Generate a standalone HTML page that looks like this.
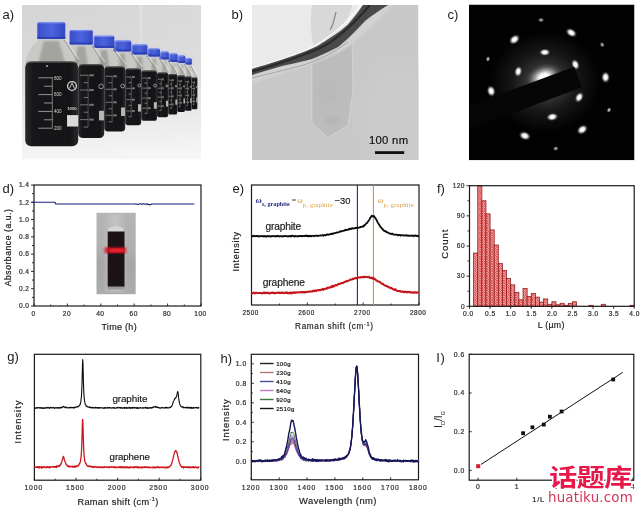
<!DOCTYPE html>
<html><head><meta charset="utf-8"><title>Figure</title>
<style>html,body{margin:0;padding:0;background:#fff;overflow:hidden;width:640px;height:510px;} svg{display:block;filter:blur(0.3px);}</style></head>
<body><svg width="640" height="510" viewBox="0 0 640 510" font-family="'Liberation Sans', Arial, sans-serif">
<rect width="640" height="510" fill="#fff"/>
<text x="2.5" y="18.5" font-size="13" text-anchor="start" fill="#1a1a1a" letter-spacing="0">a)</text>
<text x="231.5" y="18.5" font-size="13" text-anchor="start" fill="#1a1a1a" letter-spacing="0">b)</text>
<text x="447.5" y="18.5" font-size="13" text-anchor="start" fill="#1a1a1a" letter-spacing="0">c)</text>
<text x="2.5" y="192.7" font-size="13" text-anchor="start" fill="#1a1a1a" letter-spacing="0">d)</text>
<text x="232.5" y="192.8" font-size="13" text-anchor="start" fill="#1a1a1a" letter-spacing="0">e)</text>
<text x="437" y="192.5" font-size="13" text-anchor="start" fill="#1a1a1a" letter-spacing="0">f)</text>
<text x="7.2" y="360.5" font-size="13" text-anchor="start" fill="#1a1a1a" letter-spacing="0">g)</text>
<text x="220.5" y="362.6" font-size="13" text-anchor="start" fill="#1a1a1a" letter-spacing="0">h)</text>
<text x="436.3" y="361.6" font-size="13" text-anchor="start" fill="#1a1a1a" letter-spacing="0.7">I)</text>
<defs>
<linearGradient id="aBg" x1="0" y1="0" x2="0" y2="1">
 <stop offset="0" stop-color="#d5d5d5"/><stop offset="0.45" stop-color="#d9d9d9"/>
 <stop offset="0.62" stop-color="#e2e2e2"/><stop offset="1" stop-color="#f6f6f6"/></linearGradient>
<linearGradient id="aBgR" x1="0" y1="0" x2="1" y2="0">
 <stop offset="0" stop-color="#fff" stop-opacity="0"/><stop offset="0.6" stop-color="#fff" stop-opacity="0.05"/>
 <stop offset="1" stop-color="#fff" stop-opacity="0.12"/></linearGradient>
<linearGradient id="cap" x1="0" y1="0" x2="1" y2="0">
 <stop offset="0" stop-color="#3a50cc"/><stop offset="0.5" stop-color="#5068e4"/><stop offset="1" stop-color="#3448c0"/></linearGradient>
<linearGradient id="glass" x1="0" y1="0" x2="1" y2="0">
 <stop offset="0" stop-color="#a8a8a8"/><stop offset="0.2" stop-color="#c4c4c0"/><stop offset="0.45" stop-color="#b4b4b0"/><stop offset="0.7" stop-color="#c8c8c4"/><stop offset="1" stop-color="#9a9a9a"/></linearGradient>
<linearGradient id="liq" x1="0" y1="0" x2="1" y2="0">
 <stop offset="0" stop-color="#2a2a2e"/><stop offset="0.15" stop-color="#17171a"/><stop offset="0.85" stop-color="#141417"/><stop offset="1" stop-color="#2a2a2c"/></linearGradient>
<filter id="blur05"><feGaussianBlur stdDeviation="0.5"/></filter>
<filter id="blur1"><feGaussianBlur stdDeviation="1"/></filter>
<filter id="blur2"><feGaussianBlur stdDeviation="2"/></filter>
<filter id="blur4"><feGaussianBlur stdDeviation="4"/></filter>
<filter id="blur8"><feGaussianBlur stdDeviation="8"/></filter>
<clipPath id="clipA"><rect x="22" y="5" width="179" height="154.5"/></clipPath>
<clipPath id="clipB"><rect x="252" y="5" width="166.5" height="155"/></clipPath>
<clipPath id="clipC"><rect x="469" y="4.5" width="165.5" height="155.8"/></clipPath>
</defs>
<g clip-path="url(#clipA)">
<rect x="22" y="5" width="179" height="154.5" fill="url(#aBg)"/>
<rect x="22" y="5" width="179" height="154.5" fill="url(#aBgR)"/>
<rect x="139.5" y="5" width="3" height="45" fill="#e4e4e4" opacity="0.7" filter="url(#blur1)"/>
<path d="M25.2,63.5 L38.3,39 L64.3,39 L70.6,44.5 L91.8,44.5 L94.6,48 L113.3,48 L114.6,51.4 L130.3,51.4 L132.6,54.5 L146.5,54.5 L148.8,56.6 L159,56.6 L160.6,59.4 L167.8,59.4 L169.6,62 L176.6,62 L178.4,63 L184.4,63 L186.2,64.6 L190.8,64.6 L197.4,79.5 L197.4,79.5 L191.6,79.5 L191.6,78.5 L185,78.5 L185,77.5 L177.2,77.5 L177.2,76 L168.2,76 L168.2,74.5 L157,74.5 L157,72.5 L141.2,72.5 L141.2,70.5 L125.2,70.5 L125.2,68.5 L104.2,68.5 L104.2,66.2 L78.2,66.2 L78.2,63.5 L25.2,63.5 Z" fill="#c8c8c5"/>
<path d="M25.2,63.5 Q27,48 37.5,42 L40,39 L40,63.5 Z" fill="#c9c9c6"/>
<path d="M187.69,66.6 L189.31,66.6 L190.01,78.5 L187.11,78.5 Z" fill="#9a9a96" opacity="0.8" filter="url(#blur1)"/>
<line x1="190.8" y1="65.6" x2="196.9" y2="77.5" stroke="#8c8c8c" stroke-width="0.9" opacity="0.8"/>
<line x1="192.3" y1="65.6" x2="198.4" y2="75.5" stroke="#eeeeee" stroke-width="0.8" opacity="0.8"/>
<rect x="191.6" y="77.5" width="5.8" height="31.8" rx="1.04" fill="url(#liq)"/>
<rect x="192.6" y="77.5" width="3.8" height="1.2" fill="#6a6a6a" opacity="0.6"/>
<rect x="184.2" y="57" width="8.6" height="8.1" rx="2.5" fill="#c8d0f4" opacity="0.7" filter="url(#blur1)"/>
<rect x="185.2" y="58" width="6.6" height="6.6" rx="1.8" fill="url(#cap)"/>
<line x1="186.85" y1="59.5" x2="186.85" y2="62.1" stroke="#3347b8" stroke-width="0.5" opacity="0.6"/>
<line x1="188.5" y1="59.5" x2="188.5" y2="62.1" stroke="#3347b8" stroke-width="0.5" opacity="0.6"/>
<line x1="190.15" y1="59.5" x2="190.15" y2="62.1" stroke="#3347b8" stroke-width="0.5" opacity="0.6"/>
<rect x="185.2" y="62.4" width="6.6" height="2.2" fill="#2b3cac" opacity="0.85"/>
<rect x="186.2" y="58" width="4.6" height="1.2" fill="#8a9af0" opacity="0.7"/>
<line x1="192.01" y1="82.27" x2="193.8" y2="82.27" stroke="#b4b4b4" stroke-width="0.6"/>
<rect x="194.04" y="81.27" width="1.04" height="2" fill="#8a8a8a" opacity="0.8"/>
<line x1="192.82" y1="85.45" x2="193.8" y2="85.45" stroke="#b4b4b4" stroke-width="0.6"/>
<line x1="192.01" y1="88.63" x2="193.8" y2="88.63" stroke="#b4b4b4" stroke-width="0.6"/>
<rect x="194.04" y="87.63" width="1.04" height="2" fill="#8a8a8a" opacity="0.8"/>
<line x1="192.82" y1="91.81" x2="193.8" y2="91.81" stroke="#b4b4b4" stroke-width="0.6"/>
<line x1="192.01" y1="94.99" x2="193.8" y2="94.99" stroke="#b4b4b4" stroke-width="0.6"/>
<rect x="194.04" y="93.99" width="1.04" height="2" fill="#8a8a8a" opacity="0.8"/>
<line x1="192.82" y1="98.17" x2="193.8" y2="98.17" stroke="#b4b4b4" stroke-width="0.6"/>
<line x1="192.01" y1="101.35" x2="193.8" y2="101.35" stroke="#b4b4b4" stroke-width="0.6"/>
<rect x="194.04" y="100.35" width="1.04" height="2" fill="#8a8a8a" opacity="0.8"/>
<line x1="192.82" y1="104.53" x2="193.8" y2="104.53" stroke="#b4b4b4" stroke-width="0.6"/>
<line x1="193.8" y1="82.27" x2="193.8" y2="104.53" stroke="#8a8a8a" stroke-width="0.5"/>
<rect x="196.24" y="97.53" width="1.1" height="5" fill="#c8c8c8" opacity="0.9"/>
<circle cx="196.7" cy="87.04" r="0.52" fill="none" stroke="#b0b0b0" stroke-width="0.8"/>
<path d="M180.48,65 L182.32,65 L183.12,77.5 L179.82,77.5 Z" fill="#9a9a96" opacity="0.8" filter="url(#blur1)"/>
<line x1="184.4" y1="64" x2="191.1" y2="76.5" stroke="#8c8c8c" stroke-width="0.9" opacity="0.8"/>
<line x1="185.9" y1="64" x2="192.6" y2="74.5" stroke="#eeeeee" stroke-width="0.8" opacity="0.8"/>
<rect x="185" y="76.5" width="6.6" height="34.3" rx="1.19" fill="url(#liq)"/>
<rect x="186" y="76.5" width="4.6" height="1.2" fill="#6a6a6a" opacity="0.6"/>
<rect x="176.4" y="54.5" width="10" height="9" rx="2.5" fill="#c8d0f4" opacity="0.7" filter="url(#blur1)"/>
<rect x="177.4" y="55.5" width="8" height="7.5" rx="1.8" fill="url(#cap)"/>
<line x1="179.4" y1="57" x2="179.4" y2="60.5" stroke="#3347b8" stroke-width="0.5" opacity="0.6"/>
<line x1="181.4" y1="57" x2="181.4" y2="60.5" stroke="#3347b8" stroke-width="0.5" opacity="0.6"/>
<line x1="183.4" y1="57" x2="183.4" y2="60.5" stroke="#3347b8" stroke-width="0.5" opacity="0.6"/>
<rect x="177.4" y="60.8" width="8" height="2.2" fill="#2b3cac" opacity="0.85"/>
<rect x="178.4" y="55.5" width="6" height="1.2" fill="#8a9af0" opacity="0.7"/>
<line x1="185.46" y1="81.64" x2="187.51" y2="81.64" stroke="#b4b4b4" stroke-width="0.6"/>
<rect x="187.77" y="80.64" width="1.19" height="2" fill="#8a8a8a" opacity="0.8"/>
<line x1="186.38" y1="85.08" x2="187.51" y2="85.08" stroke="#b4b4b4" stroke-width="0.6"/>
<line x1="185.46" y1="88.5" x2="187.51" y2="88.5" stroke="#b4b4b4" stroke-width="0.6"/>
<rect x="187.77" y="87.5" width="1.19" height="2" fill="#8a8a8a" opacity="0.8"/>
<line x1="186.38" y1="91.94" x2="187.51" y2="91.94" stroke="#b4b4b4" stroke-width="0.6"/>
<line x1="185.46" y1="95.36" x2="187.51" y2="95.36" stroke="#b4b4b4" stroke-width="0.6"/>
<rect x="187.77" y="94.36" width="1.19" height="2" fill="#8a8a8a" opacity="0.8"/>
<line x1="186.38" y1="98.8" x2="187.51" y2="98.8" stroke="#b4b4b4" stroke-width="0.6"/>
<line x1="185.46" y1="102.22" x2="187.51" y2="102.22" stroke="#b4b4b4" stroke-width="0.6"/>
<rect x="187.77" y="101.22" width="1.19" height="2" fill="#8a8a8a" opacity="0.8"/>
<line x1="186.38" y1="105.66" x2="187.51" y2="105.66" stroke="#b4b4b4" stroke-width="0.6"/>
<line x1="187.51" y1="81.64" x2="187.51" y2="105.66" stroke="#8a8a8a" stroke-width="0.5"/>
<rect x="190.28" y="98.11" width="1.25" height="5" fill="#c8c8c8" opacity="0.9"/>
<circle cx="190.81" cy="86.79" r="0.59" fill="none" stroke="#b0b0b0" stroke-width="0.8"/>
<path d="M172.01,64 L174.19,64 L175.13,76.5 L171.23,76.5 Z" fill="#9a9a96" opacity="0.8" filter="url(#blur1)"/>
<line x1="176.6" y1="63" x2="184.5" y2="75.5" stroke="#8c8c8c" stroke-width="0.9" opacity="0.8"/>
<line x1="178.1" y1="63" x2="186" y2="73.5" stroke="#eeeeee" stroke-width="0.8" opacity="0.8"/>
<rect x="177.2" y="75.5" width="7.8" height="36.5" rx="1.4" fill="url(#liq)"/>
<rect x="178.2" y="75.5" width="5.8" height="1.2" fill="#6a6a6a" opacity="0.6"/>
<rect x="167.6" y="52.5" width="11" height="10" rx="2.5" fill="#c8d0f4" opacity="0.7" filter="url(#blur1)"/>
<rect x="168.6" y="53.5" width="9" height="8.5" rx="1.8" fill="url(#cap)"/>
<line x1="170.85" y1="55" x2="170.85" y2="59.5" stroke="#3347b8" stroke-width="0.5" opacity="0.6"/>
<line x1="173.1" y1="55" x2="173.1" y2="59.5" stroke="#3347b8" stroke-width="0.5" opacity="0.6"/>
<line x1="175.35" y1="55" x2="175.35" y2="59.5" stroke="#3347b8" stroke-width="0.5" opacity="0.6"/>
<rect x="168.6" y="59.8" width="9" height="2.2" fill="#2b3cac" opacity="0.85"/>
<rect x="169.6" y="53.5" width="7" height="1.2" fill="#8a9af0" opacity="0.7"/>
<line x1="177.75" y1="80.97" x2="180.16" y2="80.97" stroke="#b4b4b4" stroke-width="0.6"/>
<rect x="180.48" y="79.97" width="1.4" height="2" fill="#8a8a8a" opacity="0.8"/>
<line x1="178.83" y1="84.62" x2="180.16" y2="84.62" stroke="#b4b4b4" stroke-width="0.6"/>
<line x1="177.75" y1="88.27" x2="180.16" y2="88.27" stroke="#b4b4b4" stroke-width="0.6"/>
<rect x="180.48" y="87.27" width="1.4" height="2" fill="#8a8a8a" opacity="0.8"/>
<line x1="178.83" y1="91.92" x2="180.16" y2="91.92" stroke="#b4b4b4" stroke-width="0.6"/>
<line x1="177.75" y1="95.58" x2="180.16" y2="95.58" stroke="#b4b4b4" stroke-width="0.6"/>
<rect x="180.48" y="94.58" width="1.4" height="2" fill="#8a8a8a" opacity="0.8"/>
<line x1="178.83" y1="99.22" x2="180.16" y2="99.22" stroke="#b4b4b4" stroke-width="0.6"/>
<line x1="177.75" y1="102.88" x2="180.16" y2="102.88" stroke="#b4b4b4" stroke-width="0.6"/>
<rect x="180.48" y="101.88" width="1.4" height="2" fill="#8a8a8a" opacity="0.8"/>
<line x1="178.83" y1="106.53" x2="180.16" y2="106.53" stroke="#b4b4b4" stroke-width="0.6"/>
<line x1="180.16" y1="80.97" x2="180.16" y2="106.53" stroke="#8a8a8a" stroke-width="0.5"/>
<rect x="183.44" y="98.5" width="1.48" height="5" fill="#c8c8c8" opacity="0.9"/>
<circle cx="184.06" cy="86.45" r="0.7" fill="none" stroke="#b0b0b0" stroke-width="0.8"/>
<path d="M162.94,61.4 L165.46,61.4 L166.54,75 L162.04,75 Z" fill="#9a9a96" opacity="0.8" filter="url(#blur1)"/>
<line x1="167.8" y1="60.4" x2="176.7" y2="74" stroke="#8c8c8c" stroke-width="0.9" opacity="0.8"/>
<line x1="169.3" y1="60.4" x2="178.2" y2="72" stroke="#eeeeee" stroke-width="0.8" opacity="0.8"/>
<rect x="168.2" y="74" width="9" height="40.5" rx="1.62" fill="url(#liq)"/>
<rect x="169.2" y="74" width="7" height="1.2" fill="#6a6a6a" opacity="0.6"/>
<rect x="158.6" y="50.6" width="11.2" height="9.3" rx="2.5" fill="#c8d0f4" opacity="0.7" filter="url(#blur1)"/>
<rect x="159.6" y="51.6" width="9.2" height="7.8" rx="1.8" fill="url(#cap)"/>
<line x1="161.9" y1="53.1" x2="161.9" y2="56.9" stroke="#3347b8" stroke-width="0.5" opacity="0.6"/>
<line x1="164.2" y1="53.1" x2="164.2" y2="56.9" stroke="#3347b8" stroke-width="0.5" opacity="0.6"/>
<line x1="166.5" y1="53.1" x2="166.5" y2="56.9" stroke="#3347b8" stroke-width="0.5" opacity="0.6"/>
<rect x="159.6" y="57.2" width="9.2" height="2.2" fill="#2b3cac" opacity="0.85"/>
<rect x="160.6" y="51.6" width="7.2" height="1.2" fill="#8a9af0" opacity="0.7"/>
<line x1="168.83" y1="80.08" x2="171.62" y2="80.08" stroke="#b4b4b4" stroke-width="0.6"/>
<rect x="171.98" y="79.08" width="1.62" height="2" fill="#8a8a8a" opacity="0.8"/>
<line x1="170.09" y1="84.12" x2="171.62" y2="84.12" stroke="#b4b4b4" stroke-width="0.6"/>
<line x1="168.83" y1="88.17" x2="171.62" y2="88.17" stroke="#b4b4b4" stroke-width="0.6"/>
<rect x="171.98" y="87.17" width="1.62" height="2" fill="#8a8a8a" opacity="0.8"/>
<line x1="170.09" y1="92.22" x2="171.62" y2="92.22" stroke="#b4b4b4" stroke-width="0.6"/>
<line x1="168.83" y1="96.28" x2="171.62" y2="96.28" stroke="#b4b4b4" stroke-width="0.6"/>
<rect x="171.98" y="95.28" width="1.62" height="2" fill="#8a8a8a" opacity="0.8"/>
<line x1="170.09" y1="100.33" x2="171.62" y2="100.33" stroke="#b4b4b4" stroke-width="0.6"/>
<line x1="168.83" y1="104.38" x2="171.62" y2="104.38" stroke="#b4b4b4" stroke-width="0.6"/>
<rect x="171.98" y="103.38" width="1.62" height="2" fill="#8a8a8a" opacity="0.8"/>
<line x1="170.09" y1="108.42" x2="171.62" y2="108.42" stroke="#b4b4b4" stroke-width="0.6"/>
<line x1="171.62" y1="80.08" x2="171.62" y2="108.42" stroke="#8a8a8a" stroke-width="0.5"/>
<rect x="175.4" y="99.52" width="1.71" height="5.27" fill="#c8c8c8" opacity="0.9"/>
<circle cx="176.12" cy="86.15" r="0.81" fill="none" stroke="#b0b0b0" stroke-width="0.8"/>
<path d="M152.33,58.6 L155.47,58.6 L156.81,73.5 L151.21,73.5 Z" fill="#9a9a96" opacity="0.8" filter="url(#blur1)"/>
<line x1="159" y1="57.6" x2="167.7" y2="72.5" stroke="#8c8c8c" stroke-width="0.9" opacity="0.8"/>
<line x1="160.5" y1="57.6" x2="169.2" y2="70.5" stroke="#eeeeee" stroke-width="0.8" opacity="0.8"/>
<rect x="157" y="72.5" width="11.2" height="44.8" rx="2.02" fill="url(#liq)"/>
<rect x="158" y="72.5" width="9.2" height="1.2" fill="#6a6a6a" opacity="0.6"/>
<rect x="146.8" y="47.4" width="14.2" height="9.7" rx="2.5" fill="#c8d0f4" opacity="0.7" filter="url(#blur1)"/>
<rect x="147.8" y="48.4" width="12.2" height="8.2" rx="1.8" fill="url(#cap)"/>
<line x1="150.24" y1="49.9" x2="150.24" y2="54.1" stroke="#3347b8" stroke-width="0.5" opacity="0.6"/>
<line x1="152.68" y1="49.9" x2="152.68" y2="54.1" stroke="#3347b8" stroke-width="0.5" opacity="0.6"/>
<line x1="155.12" y1="49.9" x2="155.12" y2="54.1" stroke="#3347b8" stroke-width="0.5" opacity="0.6"/>
<line x1="157.56" y1="49.9" x2="157.56" y2="54.1" stroke="#3347b8" stroke-width="0.5" opacity="0.6"/>
<rect x="147.8" y="54.4" width="12.2" height="2.2" fill="#2b3cac" opacity="0.85"/>
<rect x="148.8" y="48.4" width="10.2" height="1.2" fill="#8a9af0" opacity="0.7"/>
<line x1="157.78" y1="79.22" x2="161.26" y2="79.22" stroke="#b4b4b4" stroke-width="0.6"/>
<rect x="161.7" y="78.22" width="2.02" height="2" fill="#8a8a8a" opacity="0.8"/>
<line x1="159.35" y1="83.7" x2="161.26" y2="83.7" stroke="#b4b4b4" stroke-width="0.6"/>
<line x1="157.78" y1="88.18" x2="161.26" y2="88.18" stroke="#b4b4b4" stroke-width="0.6"/>
<rect x="161.7" y="87.18" width="2.02" height="2" fill="#8a8a8a" opacity="0.8"/>
<line x1="159.35" y1="92.66" x2="161.26" y2="92.66" stroke="#b4b4b4" stroke-width="0.6"/>
<line x1="157.78" y1="97.14" x2="161.26" y2="97.14" stroke="#b4b4b4" stroke-width="0.6"/>
<rect x="161.7" y="96.14" width="2.02" height="2" fill="#8a8a8a" opacity="0.8"/>
<line x1="159.35" y1="101.62" x2="161.26" y2="101.62" stroke="#b4b4b4" stroke-width="0.6"/>
<line x1="157.78" y1="106.1" x2="161.26" y2="106.1" stroke="#b4b4b4" stroke-width="0.6"/>
<rect x="161.7" y="105.1" width="2.02" height="2" fill="#8a8a8a" opacity="0.8"/>
<line x1="159.35" y1="110.58" x2="161.26" y2="110.58" stroke="#b4b4b4" stroke-width="0.6"/>
<line x1="161.26" y1="79.22" x2="161.26" y2="110.58" stroke="#8a8a8a" stroke-width="0.5"/>
<rect x="165.96" y="100.72" width="2.13" height="5.82" fill="#c8c8c8" opacity="0.9"/>
<circle cx="166.86" cy="85.94" r="1.01" fill="none" stroke="#b0b0b0" stroke-width="0.8"/>
<path d="M137.34,56.5 L141.76,56.5 L143.66,71.5 L135.76,71.5 Z" fill="#9a9a96" opacity="0.8" filter="url(#blur1)"/>
<line x1="146.5" y1="55.5" x2="156.5" y2="70.5" stroke="#8c8c8c" stroke-width="0.9" opacity="0.8"/>
<line x1="148" y1="55.5" x2="158" y2="68.5" stroke="#eeeeee" stroke-width="0.8" opacity="0.8"/>
<rect x="141.2" y="70.5" width="15.8" height="50.3" rx="2.84" fill="url(#liq)"/>
<rect x="142.2" y="70.5" width="13.8" height="1.2" fill="#6a6a6a" opacity="0.6"/>
<rect x="130.6" y="43.5" width="17.9" height="11.5" rx="2.5" fill="#c8d0f4" opacity="0.7" filter="url(#blur1)"/>
<rect x="131.6" y="44.5" width="15.9" height="10" rx="1.8" fill="url(#cap)"/>
<line x1="133.87" y1="46" x2="133.87" y2="52" stroke="#3347b8" stroke-width="0.5" opacity="0.6"/>
<line x1="136.14" y1="46" x2="136.14" y2="52" stroke="#3347b8" stroke-width="0.5" opacity="0.6"/>
<line x1="138.41" y1="46" x2="138.41" y2="52" stroke="#3347b8" stroke-width="0.5" opacity="0.6"/>
<line x1="140.69" y1="46" x2="140.69" y2="52" stroke="#3347b8" stroke-width="0.5" opacity="0.6"/>
<line x1="142.96" y1="46" x2="142.96" y2="52" stroke="#3347b8" stroke-width="0.5" opacity="0.6"/>
<line x1="145.23" y1="46" x2="145.23" y2="52" stroke="#3347b8" stroke-width="0.5" opacity="0.6"/>
<rect x="131.6" y="52.3" width="15.9" height="2.2" fill="#2b3cac" opacity="0.85"/>
<rect x="132.6" y="44.5" width="13.9" height="1.2" fill="#8a9af0" opacity="0.7"/>
<line x1="142.31" y1="78.05" x2="147.2" y2="78.05" stroke="#b4b4b4" stroke-width="0.6"/>
<rect x="147.84" y="77.05" width="2.84" height="2" fill="#8a8a8a" opacity="0.8"/>
<line x1="144.51" y1="83.08" x2="147.2" y2="83.08" stroke="#b4b4b4" stroke-width="0.6"/>
<line x1="142.31" y1="88.11" x2="147.2" y2="88.11" stroke="#b4b4b4" stroke-width="0.6"/>
<rect x="147.84" y="87.11" width="2.84" height="2" fill="#8a8a8a" opacity="0.8"/>
<line x1="144.51" y1="93.14" x2="147.2" y2="93.14" stroke="#b4b4b4" stroke-width="0.6"/>
<line x1="142.31" y1="98.16" x2="147.2" y2="98.16" stroke="#b4b4b4" stroke-width="0.6"/>
<rect x="147.84" y="97.16" width="2.84" height="2" fill="#8a8a8a" opacity="0.8"/>
<line x1="144.51" y1="103.19" x2="147.2" y2="103.19" stroke="#b4b4b4" stroke-width="0.6"/>
<line x1="142.31" y1="108.22" x2="147.2" y2="108.22" stroke="#b4b4b4" stroke-width="0.6"/>
<rect x="147.84" y="107.22" width="2.84" height="2" fill="#8a8a8a" opacity="0.8"/>
<line x1="144.51" y1="113.25" x2="147.2" y2="113.25" stroke="#b4b4b4" stroke-width="0.6"/>
<line x1="147.2" y1="78.05" x2="147.2" y2="113.25" stroke="#8a8a8a" stroke-width="0.5"/>
<rect x="153.84" y="102.19" width="3" height="6.54" fill="#c8c8c8" opacity="0.9"/>
<circle cx="155.1" cy="85.59" r="1.42" fill="none" stroke="#b0b0b0" stroke-width="0.8"/>
<path d="M120.21,53.4 L124.69,53.4 L126.61,69.5 L118.61,69.5 Z" fill="#9a9a96" opacity="0.8" filter="url(#blur1)"/>
<line x1="130.3" y1="52.4" x2="140.7" y2="68.5" stroke="#8c8c8c" stroke-width="0.9" opacity="0.8"/>
<line x1="131.8" y1="52.4" x2="142.2" y2="66.5" stroke="#eeeeee" stroke-width="0.8" opacity="0.8"/>
<rect x="125.2" y="68.5" width="16" height="56.7" rx="2.88" fill="url(#liq)"/>
<rect x="126.2" y="68.5" width="14" height="1.2" fill="#6a6a6a" opacity="0.6"/>
<rect x="112.6" y="39.6" width="19.7" height="12.3" rx="2.5" fill="#c8d0f4" opacity="0.7" filter="url(#blur1)"/>
<rect x="113.6" y="40.6" width="17.7" height="10.8" rx="1.8" fill="url(#cap)"/>
<line x1="115.81" y1="42.1" x2="115.81" y2="48.9" stroke="#3347b8" stroke-width="0.5" opacity="0.6"/>
<line x1="118.03" y1="42.1" x2="118.03" y2="48.9" stroke="#3347b8" stroke-width="0.5" opacity="0.6"/>
<line x1="120.24" y1="42.1" x2="120.24" y2="48.9" stroke="#3347b8" stroke-width="0.5" opacity="0.6"/>
<line x1="122.45" y1="42.1" x2="122.45" y2="48.9" stroke="#3347b8" stroke-width="0.5" opacity="0.6"/>
<line x1="124.66" y1="42.1" x2="124.66" y2="48.9" stroke="#3347b8" stroke-width="0.5" opacity="0.6"/>
<line x1="126.88" y1="42.1" x2="126.88" y2="48.9" stroke="#3347b8" stroke-width="0.5" opacity="0.6"/>
<line x1="129.09" y1="42.1" x2="129.09" y2="48.9" stroke="#3347b8" stroke-width="0.5" opacity="0.6"/>
<rect x="113.6" y="49.2" width="17.7" height="2.2" fill="#2b3cac" opacity="0.85"/>
<rect x="114.6" y="40.6" width="15.7" height="1.2" fill="#8a9af0" opacity="0.7"/>
<line x1="126.32" y1="77" x2="131.28" y2="77" stroke="#b4b4b4" stroke-width="0.6"/>
<rect x="131.92" y="76" width="2.88" height="2" fill="#8a8a8a" opacity="0.8"/>
<line x1="128.55" y1="82.67" x2="131.28" y2="82.67" stroke="#b4b4b4" stroke-width="0.6"/>
<line x1="126.32" y1="88.34" x2="131.28" y2="88.34" stroke="#b4b4b4" stroke-width="0.6"/>
<rect x="131.92" y="87.34" width="2.88" height="2" fill="#8a8a8a" opacity="0.8"/>
<line x1="128.55" y1="94.01" x2="131.28" y2="94.01" stroke="#b4b4b4" stroke-width="0.6"/>
<line x1="126.32" y1="99.69" x2="131.28" y2="99.69" stroke="#b4b4b4" stroke-width="0.6"/>
<rect x="131.92" y="98.69" width="2.88" height="2" fill="#8a8a8a" opacity="0.8"/>
<line x1="128.55" y1="105.35" x2="131.28" y2="105.35" stroke="#b4b4b4" stroke-width="0.6"/>
<line x1="126.32" y1="111.02" x2="131.28" y2="111.02" stroke="#b4b4b4" stroke-width="0.6"/>
<rect x="131.92" y="110.02" width="2.88" height="2" fill="#8a8a8a" opacity="0.8"/>
<line x1="128.55" y1="116.69" x2="131.28" y2="116.69" stroke="#b4b4b4" stroke-width="0.6"/>
<line x1="131.28" y1="77" x2="131.28" y2="116.69" stroke="#8a8a8a" stroke-width="0.5"/>
<rect x="138" y="104.22" width="3.04" height="7.37" fill="#c8c8c8" opacity="0.9"/>
<circle cx="139.28" cy="85.51" r="1.44" fill="none" stroke="#b0b0b0" stroke-width="0.8"/>
<path d="M101.01,50 L106.89,50 L109.41,67.5 L98.91,67.5 Z" fill="#9a9a96" opacity="0.8" filter="url(#blur1)"/>
<line x1="113.3" y1="49" x2="124.7" y2="66.5" stroke="#8c8c8c" stroke-width="0.9" opacity="0.8"/>
<line x1="114.8" y1="49" x2="126.2" y2="64.5" stroke="#eeeeee" stroke-width="0.8" opacity="0.8"/>
<rect x="104.2" y="66.5" width="21" height="65.1" rx="3.78" fill="url(#liq)"/>
<rect x="105.2" y="66.5" width="19" height="1.2" fill="#6a6a6a" opacity="0.6"/>
<rect x="92.6" y="34.8" width="22.7" height="13.7" rx="2.5" fill="#c8d0f4" opacity="0.7" filter="url(#blur1)"/>
<rect x="93.6" y="35.8" width="20.7" height="12.2" rx="1.8" fill="url(#cap)"/>
<line x1="95.9" y1="37.3" x2="95.9" y2="45.5" stroke="#3347b8" stroke-width="0.5" opacity="0.6"/>
<line x1="98.2" y1="37.3" x2="98.2" y2="45.5" stroke="#3347b8" stroke-width="0.5" opacity="0.6"/>
<line x1="100.5" y1="37.3" x2="100.5" y2="45.5" stroke="#3347b8" stroke-width="0.5" opacity="0.6"/>
<line x1="102.8" y1="37.3" x2="102.8" y2="45.5" stroke="#3347b8" stroke-width="0.5" opacity="0.6"/>
<line x1="105.1" y1="37.3" x2="105.1" y2="45.5" stroke="#3347b8" stroke-width="0.5" opacity="0.6"/>
<line x1="107.4" y1="37.3" x2="107.4" y2="45.5" stroke="#3347b8" stroke-width="0.5" opacity="0.6"/>
<line x1="109.7" y1="37.3" x2="109.7" y2="45.5" stroke="#3347b8" stroke-width="0.5" opacity="0.6"/>
<line x1="112" y1="37.3" x2="112" y2="45.5" stroke="#3347b8" stroke-width="0.5" opacity="0.6"/>
<rect x="93.6" y="45.8" width="20.7" height="2.2" fill="#2b3cac" opacity="0.85"/>
<rect x="94.6" y="35.8" width="18.7" height="1.2" fill="#8a9af0" opacity="0.7"/>
<line x1="105.67" y1="76.27" x2="112.18" y2="76.27" stroke="#b4b4b4" stroke-width="0.6"/>
<rect x="113.02" y="75.27" width="3.78" height="2" fill="#8a8a8a" opacity="0.8"/>
<line x1="108.6" y1="82.78" x2="112.18" y2="82.78" stroke="#b4b4b4" stroke-width="0.6"/>
<line x1="105.67" y1="89.28" x2="112.18" y2="89.28" stroke="#b4b4b4" stroke-width="0.6"/>
<rect x="113.02" y="88.28" width="3.78" height="2" fill="#8a8a8a" opacity="0.8"/>
<line x1="108.6" y1="95.8" x2="112.18" y2="95.8" stroke="#b4b4b4" stroke-width="0.6"/>
<line x1="105.67" y1="102.3" x2="112.18" y2="102.3" stroke="#b4b4b4" stroke-width="0.6"/>
<rect x="113.02" y="101.3" width="3.78" height="2" fill="#8a8a8a" opacity="0.8"/>
<line x1="108.6" y1="108.81" x2="112.18" y2="108.81" stroke="#b4b4b4" stroke-width="0.6"/>
<line x1="105.67" y1="115.32" x2="112.18" y2="115.32" stroke="#b4b4b4" stroke-width="0.6"/>
<rect x="113.02" y="114.32" width="3.78" height="2" fill="#8a8a8a" opacity="0.8"/>
<line x1="108.6" y1="121.83" x2="112.18" y2="121.83" stroke="#b4b4b4" stroke-width="0.6"/>
<line x1="112.18" y1="76.27" x2="112.18" y2="121.83" stroke="#8a8a8a" stroke-width="0.5"/>
<rect x="121" y="107.51" width="3.99" height="8.46" fill="#c8c8c8" opacity="0.9"/>
<circle cx="122.68" cy="86.03" r="1.89" fill="none" stroke="#b0b0b0" stroke-width="0.8"/>
<path d="M77.56,46.5 L84.84,46.5 L87.96,65.2 L74.96,65.2 Z" fill="#9a9a96" opacity="0.8" filter="url(#blur1)"/>
<line x1="91.8" y1="45.5" x2="103.7" y2="64.2" stroke="#8c8c8c" stroke-width="0.9" opacity="0.8"/>
<line x1="93.3" y1="45.5" x2="105.2" y2="62.2" stroke="#eeeeee" stroke-width="0.8" opacity="0.8"/>
<rect x="78.2" y="64.2" width="26" height="73.9" rx="4.68" fill="url(#liq)"/>
<rect x="79.2" y="64.2" width="24" height="1.2" fill="#6a6a6a" opacity="0.6"/>
<rect x="68.6" y="29" width="25.2" height="16" rx="2.5" fill="#c8d0f4" opacity="0.7" filter="url(#blur1)"/>
<rect x="69.6" y="30" width="23.2" height="14.5" rx="1.8" fill="url(#cap)"/>
<line x1="71.92" y1="31.5" x2="71.92" y2="42" stroke="#3347b8" stroke-width="0.5" opacity="0.6"/>
<line x1="74.24" y1="31.5" x2="74.24" y2="42" stroke="#3347b8" stroke-width="0.5" opacity="0.6"/>
<line x1="76.56" y1="31.5" x2="76.56" y2="42" stroke="#3347b8" stroke-width="0.5" opacity="0.6"/>
<line x1="78.88" y1="31.5" x2="78.88" y2="42" stroke="#3347b8" stroke-width="0.5" opacity="0.6"/>
<line x1="81.2" y1="31.5" x2="81.2" y2="42" stroke="#3347b8" stroke-width="0.5" opacity="0.6"/>
<line x1="83.52" y1="31.5" x2="83.52" y2="42" stroke="#3347b8" stroke-width="0.5" opacity="0.6"/>
<line x1="85.84" y1="31.5" x2="85.84" y2="42" stroke="#3347b8" stroke-width="0.5" opacity="0.6"/>
<line x1="88.16" y1="31.5" x2="88.16" y2="42" stroke="#3347b8" stroke-width="0.5" opacity="0.6"/>
<line x1="90.48" y1="31.5" x2="90.48" y2="42" stroke="#3347b8" stroke-width="0.5" opacity="0.6"/>
<rect x="69.6" y="42.3" width="23.2" height="2.2" fill="#2b3cac" opacity="0.85"/>
<rect x="70.6" y="30" width="21.2" height="1.2" fill="#8a9af0" opacity="0.7"/>
<line x1="80.02" y1="75.28" x2="88.08" y2="75.28" stroke="#b4b4b4" stroke-width="0.6"/>
<rect x="89.12" y="74.28" width="4.68" height="2" fill="#8a8a8a" opacity="0.8"/>
<line x1="83.65" y1="82.67" x2="88.08" y2="82.67" stroke="#b4b4b4" stroke-width="0.6"/>
<line x1="80.02" y1="90.06" x2="88.08" y2="90.06" stroke="#b4b4b4" stroke-width="0.6"/>
<rect x="89.12" y="89.06" width="4.68" height="2" fill="#8a8a8a" opacity="0.8"/>
<line x1="83.65" y1="97.45" x2="88.08" y2="97.45" stroke="#b4b4b4" stroke-width="0.6"/>
<line x1="80.02" y1="104.84" x2="88.08" y2="104.84" stroke="#b4b4b4" stroke-width="0.6"/>
<rect x="89.12" y="103.84" width="4.68" height="2" fill="#8a8a8a" opacity="0.8"/>
<line x1="83.65" y1="112.23" x2="88.08" y2="112.23" stroke="#b4b4b4" stroke-width="0.6"/>
<line x1="80.02" y1="119.62" x2="88.08" y2="119.62" stroke="#b4b4b4" stroke-width="0.6"/>
<rect x="89.12" y="118.62" width="4.68" height="2" fill="#8a8a8a" opacity="0.8"/>
<line x1="83.65" y1="127.01" x2="88.08" y2="127.01" stroke="#b4b4b4" stroke-width="0.6"/>
<line x1="88.08" y1="75.28" x2="88.08" y2="127.01" stroke="#8a8a8a" stroke-width="0.5"/>
<rect x="99" y="110.76" width="4.94" height="9.61" fill="#c8c8c8" opacity="0.9"/>
<circle cx="101.08" cy="86.37" r="2.34" fill="none" stroke="#b0b0b0" stroke-width="0.8"/>
<path d="M43.88,41 L58.72,41 L65.08,62.5 L38.58,62.5 Z" fill="#9a9a96" opacity="0.8" filter="url(#blur1)"/>
<line x1="64.3" y1="40" x2="77.7" y2="61.5" stroke="#8c8c8c" stroke-width="0.9" opacity="0.8"/>
<line x1="65.8" y1="40" x2="79.2" y2="59.5" stroke="#eeeeee" stroke-width="0.8" opacity="0.8"/>
<rect x="25.2" y="61.5" width="53" height="84.7" rx="6" fill="url(#liq)"/>
<rect x="26.2" y="61.5" width="51" height="1.2" fill="#6a6a6a" opacity="0.6"/>
<rect x="36.3" y="21.2" width="30" height="18.3" rx="2.5" fill="#c8d0f4" opacity="0.7" filter="url(#blur1)"/>
<rect x="37.3" y="22.2" width="28" height="16.8" rx="1.8" fill="url(#cap)"/>
<line x1="39.63" y1="23.7" x2="39.63" y2="36.5" stroke="#3347b8" stroke-width="0.5" opacity="0.6"/>
<line x1="41.97" y1="23.7" x2="41.97" y2="36.5" stroke="#3347b8" stroke-width="0.5" opacity="0.6"/>
<line x1="44.3" y1="23.7" x2="44.3" y2="36.5" stroke="#3347b8" stroke-width="0.5" opacity="0.6"/>
<line x1="46.63" y1="23.7" x2="46.63" y2="36.5" stroke="#3347b8" stroke-width="0.5" opacity="0.6"/>
<line x1="48.97" y1="23.7" x2="48.97" y2="36.5" stroke="#3347b8" stroke-width="0.5" opacity="0.6"/>
<line x1="51.3" y1="23.7" x2="51.3" y2="36.5" stroke="#3347b8" stroke-width="0.5" opacity="0.6"/>
<line x1="53.63" y1="23.7" x2="53.63" y2="36.5" stroke="#3347b8" stroke-width="0.5" opacity="0.6"/>
<line x1="55.97" y1="23.7" x2="55.97" y2="36.5" stroke="#3347b8" stroke-width="0.5" opacity="0.6"/>
<line x1="58.3" y1="23.7" x2="58.3" y2="36.5" stroke="#3347b8" stroke-width="0.5" opacity="0.6"/>
<line x1="60.63" y1="23.7" x2="60.63" y2="36.5" stroke="#3347b8" stroke-width="0.5" opacity="0.6"/>
<line x1="62.97" y1="23.7" x2="62.97" y2="36.5" stroke="#3347b8" stroke-width="0.5" opacity="0.6"/>
<rect x="37.3" y="36.8" width="28" height="2.2" fill="#2b3cac" opacity="0.85"/>
<rect x="38.3" y="22.2" width="26" height="1.2" fill="#8a9af0" opacity="0.7"/>
<line x1="38.3" y1="77.8" x2="52.3" y2="77.8" stroke="#c8c8c8" stroke-width="0.7"/>
<line x1="44" y1="86.2" x2="52.3" y2="86.2" stroke="#c8c8c8" stroke-width="0.7"/>
<line x1="38.3" y1="94.6" x2="52.3" y2="94.6" stroke="#c8c8c8" stroke-width="0.7"/>
<line x1="44" y1="103" x2="52.3" y2="103" stroke="#c8c8c8" stroke-width="0.7"/>
<line x1="38.3" y1="111.4" x2="52.3" y2="111.4" stroke="#c8c8c8" stroke-width="0.7"/>
<line x1="44" y1="119.8" x2="52.3" y2="119.8" stroke="#c8c8c8" stroke-width="0.7"/>
<line x1="38.3" y1="128.2" x2="52.3" y2="128.2" stroke="#c8c8c8" stroke-width="0.7"/>
<line x1="52.3" y1="77" x2="52.3" y2="128.5" stroke="#bbb" stroke-width="0.6"/>
<text x="54" y="79.6" font-size="4.6" text-anchor="start" fill="#d5d5d5" >800</text>
<text x="54" y="96.4" font-size="4.6" text-anchor="start" fill="#d5d5d5" >600</text>
<text x="54" y="113.2" font-size="4.6" text-anchor="start" fill="#d5d5d5" >400</text>
<text x="54" y="130" font-size="4.6" text-anchor="start" fill="#d5d5d5" >200</text>
<rect x="67.3" y="115.5" width="10.6" height="10.6" fill="#dadada" stroke="#f4f4f4" stroke-width="0.6"/>
<circle cx="72" cy="86" r="4.4" fill="none" stroke="#d8d8d8" stroke-width="1.3"/>
<path d="M69.5,88.5 L72,83 L74.5,88.5" fill="none" stroke="#d0d0d0" stroke-width="0.9"/>
<text x="67.2" y="110.3" font-size="4.3" text-anchor="start" fill="#d5d5d5" font-weight="bold">1000</text>
<circle cx="47" cy="66" r="0.9" fill="#bbb"/>
</g>
<g clip-path="url(#clipB)">
<rect x="252" y="5" width="166.5" height="155" fill="#c8c8c8"/>
<ellipse cx="400" cy="120" rx="40" ry="60" fill="#cbcbcb" filter="url(#blur8)"/>
<path d="M311.8,50 C330,45 342,40 352,33 L353,91.5 L347.8,125.6 L328,137.4 L311.8,123 Z" fill="#bcbcbc" stroke="#d4d4d4" stroke-width="0.9" filter="url(#blur05)"/>
<ellipse cx="332" cy="121" rx="7" ry="5" fill="#b2b2b2" opacity="0.6" filter="url(#blur1)"/>
<ellipse cx="327" cy="92" rx="10" ry="12" fill="#b6b6b6" opacity="0.4" filter="url(#blur2)"/>
<path d="M252,5 L363,5 C356,15 352,20 347.6,24.7 C342,30 336,34 330,38 C322,43 318,46 312,48.5 C302,52 294,55 285,58 C274,62 262,65 252,68.8 Z" fill="#eaeaea"/>
<path d="M312,5 L352,5 C350,16 344,26 336,33 C330,38 322,43 314,46 C311,40 310,20 312,5 Z" fill="#d8d8d8" filter="url(#blur05)"/>
<path d="M336,12 C334,20 333,26 330,30" fill="none" stroke="#8a8a8a" stroke-width="1.2" filter="url(#blur05)"/>
<path d="M252,75 C262,72 275,68 285,65.3 C295,63 305,61 312,59 C322,55 330,51 338,47 C342,44 345,41 347.6,38.8 C355,32 360,26 365,21 C372,15 380,10 388,5 L393,5 C385,14 375,24 368,29 C360,37 352,45 342,51 C330,57 318,62 300,68 C285,72 268,78 252,83 Z" fill="#d2d2d2" filter="url(#blur1)"/>
<path d="M252,68.8 C262,65 274,62 285,58 C294,55 302,52 312,48.5 C318,46 322,43 330,38 C336,34 342,30 347.6,24.7 C352,20 356,15 363,5 L388,5 C380,10 372,15 365,21 C360,26 355,32 347.6,38.8 C345,41 342,44 338,47 C330,51 322,55 312,59 C305,61 295,63 285,65.3 C275,68 262,72 252,75 Z" fill="#4a4a4a" filter="url(#blur05)"/>
<path d="M252,71.5 C275,65 300,57 320,48 C335,41 350,28 370,5" fill="none" stroke="#2a2a2a" stroke-width="2.2" filter="url(#blur05)"/>
<path d="M252,78 C268,74 285,70 300,66 C320,60 335,52 348,42" fill="none" stroke="#9a9a9a" stroke-width="1" opacity="0.8" filter="url(#blur05)"/>
<path d="M252,68 C268,64 285,58 298,53.5 C318,46 340,32 361,5" fill="none" stroke="#fafafa" stroke-width="1.3" opacity="0.9" filter="url(#blur05)"/>
<rect x="375" y="151.2" width="29.2" height="2.8" fill="#111"/>
<text x="368.9" y="144.4" font-size="11.3" text-anchor="start" fill="#111" stroke="#111" stroke-width="0.18" letter-spacing="0.3">100 nm</text>
</g>
<g clip-path="url(#clipC)">
<rect x="469" y="4.5" width="165.5" height="155.8" fill="#020202"/>
<defs><radialGradient id="spot"><stop offset="0" stop-color="#fff"/><stop offset="0.35" stop-color="#f4f4f4"/>
<stop offset="0.6" stop-color="#777"/><stop offset="1" stop-color="#000" stop-opacity="0"/></radialGradient>
<radialGradient id="glow"><stop offset="0" stop-color="#fff" stop-opacity="1"/><stop offset="0.25" stop-color="#fff" stop-opacity="0.95"/><stop offset="0.5" stop-color="#fff" stop-opacity="0.45"/>
<stop offset="0.75" stop-color="#fff" stop-opacity="0.12"/><stop offset="1" stop-color="#fff" stop-opacity="0"/></radialGradient>
<radialGradient id="halo"><stop offset="0" stop-color="#fff" stop-opacity="0.45"/><stop offset="0.3" stop-color="#fff" stop-opacity="0.2"/><stop offset="0.6" stop-color="#fff" stop-opacity="0.08"/><stop offset="1" stop-color="#fff" stop-opacity="0"/></radialGradient></defs>
<ellipse cx="545" cy="82" rx="55" ry="50" fill="url(#halo)"/>
<ellipse cx="544" cy="77" rx="19" ry="13" fill="url(#glow)" transform="rotate(-20 544 77)"/>
<ellipse cx="541" cy="20" rx="3.5200000000000005" ry="2.5600000000000005" fill="url(#spot)" opacity="0.6" transform="rotate(-4.014175695411026 541 20)"/>
<ellipse cx="571.3" cy="32.7" rx="6.720000000000001" ry="4.4799999999999995" fill="url(#spot)" opacity="1" transform="rotate(30.69673419325629 571.3 32.7)"/>
<ellipse cx="514.5" cy="39.5" rx="6.720000000000001" ry="4.800000000000001" fill="url(#spot)" opacity="1" transform="rotate(-39.12260739335687 514.5 39.5)"/>
<ellipse cx="602.2" cy="44.7" rx="3.2" ry="2.5600000000000005" fill="url(#spot)" opacity="0.6" transform="rotate(60.54722078844786 602.2 44.7)"/>
<ellipse cx="544.8" cy="52.3" rx="6.4" ry="4.16" fill="url(#spot)" opacity="1" transform="rotate(-0.46392329862619874 544.8 52.3)"/>
<ellipse cx="488" cy="59" rx="3.2" ry="2.4000000000000004" fill="url(#spot)" opacity="0.7" transform="rotate(-72.47443162627712 488 59)"/>
<ellipse cx="575.4" cy="64.6" rx="6.4" ry="4.4799999999999995" fill="url(#spot)" opacity="1" transform="rotate(67.80971110387743 575.4 64.6)"/>
<ellipse cx="518.3" cy="71.5" rx="6.4" ry="4.4799999999999995" fill="url(#spot)" opacity="1" transform="rotate(-78.36031128487025 518.3 71.5)"/>
<ellipse cx="605.6" cy="77.3" rx="6.4" ry="4.800000000000001" fill="url(#spot)" opacity="1" transform="rotate(90.28364015575781 605.6 77.3)"/>
<ellipse cx="491.2" cy="91.1" rx="6.4" ry="4.800000000000001" fill="url(#spot)" opacity="1" transform="rotate(255.31411569942597 491.2 91.1)"/>
<ellipse cx="579.2" cy="97.3" rx="6.4" ry="4.4799999999999995" fill="url(#spot)" opacity="1" transform="rotate(120.69198040107256 579.2 97.3)"/>
<ellipse cx="552.3" cy="116.9" rx="6.720000000000001" ry="4.4799999999999995" fill="url(#spot)" opacity="1" transform="rotate(169.63198290687114 552.3 116.9)"/>
<ellipse cx="609" cy="110" rx="3.2" ry="2.4000000000000004" fill="url(#spot)" opacity="0.7" transform="rotate(117.27676338311369 609 110)"/>
<ellipse cx="582.3" cy="129.6" rx="6.720000000000001" ry="4.800000000000001" fill="url(#spot)" opacity="1" transform="rotate(144.65857523729642 582.3 129.6)"/>
<ellipse cx="524.8" cy="135.8" rx="6.720000000000001" ry="4.800000000000001" fill="url(#spot)" opacity="1" transform="rotate(198.95951403934072 524.8 135.8)"/>
<ellipse cx="555.8" cy="148.5" rx="3.2" ry="2.5600000000000005" fill="url(#spot)" opacity="0.6" transform="rotate(171.4104654902094 555.8 148.5)"/>
<g transform="rotate(-20.5 578 77)"><rect x="440" y="66" width="138" height="22" fill="#060606"/></g>
</g>
<defs><linearGradient id="insG" x1="0" y1="0" x2="0" y2="1">
<stop offset="0" stop-color="#b4b4b4"/><stop offset="0.45" stop-color="#b0b0b0"/><stop offset="0.6" stop-color="#a6a6a6"/><stop offset="1" stop-color="#ababab"/></linearGradient>
<linearGradient id="cuvG" x1="0" y1="0" x2="1" y2="0">
<stop offset="0" stop-color="#b8b8b8"/><stop offset="0.5" stop-color="#cfcfcf"/><stop offset="1" stop-color="#b0b0b0"/></linearGradient>
<radialGradient id="redG"><stop offset="0" stop-color="#ff4040"/><stop offset="0.5" stop-color="#ee1010"/><stop offset="1" stop-color="#c00000" stop-opacity="0"/></radialGradient>
</defs>
<rect x="96.5" y="212.8" width="39.2" height="81.4" fill="url(#insG)"/>
<rect x="104.5" y="214" width="23" height="78" fill="url(#cuvG)" opacity="0.6" filter="url(#blur1)"/>
<ellipse cx="116" cy="230.5" rx="8" ry="4.2" fill="#d6d6d6" filter="url(#blur05)"/>
<path d="M107.7,231.5 L124.5,231.5 L124.5,286 Q124.5,288.5 122,288.5 L110,288.5 Q107.7,288.5 107.7,286 Z" fill="#1b1315"/>
<rect x="104.5" y="247.3" width="21.5" height="6" fill="#d8101e" opacity="0.85" filter="url(#blur1)"/>
<rect x="110" y="248.5" width="14" height="3.6" fill="#f02030" filter="url(#blur1)"/>
<rect x="107.7" y="286.5" width="16.8" height="3" fill="#9a9a9a"/>
<rect x="34" y="185" width="167" height="121" fill="none" stroke="#1a1a1a" stroke-width="1.2"/>
<line x1="31" y1="306" x2="34" y2="306" stroke="#1a1a1a" stroke-width="0.9"/>
<text x="29.5" y="308.3" font-size="6.6" text-anchor="end" fill="#333" letter-spacing="0.45" stroke="#333" stroke-width="0.22">0.0</text>
<line x1="32" y1="297.36" x2="34" y2="297.36" stroke="#1a1a1a" stroke-width="0.9"/>
<line x1="31" y1="288.71" x2="34" y2="288.71" stroke="#1a1a1a" stroke-width="0.9"/>
<text x="29.5" y="291.01" font-size="6.6" text-anchor="end" fill="#333" letter-spacing="0.45" stroke="#333" stroke-width="0.22">0.2</text>
<line x1="32" y1="280.07" x2="34" y2="280.07" stroke="#1a1a1a" stroke-width="0.9"/>
<line x1="31" y1="271.43" x2="34" y2="271.43" stroke="#1a1a1a" stroke-width="0.9"/>
<text x="29.5" y="273.73" font-size="6.6" text-anchor="end" fill="#333" letter-spacing="0.45" stroke="#333" stroke-width="0.22">0.4</text>
<line x1="32" y1="262.79" x2="34" y2="262.79" stroke="#1a1a1a" stroke-width="0.9"/>
<line x1="31" y1="254.14" x2="34" y2="254.14" stroke="#1a1a1a" stroke-width="0.9"/>
<text x="29.5" y="256.44" font-size="6.6" text-anchor="end" fill="#333" letter-spacing="0.45" stroke="#333" stroke-width="0.22">0.6</text>
<line x1="32" y1="245.5" x2="34" y2="245.5" stroke="#1a1a1a" stroke-width="0.9"/>
<line x1="31" y1="236.86" x2="34" y2="236.86" stroke="#1a1a1a" stroke-width="0.9"/>
<text x="29.5" y="239.16" font-size="6.6" text-anchor="end" fill="#333" letter-spacing="0.45" stroke="#333" stroke-width="0.22">0.8</text>
<line x1="32" y1="228.21" x2="34" y2="228.21" stroke="#1a1a1a" stroke-width="0.9"/>
<line x1="31" y1="219.57" x2="34" y2="219.57" stroke="#1a1a1a" stroke-width="0.9"/>
<text x="29.5" y="221.87" font-size="6.6" text-anchor="end" fill="#333" letter-spacing="0.45" stroke="#333" stroke-width="0.22">1.0</text>
<line x1="32" y1="210.93" x2="34" y2="210.93" stroke="#1a1a1a" stroke-width="0.9"/>
<line x1="31" y1="202.29" x2="34" y2="202.29" stroke="#1a1a1a" stroke-width="0.9"/>
<text x="29.5" y="204.59" font-size="6.6" text-anchor="end" fill="#333" letter-spacing="0.45" stroke="#333" stroke-width="0.22">1.2</text>
<line x1="32" y1="193.64" x2="34" y2="193.64" stroke="#1a1a1a" stroke-width="0.9"/>
<line x1="31" y1="185" x2="34" y2="185" stroke="#1a1a1a" stroke-width="0.9"/>
<text x="29.5" y="187.3" font-size="6.6" text-anchor="end" fill="#333" letter-spacing="0.45" stroke="#333" stroke-width="0.22">1.4</text>
<line x1="34" y1="306" x2="34" y2="303.5" stroke="#1a1a1a" stroke-width="0.9"/>
<text x="33.5" y="316" font-size="6.6" text-anchor="middle" fill="#333" letter-spacing="0.45" stroke="#333" stroke-width="0.22">0</text>
<line x1="50.7" y1="306" x2="50.7" y2="304.5" stroke="#1a1a1a" stroke-width="0.9"/>
<line x1="67.4" y1="306" x2="67.4" y2="303.5" stroke="#1a1a1a" stroke-width="0.9"/>
<text x="66.9" y="316" font-size="6.6" text-anchor="middle" fill="#333" letter-spacing="0.45" stroke="#333" stroke-width="0.22">20</text>
<line x1="84.1" y1="306" x2="84.1" y2="304.5" stroke="#1a1a1a" stroke-width="0.9"/>
<line x1="100.8" y1="306" x2="100.8" y2="303.5" stroke="#1a1a1a" stroke-width="0.9"/>
<text x="100.3" y="316" font-size="6.6" text-anchor="middle" fill="#333" letter-spacing="0.45" stroke="#333" stroke-width="0.22">40</text>
<line x1="117.5" y1="306" x2="117.5" y2="304.5" stroke="#1a1a1a" stroke-width="0.9"/>
<line x1="134.2" y1="306" x2="134.2" y2="303.5" stroke="#1a1a1a" stroke-width="0.9"/>
<text x="133.7" y="316" font-size="6.6" text-anchor="middle" fill="#333" letter-spacing="0.45" stroke="#333" stroke-width="0.22">60</text>
<line x1="150.9" y1="306" x2="150.9" y2="304.5" stroke="#1a1a1a" stroke-width="0.9"/>
<line x1="167.6" y1="306" x2="167.6" y2="303.5" stroke="#1a1a1a" stroke-width="0.9"/>
<text x="167.1" y="316" font-size="6.6" text-anchor="middle" fill="#333" letter-spacing="0.45" stroke="#333" stroke-width="0.22">80</text>
<line x1="184.3" y1="306" x2="184.3" y2="304.5" stroke="#1a1a1a" stroke-width="0.9"/>
<line x1="201" y1="306" x2="201" y2="303.5" stroke="#1a1a1a" stroke-width="0.9"/>
<text x="200.5" y="316" font-size="6.6" text-anchor="middle" fill="#333" letter-spacing="0.45" stroke="#333" stroke-width="0.22">100</text>
<text x="119.2" y="330.3" font-size="9" text-anchor="middle" fill="#222" stroke="#222" stroke-width="0.18" letter-spacing="0.3">Time (h)</text>
<text transform="translate(10.8,247.5) rotate(-90)" x="0" y="0" font-size="8.6" text-anchor="middle" fill="#222" letter-spacing="0.55" font-weight="normal" stroke="#222" stroke-width="0.2">Absorbance (a.u.)</text>
<polyline points="31.3,202.29 34.81,202.29 35.61,202.29 36.42,202.29 37.22,202.29 38.03,202.29 38.83,202.29 39.64,202.29 40.45,202.29 41.25,202.29 42.06,202.29 42.86,202.29 43.67,202.29 44.47,202.29 45.28,202.29 46.08,202.29 46.89,202.29 47.7,202.29 48.5,202.29 49.31,202.29 50.11,202.29 50.92,202.29 51.72,202.29 52.53,202.29 53.34,202.29 54.14,202.29 54.95,202.29 55.75,204.01 56.56,204.01 57.36,204.01 58.17,204.01 58.97,204.01 59.78,204.01 60.59,204.01 61.39,204.01 62.2,204.01 63,204.01 63.81,204.01 64.61,204.01 65.42,204.01 66.23,204.01 67.03,204.01 67.84,204.01 68.64,204.01 69.45,204.01 70.25,204.01 71.06,204.01 71.86,204.01 72.67,204.01 73.48,204.01 74.28,204.01 75.09,204.01 75.89,204.01 76.7,204.01 77.5,204.01 78.31,204.01 79.12,204.01 79.92,204.01 80.73,204.01 81.53,204.01 82.34,204.01 83.14,204.01 83.95,204.01 84.75,204.01 85.56,204.01 86.37,204.01 87.17,204.01 87.98,204.01 88.78,204.01 89.59,204.01 90.39,204.01 91.2,204.01 92.01,204.01 92.81,204.01 93.62,204.01 94.42,204.01 95.23,204.01 96.03,204.01 96.84,204.01 97.64,204.01 98.45,204.01 99.26,204.01 100.06,204.01 100.87,204.01 101.67,204.01 102.48,204.01 103.28,204.01 104.09,204.01 104.9,204.01 105.7,204.01 106.51,204.01 107.31,204.01 108.12,204.01 108.92,204.01 109.73,204.01 110.53,204.01 111.34,204.01 112.15,204.01 112.95,204.01 113.76,204.01 114.56,204.01 115.37,204.01 116.17,204.01 116.98,204.01 117.79,204.01 118.59,204.01 119.4,204.01 120.2,204.01 121.01,204.01 121.81,204.01 122.62,204.01 123.42,204.01 124.23,204.01 125.04,204.01 125.84,204.01 126.65,204.01 127.45,204.01 128.26,204.01 129.06,204.01 129.87,204.01 130.68,204.01 131.48,204.01 132.29,204.01 133.09,204.01 133.9,204.01 134.7,204.01 135.51,203.91 136.31,204.11 137.12,204.32 137.93,204.17 138.73,204.36 139.54,203.99 140.34,203.55 141.15,204.18 141.95,204.23 142.76,203.84 143.57,203.89 144.37,203.98 145.18,204.34 145.98,204.02 146.79,203.77 147.59,204.48 148.4,204.17 149.2,204.67 150.01,204.46 150.82,204.65 151.62,204.01 152.43,204.01 153.23,204.01 154.04,204.01 154.84,204.01 155.65,204.01 156.46,204.01 157.26,204.01 158.07,204.01 158.87,204.01 159.68,204.01 160.48,204.01 161.29,204.01 162.09,204.01 162.9,204.01 163.71,204.01 164.51,204.01 165.32,204.01 166.12,204.01 166.93,204.01 167.73,204.01 168.54,204.01 169.35,204.01 170.15,204.01 170.96,204.01 171.76,204.01 172.57,204.01 173.37,204.01 174.18,204.01 174.98,204.01 175.79,204.01 176.6,204.01 177.4,204.01 178.21,204.01 179.01,204.01 179.82,204.01 180.62,204.01 181.43,204.01 182.24,204.01 183.04,204.01 183.85,204.01 184.65,204.01 185.46,204.01 186.26,204.01 187.07,204.01 187.87,204.01 188.68,204.01 189.49,204.01 190.29,204.01 191.1,204.01 191.9,204.01 192.71,204.01 193.51,204.01 194.32,204.01" fill="none" stroke="#1c1c78" stroke-width="1.1" stroke-linejoin="round" />
<rect x="251.5" y="185" width="167.5" height="120" fill="none" stroke="#1a1a1a" stroke-width="1.2"/>
<line x1="357.4" y1="185" x2="357.4" y2="305" stroke="#23238a" stroke-width="1.1"/>
<line x1="373.4" y1="185" x2="373.4" y2="305" stroke="#d09040" stroke-width="1.1"/>
<polyline points="251.5,236.18 252.03,235.92 252.55,236.31 253.08,236.28 253.6,236.19 254.13,235.61 254.65,236.1 255.18,236.22 255.7,236.26 256.23,235.85 256.75,236.11 257.28,235.99 257.8,236.03 258.33,236.5 258.85,236.03 259.38,236.22 259.9,236.45 260.43,236.08 260.95,236.2 261.48,236.26 262,236.24 262.53,235.92 263.05,236.24 263.58,236.56 264.1,235.84 264.63,236.44 265.15,236.25 265.68,236.06 266.2,236.72 266.73,236.41 267.25,235.92 267.78,236.24 268.3,236.36 268.83,236.17 269.35,236.39 269.88,236.2 270.4,236.38 270.93,236.57 271.45,236.04 271.98,236.26 272.5,236.1 273.03,236.24 273.55,235.91 274.08,236.06 274.6,236.16 275.13,236.43 275.65,236.49 276.18,235.87 276.7,236 277.23,236.36 277.75,235.7 278.28,236.08 278.8,236.17 279.33,236.51 279.85,236.37 280.38,236.11 280.9,236.1 281.43,236.13 281.95,236.57 282.48,236.08 283,236.11 283.53,236.28 284.05,236.16 284.58,236.14 285.11,235.91 285.63,236.18 286.16,236.07 286.68,236.47 287.21,236.34 287.73,236.17 288.26,236.34 288.78,236.09 289.31,236.44 289.83,236.17 290.36,236.31 290.88,235.84 291.41,236.25 291.93,235.74 292.46,235.65 292.98,236.08 293.51,235.93 294.03,236.2 294.56,236.72 295.08,235.94 295.61,235.99 296.13,236.2 296.66,236.27 297.18,236.1 297.71,236.09 298.23,236.31 298.76,236.27 299.28,235.87 299.81,236.11 300.33,236.14 300.86,235.86 301.38,236.19 301.91,235.9 302.43,236.36 302.96,236.16 303.48,236.13 304.01,235.96 304.53,236.07 305.06,235.6 305.58,235.81 306.11,236.18 306.63,235.55 307.16,236.28 307.68,235.63 308.21,236.25 308.73,235.84 309.26,236.24 309.78,236.07 310.31,235.64 310.83,236.33 311.36,236.37 311.88,235.98 312.41,235.92 312.93,235.93 313.46,235.71 313.98,236.22 314.51,235.79 315.03,235.89 315.56,235.69 316.08,235.71 316.61,235.52 317.13,236.13 317.66,235.76 318.18,236.01 318.71,235.74 319.24,235.53 319.76,235.59 320.29,235.49 320.81,235.59 321.34,235.45 321.86,235.43 322.39,235.11 322.91,235.2 323.44,235.76 323.96,235.12 324.49,234.96 325.01,235.24 325.54,235.44 326.06,234.65 326.59,234.88 327.11,234.69 327.64,234.32 328.16,234.86 328.69,234.57 329.21,234.5 329.74,234.19 330.26,234.38 330.79,234.02 331.31,234 331.84,233.64 332.36,233.49 332.89,234 333.41,233.4 333.94,233.47 334.46,233.24 334.99,233 335.51,232.84 336.04,232.97 336.56,232.59 337.09,232.47 337.61,232.36 338.14,232.49 338.66,232.21 339.19,231.97 339.71,231.58 340.24,231.21 340.76,231.63 341.29,231.48 341.81,231.04 342.34,231.06 342.86,230.96 343.39,230.82 343.91,230.7 344.44,230.21 344.96,230.56 345.49,229.73 346.01,230.12 346.54,229.89 347.06,229.86 347.59,229.99 348.11,229.78 348.64,229.01 349.16,228.76 349.69,229.29 350.21,228.73 350.74,228.89 351.26,229.01 351.79,228.31 352.32,228.11 352.84,228.62 353.37,228.5 353.89,228.35 354.42,228.35 354.94,228.06 355.47,227.82 355.99,228.09 356.52,227.81 357.04,227.57 357.57,228.02 358.09,227.79 358.62,227.81 359.14,227.35 359.67,227.31 360.19,227.09 360.72,226.96 361.24,227.06 361.77,226.62 362.29,226.68 362.82,226.42 363.34,226.56 363.87,225.38 364.39,225.58 364.92,224.93 365.44,224.49 365.97,223.62 366.49,223.31 367.02,222.99 367.54,222.12 368.07,221.45 368.59,220.61 369.12,220.19 369.64,219.12 370.17,217.82 370.69,217.49 371.22,216.54 371.74,215.72 372.27,216.06 372.79,216.36 373.32,216.08 373.84,216.02 374.37,216.52 374.89,217.65 375.42,218.16 375.94,219 376.47,219.91 376.99,220.9 377.52,222.08 378.04,222.98 378.57,223.83 379.09,224.41 379.62,225.63 380.14,226.12 380.67,227.29 381.19,227.38 381.72,228.28 382.24,228.89 382.77,229.08 383.29,230.32 383.82,230.7 384.34,230.62 384.87,231.3 385.39,231.54 385.92,231.1 386.45,232.1 386.97,232.28 387.5,232.56 388.02,232.49 388.55,232.9 389.07,233.11 389.6,233.63 390.12,233.57 390.65,233.64 391.17,234.16 391.7,233.77 392.22,233.93 392.75,233.68 393.27,234.63 393.8,234.58 394.32,234.66 394.85,234.68 395.37,234.62 395.9,234.72 396.42,234.67 396.95,234.75 397.47,234.87 398,235.29 398.52,235.11 399.05,235.01 399.57,234.93 400.1,234.96 400.62,235.56 401.15,235.33 401.67,235.26 402.2,235.19 402.72,235.03 403.25,235.33 403.77,235.59 404.3,235.31 404.82,235.38 405.35,235.4 405.87,235.51 406.4,235.11 406.92,235.48 407.45,235.34 407.97,235.8 408.5,235.41 409.02,235.76 409.55,236.02 410.07,235.58 410.6,235.52 411.12,235.74 411.65,235.71 412.17,235.47 412.7,235.85 413.22,236.25 413.75,235.7 414.27,235.73 414.8,235.53 415.32,235.88 415.85,235.5 416.37,235.55 416.9,236.16 417.42,235.62 417.95,236.13 418.47,236.25 419,235.94" fill="none" stroke="#0a0a0a" stroke-width="1.8" stroke-linejoin="round" />
<polyline points="251.5,293.21 252.03,293.63 252.55,292.98 253.08,292.86 253.6,292.63 254.13,293.05 254.65,293.48 255.18,293.32 255.7,292.75 256.23,292.78 256.75,292.88 257.28,293.12 257.8,292.97 258.33,293.09 258.85,293.11 259.38,292.93 259.9,293.01 260.43,293.08 260.95,292.99 261.48,293.17 262,293.58 262.53,293.19 263.05,293.03 263.58,292.5 264.1,293.12 264.63,292.42 265.15,292.58 265.68,293.26 266.2,293.21 266.73,292.95 267.25,292.48 267.78,292.88 268.3,292.79 268.83,293.18 269.35,293.66 269.88,293.05 270.4,292.75 270.93,292.63 271.45,292.96 271.98,292.92 272.5,292.62 273.03,293 273.55,292.62 274.08,293.29 274.6,293.27 275.13,293.28 275.65,292.81 276.18,293.1 276.7,292.9 277.23,292.82 277.75,292.83 278.28,292.54 278.8,292.49 279.33,293.16 279.85,292.86 280.38,292.97 280.9,293.2 281.43,292.38 281.95,292.66 282.48,292.94 283,293 283.53,292.76 284.05,293.18 284.58,292.92 285.11,292.49 285.63,292.56 286.16,293.08 286.68,292.97 287.21,292.25 287.73,293.21 288.26,292.98 288.78,293.19 289.31,292.66 289.83,292.68 290.36,292.42 290.88,293.5 291.41,292.68 291.93,293.19 292.46,292.51 292.98,292.74 293.51,292.17 294.03,292.54 294.56,292.94 295.08,292.25 295.61,292.93 296.13,292.69 296.66,292.25 297.18,292.39 297.71,292.38 298.23,292.48 298.76,292.31 299.28,292.2 299.81,292.33 300.33,292.09 300.86,291.98 301.38,292.32 301.91,292.57 302.43,291.81 302.96,292.24 303.48,292.01 304.01,291.87 304.53,292.38 305.06,291.93 305.58,292.5 306.11,291.77 306.63,292.07 307.16,291.84 307.68,291.64 308.21,291.99 308.73,291.71 309.26,291.88 309.78,291.63 310.31,291.26 310.83,291.5 311.36,291.48 311.88,291.68 312.41,291.06 312.93,291.25 313.46,290.67 313.98,291.3 314.51,290.71 315.03,290.41 315.56,290.85 316.08,291.11 316.61,290.23 317.13,290.27 317.66,290.28 318.18,290.07 318.71,290.42 319.24,289.96 319.76,289.88 320.29,290.16 320.81,289.65 321.34,289.89 321.86,289.35 322.39,289.16 322.91,288.85 323.44,289.83 323.96,289.04 324.49,289.08 325.01,288.86 325.54,288.77 326.06,288.6 326.59,289.01 327.11,287.98 327.64,287.67 328.16,287.68 328.69,287.42 329.21,287.88 329.74,287.74 330.26,287.04 330.79,286.74 331.31,286.88 331.84,287.23 332.36,285.79 332.89,286.61 333.41,285.95 333.94,286.4 334.46,285.58 334.99,285.63 335.51,285.07 336.04,285.04 336.56,285.55 337.09,285.18 337.61,284.62 338.14,284.28 338.66,283.77 339.19,284.02 339.71,283.93 340.24,283.71 340.76,283.5 341.29,282.99 341.81,283.11 342.34,282.91 342.86,283.11 343.39,283.07 343.91,282.27 344.44,281.88 344.96,281.89 345.49,281.53 346.01,281.29 346.54,281.3 347.06,280.81 347.59,281.11 348.11,280.7 348.64,280.62 349.16,280.31 349.69,279.96 350.21,279.71 350.74,279.75 351.26,279.48 351.79,279.55 352.32,279.31 352.84,278.74 353.37,279.02 353.89,278.44 354.42,278.51 354.94,278.47 355.47,277.79 355.99,278.31 356.52,278.2 357.04,277.99 357.57,277.8 358.09,277.7 358.62,277.42 359.14,277.53 359.67,277.36 360.19,277.47 360.72,277.01 361.24,277.37 361.77,277.28 362.29,277.14 362.82,277 363.34,277.26 363.87,276.56 364.39,277.17 364.92,277.09 365.44,277.09 365.97,277.11 366.49,276.81 367.02,276.96 367.54,277.27 368.07,277.28 368.59,277.29 369.12,276.87 369.64,277.6 370.17,277.93 370.69,278.03 371.22,277.96 371.74,277.6 372.27,278.54 372.79,278.43 373.32,277.93 373.84,279.04 374.37,278.72 374.89,279.04 375.42,279.5 375.94,280.35 376.47,280.14 376.99,280.62 377.52,281.36 378.04,281.62 378.57,281.42 379.09,281.69 379.62,281.7 380.14,282.19 380.67,282.84 381.19,283.15 381.72,283.39 382.24,283.97 382.77,283.76 383.29,284.29 383.82,284.84 384.34,285.11 384.87,285.56 385.39,285.66 385.92,285.74 386.45,286.23 386.97,286.11 387.5,286.19 388.02,287.13 388.55,287.21 389.07,287.57 389.6,287.22 390.12,287.87 390.65,288.03 391.17,288.18 391.7,287.98 392.22,288.77 392.75,289.34 393.27,289.38 393.8,289.28 394.32,289.63 394.85,290.04 395.37,289.15 395.9,290.1 396.42,290.45 396.95,290.63 397.47,291.08 398,291.04 398.52,290.91 399.05,291.02 399.57,291.28 400.1,290.99 400.62,291.24 401.15,291.61 401.67,292.02 402.2,291.46 402.72,291.57 403.25,291.72 403.77,292.13 404.3,291.79 404.82,292.3 405.35,291.62 405.87,291.91 406.4,291.96 406.92,292.3 407.45,292.42 407.97,291.7 408.5,291.92 409.02,292.33 409.55,292.06 410.07,291.84 410.6,292.63 411.12,292.5 411.65,292.52 412.17,292.26 412.7,292.73 413.22,292.37 413.75,292.79 414.27,292.21 414.8,292.25 415.32,292.58 415.85,292.33 416.37,292.75 416.9,292.64 417.42,292.3 417.95,292.61 418.47,292.5 419,292.89" fill="none" stroke="#c8161c" stroke-width="2.0" stroke-linejoin="round" />
<polyline points="251.5,293.21 253.08,292.86 254.65,293.48 256.23,292.78 257.8,292.97 259.38,292.93 260.95,292.99 262.53,293.19 264.1,293.12 265.68,293.26 267.25,292.48 268.83,293.18 270.4,292.75 271.98,292.92 273.55,292.62 275.13,293.28 276.7,292.9 278.28,292.54 279.85,292.86 281.43,292.38 283,293 284.58,292.92 286.16,293.08 287.73,293.21 289.31,292.66 290.88,293.5 292.46,292.51 294.03,292.54 295.61,292.93 297.18,292.39 298.76,292.31 300.33,292.09 301.91,292.57 303.48,292.01 305.06,291.93 306.63,292.07 308.21,291.99 309.78,291.63 311.36,291.48 312.93,291.25 314.51,290.71 316.08,291.11 317.66,290.28 319.24,289.96 320.81,289.65 322.39,289.16 323.96,289.04 325.54,288.77 327.11,287.98 328.69,287.42 330.26,287.04 331.84,287.23 333.41,285.95 334.99,285.63 336.56,285.55 338.14,284.28 339.71,283.93 341.29,282.99 342.86,283.11 344.44,281.88 346.01,281.29 347.59,281.11 349.16,280.31 350.74,279.75 352.32,279.31 353.89,278.44 355.47,277.79 357.04,277.99 358.62,277.42 360.19,277.47 361.77,277.28 363.34,277.26 364.92,277.09 366.49,276.81 368.07,277.28 369.64,277.6 371.22,277.96 372.79,278.43 374.37,278.72 375.94,280.35 377.52,281.36 379.09,281.69 380.67,282.84 382.24,283.97 383.82,284.84 385.39,285.66 386.97,286.11 388.55,287.21 390.12,287.87 391.7,287.98 393.27,289.38 394.85,290.04 396.42,290.45 398,291.04 399.57,291.28 401.15,291.61 402.72,291.57 404.3,291.79 405.87,291.91 407.45,292.42 409.02,292.33 410.6,292.63 412.17,292.26 413.75,292.79 415.32,292.58 416.9,292.64 418.47,292.5" fill="none" stroke="#5a0a0a" stroke-width="0.5" stroke-linejoin="round" stroke-dasharray="0.6 2" opacity="0.5"/>
<text x="265.5" y="229.9" font-size="10.2" text-anchor="start" fill="#1a1a1a" stroke="#1a1a1a" stroke-width="0.18" letter-spacing="-0.17">graphite</text>
<text x="262.8" y="286.4" font-size="10.2" text-anchor="start" fill="#1a1a1a" stroke="#1a1a1a" stroke-width="0.18" letter-spacing="-0.12">graphene</text>
<text x="255.6" y="202.6" font-family="'Liberation Serif', 'Times New Roman', serif" fill="#25257e" font-weight="bold"><tspan font-size="8.6">ω</tspan><tspan font-size="6.1" dy="3.6" letter-spacing="0.05">s, graphite</tspan></text>
<text x="291.6" y="203.2" font-family="'Liberation Serif', 'Times New Roman', serif" font-size="8.6" fill="#3a3a3a">=</text>
<text x="297.2" y="203.2" font-family="'Liberation Serif', 'Times New Roman', serif" fill="#d9963a"><tspan font-size="8.4">ω</tspan><tspan font-size="6.2" dy="3.6" letter-spacing="0.35">p, graphite</tspan></text>
<text x="334.6" y="203.8" font-size="9.3" text-anchor="start" fill="#1a1a1a" stroke="#1a1a1a" stroke-width="0.18" >−30</text>
<text x="378" y="203.2" font-family="'Liberation Serif', 'Times New Roman', serif" fill="#d9963a"><tspan font-size="8.4">ω</tspan><tspan font-size="6.2" dy="3.6" letter-spacing="0.35">p, graphite</tspan></text>
<text transform="translate(239.3,251.4) rotate(-90)" x="0" y="0" font-size="9" text-anchor="middle" fill="#222" letter-spacing="0.75" font-weight="normal" stroke="#222" stroke-width="0.2">Intensity</text>
<line x1="251.5" y1="305" x2="251.5" y2="302.5" stroke="#1a1a1a" stroke-width="0.9"/>
<text x="250.7" y="314.5" font-size="6.4" text-anchor="middle" fill="#333" letter-spacing="0.6" stroke="#333" stroke-width="0.22">2500</text>
<line x1="279.42" y1="305" x2="279.42" y2="303.5" stroke="#1a1a1a" stroke-width="0.9"/>
<line x1="307.33" y1="305" x2="307.33" y2="302.5" stroke="#1a1a1a" stroke-width="0.9"/>
<text x="306.53" y="314.5" font-size="6.4" text-anchor="middle" fill="#333" letter-spacing="0.6" stroke="#333" stroke-width="0.22">2600</text>
<line x1="335.25" y1="305" x2="335.25" y2="303.5" stroke="#1a1a1a" stroke-width="0.9"/>
<line x1="363.17" y1="305" x2="363.17" y2="302.5" stroke="#1a1a1a" stroke-width="0.9"/>
<text x="362.37" y="314.5" font-size="6.4" text-anchor="middle" fill="#333" letter-spacing="0.6" stroke="#333" stroke-width="0.22">2700</text>
<line x1="391.08" y1="305" x2="391.08" y2="303.5" stroke="#1a1a1a" stroke-width="0.9"/>
<line x1="419" y1="305" x2="419" y2="302.5" stroke="#1a1a1a" stroke-width="0.9"/>
<text x="418.2" y="314.5" font-size="6.4" text-anchor="middle" fill="#333" letter-spacing="0.6" stroke="#333" stroke-width="0.22">2800</text>
<text x="334.3" y="329" font-size="8.2" text-anchor="middle" fill="#222" stroke="#222" stroke-width="0.18" letter-spacing="0.62">Raman shift (cm<tspan font-size="5.5" dy="-3.5">-1</tspan><tspan dy="3.5">)</tspan></text>
<defs><pattern id="hatch" width="2.4" height="2.4" patternUnits="userSpaceOnUse">
<rect width="2.4" height="2.4" fill="#fbe6e6"/><path d="M0,0 L2.4,2.4 M-1.2,1.2 L1.2,3.6 M1.2,-1.2 L3.6,1.2" stroke="#dc2828" stroke-width="0.85"/><path d="M0,2.4 L2.4,0" stroke="#e04a4a" stroke-width="0.5"/></pattern></defs>
<rect x="473.62" y="253.03" width="4.12" height="53.27" fill="url(#hatch)" stroke="#8c1818" stroke-width="0.75"/>
<rect x="477.74" y="185.7" width="4.12" height="120.6" fill="url(#hatch)" stroke="#8c1818" stroke-width="0.75"/>
<rect x="481.85" y="200.77" width="4.12" height="105.53" fill="url(#hatch)" stroke="#8c1818" stroke-width="0.75"/>
<rect x="485.97" y="213.84" width="4.12" height="92.46" fill="url(#hatch)" stroke="#8c1818" stroke-width="0.75"/>
<rect x="490.09" y="229.92" width="4.12" height="76.38" fill="url(#hatch)" stroke="#8c1818" stroke-width="0.75"/>
<rect x="494.2" y="245" width="4.12" height="61.31" fill="url(#hatch)" stroke="#8c1818" stroke-width="0.75"/>
<rect x="498.32" y="263.59" width="4.12" height="42.71" fill="url(#hatch)" stroke="#8c1818" stroke-width="0.75"/>
<rect x="502.44" y="270.62" width="4.12" height="35.68" fill="url(#hatch)" stroke="#8c1818" stroke-width="0.75"/>
<rect x="506.56" y="278.56" width="4.12" height="27.74" fill="url(#hatch)" stroke="#8c1818" stroke-width="0.75"/>
<rect x="510.68" y="284.89" width="4.12" height="21.41" fill="url(#hatch)" stroke="#8c1818" stroke-width="0.75"/>
<rect x="514.79" y="292.33" width="4.12" height="13.97" fill="url(#hatch)" stroke="#8c1818" stroke-width="0.75"/>
<rect x="518.91" y="299.77" width="4.12" height="6.53" fill="url(#hatch)" stroke="#8c1818" stroke-width="0.75"/>
<rect x="523.03" y="288.51" width="4.12" height="17.79" fill="url(#hatch)" stroke="#8c1818" stroke-width="0.75"/>
<rect x="527.14" y="296.45" width="4.12" height="9.85" fill="url(#hatch)" stroke="#8c1818" stroke-width="0.75"/>
<rect x="531.26" y="293.54" width="4.12" height="12.76" fill="url(#hatch)" stroke="#8c1818" stroke-width="0.75"/>
<rect x="535.38" y="297.15" width="4.12" height="9.15" fill="url(#hatch)" stroke="#8c1818" stroke-width="0.75"/>
<rect x="539.5" y="302.08" width="4.12" height="4.22" fill="url(#hatch)" stroke="#8c1818" stroke-width="0.75"/>
<rect x="543.62" y="298.96" width="4.12" height="7.34" fill="url(#hatch)" stroke="#8c1818" stroke-width="0.75"/>
<rect x="547.73" y="304.29" width="4.12" height="2.01" fill="url(#hatch)" stroke="#8c1818" stroke-width="0.75"/>
<rect x="551.85" y="301.78" width="4.12" height="4.52" fill="url(#hatch)" stroke="#8c1818" stroke-width="0.75"/>
<rect x="555.97" y="304.79" width="4.12" height="1.51" fill="url(#hatch)" stroke="#8c1818" stroke-width="0.75"/>
<rect x="560.09" y="303.29" width="4.12" height="3.01" fill="url(#hatch)" stroke="#8c1818" stroke-width="0.75"/>
<rect x="564.2" y="305.3" width="4.12" height="1" fill="url(#hatch)" stroke="#8c1818" stroke-width="0.75"/>
<rect x="568.32" y="303.29" width="4.12" height="3.01" fill="url(#hatch)" stroke="#8c1818" stroke-width="0.75"/>
<rect x="572.44" y="301.78" width="4.12" height="4.52" fill="url(#hatch)" stroke="#8c1818" stroke-width="0.75"/>
<rect x="588.91" y="305.3" width="4.12" height="1" fill="url(#hatch)" stroke="#8c1818" stroke-width="0.75"/>
<rect x="601.26" y="304.29" width="4.12" height="2.01" fill="url(#hatch)" stroke="#8c1818" stroke-width="0.75"/>
<rect x="630.08" y="305.3" width="4.12" height="1" fill="url(#hatch)" stroke="#8c1818" stroke-width="0.75"/>
<rect x="469.5" y="185.7" width="164.7" height="120.6" fill="none" stroke="#1a1a1a" stroke-width="1.2"/>
<line x1="466.5" y1="306.3" x2="469.5" y2="306.3" stroke="#1a1a1a" stroke-width="0.9"/>
<text x="465" y="308.6" font-size="6.6" text-anchor="end" fill="#333" letter-spacing="0.45" stroke="#333" stroke-width="0.22">0</text>
<line x1="467.5" y1="291.23" x2="469.5" y2="291.23" stroke="#1a1a1a" stroke-width="0.9"/>
<line x1="466.5" y1="276.15" x2="469.5" y2="276.15" stroke="#1a1a1a" stroke-width="0.9"/>
<text x="465" y="278.45" font-size="6.6" text-anchor="end" fill="#333" letter-spacing="0.45" stroke="#333" stroke-width="0.22">30</text>
<line x1="467.5" y1="261.07" x2="469.5" y2="261.07" stroke="#1a1a1a" stroke-width="0.9"/>
<line x1="466.5" y1="246" x2="469.5" y2="246" stroke="#1a1a1a" stroke-width="0.9"/>
<text x="465" y="248.3" font-size="6.6" text-anchor="end" fill="#333" letter-spacing="0.45" stroke="#333" stroke-width="0.22">60</text>
<line x1="467.5" y1="230.93" x2="469.5" y2="230.93" stroke="#1a1a1a" stroke-width="0.9"/>
<line x1="466.5" y1="215.85" x2="469.5" y2="215.85" stroke="#1a1a1a" stroke-width="0.9"/>
<text x="465" y="218.15" font-size="6.6" text-anchor="end" fill="#333" letter-spacing="0.45" stroke="#333" stroke-width="0.22">90</text>
<line x1="467.5" y1="200.77" x2="469.5" y2="200.77" stroke="#1a1a1a" stroke-width="0.9"/>
<line x1="466.5" y1="185.7" x2="469.5" y2="185.7" stroke="#1a1a1a" stroke-width="0.9"/>
<text x="465" y="188" font-size="6.6" text-anchor="end" fill="#333" letter-spacing="0.45" stroke="#333" stroke-width="0.22">120</text>
<line x1="469.5" y1="306.3" x2="469.5" y2="308.8" stroke="#1a1a1a" stroke-width="0.9"/>
<text x="468.3" y="316" font-size="6.6" text-anchor="middle" fill="#333" letter-spacing="0.45" stroke="#333" stroke-width="0.22">0.0</text>
<line x1="490.09" y1="306.3" x2="490.09" y2="308.8" stroke="#1a1a1a" stroke-width="0.9"/>
<text x="490.39" y="316" font-size="6.6" text-anchor="middle" fill="#333" letter-spacing="0.45" stroke="#333" stroke-width="0.22">0.5</text>
<line x1="510.68" y1="306.3" x2="510.68" y2="308.8" stroke="#1a1a1a" stroke-width="0.9"/>
<text x="510.98" y="316" font-size="6.6" text-anchor="middle" fill="#333" letter-spacing="0.45" stroke="#333" stroke-width="0.22">1.0</text>
<line x1="531.26" y1="306.3" x2="531.26" y2="308.8" stroke="#1a1a1a" stroke-width="0.9"/>
<text x="531.56" y="316" font-size="6.6" text-anchor="middle" fill="#333" letter-spacing="0.45" stroke="#333" stroke-width="0.22">1.5</text>
<line x1="551.85" y1="306.3" x2="551.85" y2="308.8" stroke="#1a1a1a" stroke-width="0.9"/>
<text x="552.15" y="316" font-size="6.6" text-anchor="middle" fill="#333" letter-spacing="0.45" stroke="#333" stroke-width="0.22">2.0</text>
<line x1="572.44" y1="306.3" x2="572.44" y2="308.8" stroke="#1a1a1a" stroke-width="0.9"/>
<text x="572.74" y="316" font-size="6.6" text-anchor="middle" fill="#333" letter-spacing="0.45" stroke="#333" stroke-width="0.22">2.5</text>
<line x1="593.03" y1="306.3" x2="593.03" y2="308.8" stroke="#1a1a1a" stroke-width="0.9"/>
<text x="593.33" y="316" font-size="6.6" text-anchor="middle" fill="#333" letter-spacing="0.45" stroke="#333" stroke-width="0.22">3.0</text>
<line x1="613.61" y1="306.3" x2="613.61" y2="308.8" stroke="#1a1a1a" stroke-width="0.9"/>
<text x="613.91" y="316" font-size="6.6" text-anchor="middle" fill="#333" letter-spacing="0.45" stroke="#333" stroke-width="0.22">3.5</text>
<line x1="634.2" y1="306.3" x2="634.2" y2="308.8" stroke="#1a1a1a" stroke-width="0.9"/>
<text x="634.5" y="316" font-size="6.6" text-anchor="middle" fill="#333" letter-spacing="0.45" stroke="#333" stroke-width="0.22">4.0</text>
<text x="551.2" y="328.1" font-size="8.8" text-anchor="middle" fill="#222" stroke="#222" stroke-width="0.18" letter-spacing="0.3">L (µm)</text>
<text transform="translate(447.8,243.8) rotate(-90)" x="0" y="0" font-size="9.6" text-anchor="middle" fill="#222" letter-spacing="0.9" font-weight="normal" stroke="#222" stroke-width="0.2">Count</text>
<rect x="34.4" y="354.3" width="166.4" height="125.9" fill="none" stroke="#1a1a1a" stroke-width="1.2"/>
<polyline points="34.4,407.73 34.64,407.78 34.87,408.19 35.11,408.44 35.34,408.38 35.58,407.9 35.81,407.94 36.05,408.27 36.29,407.85 36.52,407.64 36.76,407.91 36.99,408 37.23,407.68 37.46,407.47 37.7,407.52 37.94,408.05 38.17,407.69 38.41,407.85 38.64,407.94 38.88,408.04 39.11,407.8 39.35,408.01 39.58,407.66 39.82,407.79 40.06,407.63 40.29,408.16 40.53,407.87 40.76,407.7 41,407.79 41.23,407.82 41.47,408.05 41.71,407.48 41.94,407.62 42.18,407.78 42.41,408.51 42.65,408.12 42.88,407.85 43.12,408.06 43.36,408.39 43.59,407.82 43.83,407.79 44.06,408.18 44.3,408 44.53,408.04 44.77,407.75 45.01,408.36 45.24,408.3 45.48,408.02 45.71,408.05 45.95,407.37 46.18,408.03 46.42,407.82 46.66,407.98 46.89,408.04 47.13,407.79 47.36,407.45 47.6,407.96 47.83,407.68 48.07,407.79 48.3,407.72 48.54,407.78 48.78,407.29 49.01,408.17 49.25,407.93 49.48,408.14 49.72,408.36 49.95,407.87 50.19,407.41 50.43,407.64 50.66,407.56 50.9,407.74 51.13,407.88 51.37,407.36 51.6,407.95 51.84,407.48 52.08,407.93 52.31,407.83 52.55,407.78 52.78,407.84 53.02,407.72 53.25,407.7 53.49,407.43 53.73,407.84 53.96,408.31 54.2,408.34 54.43,408.18 54.67,408.02 54.9,407.67 55.14,408.2 55.37,407.83 55.61,407.82 55.85,407.76 56.08,407.86 56.32,407.72 56.55,407.81 56.79,407.55 57.02,407.73 57.26,408.39 57.5,407.8 57.73,407.75 57.97,407.94 58.2,407.98 58.44,407.52 58.67,407.74 58.91,408.01 59.15,407.84 59.38,407.8 59.62,408.14 59.85,407.57 60.09,407.75 60.32,407.58 60.56,408.06 60.8,407.18 61.03,407.47 61.27,407.47 61.5,407.73 61.74,407.66 61.97,407.79 62.21,406.96 62.45,407.45 62.68,407.07 62.92,406.85 63.15,407.04 63.39,406.61 63.62,406.31 63.86,406.8 64.09,406.62 64.33,406.95 64.57,407.32 64.8,407.41 65.04,407.8 65.27,407.42 65.51,407.14 65.74,407.38 65.98,407.37 66.22,407.32 66.45,407.75 66.69,407.5 66.92,407.18 67.16,407.86 67.39,407.66 67.63,407.78 67.87,407.73 68.1,407.86 68.34,407.71 68.57,408.01 68.81,407.81 69.04,407.8 69.28,407.81 69.52,407.34 69.75,407.66 69.99,407.63 70.22,407.74 70.46,407.35 70.69,408.09 70.93,407.7 71.17,407.37 71.4,407.24 71.64,407.58 71.87,407.62 72.11,407.46 72.34,407.65 72.58,407.46 72.81,407.74 73.05,407.41 73.29,407.57 73.52,407.81 73.76,408.19 73.99,407.28 74.23,407.4 74.46,407.28 74.7,407.66 74.94,407.16 75.17,407.29 75.41,407.38 75.64,407.11 75.88,407.08 76.11,407.16 76.35,406.71 76.59,406.82 76.82,407.02 77.06,407.1 77.29,406.94 77.53,406.46 77.76,406.7 78,406.91 78.24,406.72 78.47,406.42 78.71,406.05 78.94,406.23 79.18,405.69 79.41,405.25 79.65,405 79.89,405.12 80.12,404.27 80.36,403.81 80.59,402.5 80.83,401.66 81.06,399.65 81.3,397.51 81.53,394.97 81.77,389.91 82.01,382.95 82.24,374.15 82.48,364.67 82.71,359.66 82.95,362.7 83.18,371.55 83.42,381.22 83.66,388.45 83.89,393.49 84.13,397.27 84.36,399.45 84.6,401.32 84.83,402.11 85.07,403.56 85.31,404.61 85.54,404.85 85.78,405.17 86.01,405.52 86.25,406.22 86.48,405.79 86.72,406.21 86.96,406.52 87.19,406.74 87.43,406.58 87.66,406.87 87.9,406.82 88.13,407.01 88.37,407.02 88.6,406.83 88.84,407.17 89.08,407.45 89.31,407.03 89.55,407.25 89.78,407.52 90.02,407.12 90.25,407.46 90.49,407.18 90.73,407.76 90.96,408.07 91.2,408.02 91.43,407.48 91.67,407.74 91.9,407.6 92.14,407.61 92.38,407.99 92.61,407.29 92.85,407.89 93.08,407.63 93.32,408.01 93.55,407.71 93.79,407.51 94.03,407.75 94.26,407.88 94.5,407.71 94.73,407.83 94.97,407.58 95.2,407.19 95.44,407.95 95.68,407.91 95.91,407.78 96.15,407.76 96.38,408.01 96.62,407.64 96.85,407.58 97.09,407.72 97.32,408.07 97.56,407.43 97.8,408.07 98.03,407.62 98.27,407.51 98.5,408.1 98.74,407.77 98.97,407.47 99.21,407.71 99.45,408.03 99.68,408.1 99.92,407.7 100.15,407.91 100.39,407.99 100.62,407.65 100.86,407.9 101.1,407.81 101.33,407.68 101.57,407.7 101.8,407.84 102.04,407.83 102.27,407.68 102.51,407.72 102.75,408.11 102.98,407.88 103.22,408.05 103.45,408.13 103.69,407.98 103.92,408.4 104.16,407.63 104.4,408.04 104.63,407.76 104.87,408.3 105.1,408.27 105.34,407.35 105.57,407.6 105.81,408.01 106.04,408.04 106.28,408.03 106.52,407.83 106.75,407.96 106.99,408.01 107.22,407.83 107.46,408.11 107.69,407.29 107.93,408.01 108.17,407.59 108.4,408.09 108.64,407.8 108.87,407.63 109.11,407.95 109.34,407.63 109.58,407.63 109.82,407.47 110.05,407.85 110.29,407.98 110.52,408.12 110.76,407.82 110.99,408.12 111.23,407.87 111.47,407.84 111.7,408.01 111.94,408.13 112.17,407.78 112.41,407.8 112.64,407.82 112.88,407.89 113.12,407.64 113.35,408.12 113.59,407.77 113.82,407.98 114.06,407.66 114.29,407.96 114.53,407.97 114.76,407.76 115,408.37 115.24,407.96 115.47,408.31 115.71,408.11 115.94,407.7 116.18,407.77 116.41,407.98 116.65,407.89 116.89,407.88 117.12,407.8 117.36,407.42 117.59,407.82 117.83,407.32 118.06,407.97 118.3,407.69 118.54,407.69 118.77,407.82 119.01,407.94 119.24,407.52 119.48,407.44 119.71,407.61 119.95,407.36 120.19,407.63 120.42,408.27 120.66,407.61 120.89,408.04 121.13,407.53 121.36,407.95 121.6,407.8 121.83,407.86 122.07,408.02 122.31,408.32 122.54,407.92 122.78,407.91 123.01,407.63 123.25,408.02 123.48,407.82 123.72,408.08 123.96,407.87 124.19,408.31 124.43,407.38 124.66,407.8 124.9,408.1 125.13,407.79 125.37,407.68 125.61,407.81 125.84,407.53 126.08,407.91 126.31,408.49 126.55,408.16 126.78,407.6 127.02,407.66 127.26,407.78 127.49,408.13 127.73,407.67 127.96,407.71 128.2,408.1 128.43,408.09 128.67,407.79 128.91,407.6 129.14,407.49 129.38,407.7 129.61,407.32 129.85,408.07 130.08,407.72 130.32,408 130.55,408.35 130.79,408.17 131.03,407.59 131.26,408.1 131.5,408.17 131.73,407.69 131.97,407.64 132.2,407.85 132.44,407.48 132.68,408.25 132.91,407.28 133.15,407.6 133.38,407.81 133.62,407.82 133.85,407.92 134.09,407.95 134.33,407.83 134.56,408.16 134.8,407.34 135.03,407.88 135.27,407.7 135.5,407.91 135.74,407.93 135.98,407.65 136.21,407.72 136.45,408.08 136.68,407.97 136.92,407.71 137.15,408.39 137.39,408.46 137.63,407.51 137.86,407.95 138.1,408.51 138.33,408.07 138.57,407.93 138.8,407.83 139.04,407.74 139.27,407.83 139.51,407.74 139.75,408.06 139.98,407.78 140.22,407.77 140.45,407.58 140.69,407.87 140.92,407.65 141.16,407.83 141.4,408.14 141.63,407.97 141.87,408 142.1,407.97 142.34,407.89 142.57,407.85 142.81,407.8 143.05,408.07 143.28,407.61 143.52,408.21 143.75,407.88 143.99,407.69 144.22,407.75 144.46,407.71 144.7,407.92 144.93,407.7 145.17,408.16 145.4,407.68 145.64,407.31 145.87,407.69 146.11,407.37 146.35,407.86 146.58,408.14 146.82,408.04 147.05,407.54 147.29,407.68 147.52,408.32 147.76,407.95 147.99,407.87 148.23,408.14 148.47,408.48 148.7,408.19 148.94,407.9 149.17,407.96 149.41,408.02 149.64,407.71 149.88,407.6 150.12,407.87 150.35,407.61 150.59,407.83 150.82,407.85 151.06,408.4 151.29,407.57 151.53,407.73 151.77,407.68 152,407.79 152.24,407.88 152.47,407.44 152.71,407.28 152.94,407 153.18,407.1 153.42,407.38 153.65,407.17 153.89,406.82 154.12,406.91 154.36,406.95 154.59,407.02 154.83,406.72 155.06,406.8 155.3,406.41 155.54,406.61 155.77,407.35 156.01,406.46 156.24,407 156.48,407.22 156.71,407.16 156.95,407.13 157.19,407.4 157.42,407.49 157.66,407.54 157.89,407.15 158.13,407.63 158.36,407.5 158.6,407.61 158.84,407.83 159.07,407.95 159.31,408.03 159.54,407.69 159.78,408.05 160.01,408.12 160.25,408.11 160.49,408.18 160.72,407.79 160.96,407.78 161.19,408.03 161.43,407.48 161.66,407.88 161.9,407.69 162.14,407.73 162.37,407.38 162.61,407.59 162.84,407.81 163.08,408.03 163.31,408.05 163.55,407.78 163.78,407.75 164.02,407.59 164.26,407.89 164.49,407.73 164.73,407.94 164.96,408.22 165.2,407.77 165.43,407.4 165.67,407.55 165.91,407.4 166.14,407.46 166.38,408.08 166.61,407.8 166.85,407.36 167.08,407.9 167.32,408.04 167.56,407.63 167.79,407.54 168.03,407.61 168.26,407.75 168.5,407.83 168.73,407.95 168.97,407.93 169.21,407.89 169.44,407.9 169.68,407.67 169.91,407.06 170.15,407.33 170.38,407.33 170.62,407.02 170.86,407.17 171.09,406.64 171.33,406.24 171.56,406.52 171.8,405.95 172.03,405.41 172.27,405.09 172.5,404.58 172.74,403.8 172.98,402.47 173.21,402.26 173.45,401.65 173.68,400.86 173.92,400.53 174.15,400.19 174.39,399.26 174.63,398.65 174.86,399.07 175.1,398.15 175.33,397.71 175.57,397.88 175.8,397.72 176.04,397.18 176.28,397.19 176.51,396.32 176.75,395.42 176.98,394.65 177.22,393.55 177.45,392.03 177.69,391.64 177.93,391.85 178.16,393.91 178.4,395 178.63,397.64 178.87,399.22 179.1,400.84 179.34,402.37 179.58,403.45 179.81,404.36 180.05,404.77 180.28,405.04 180.52,405.46 180.75,406.04 180.99,406.32 181.22,406.74 181.46,406.68 181.7,406.98 181.93,407.22 182.17,406.99 182.4,406.67 182.64,406.82 182.87,406.83 183.11,407.64 183.35,407.09 183.58,407.65 183.82,407.53 184.05,407.85 184.29,407.71 184.52,407.46 184.76,407.46 185,407.56 185.23,407.6 185.47,407.45 185.7,407.59 185.94,408.02 186.17,407.2 186.41,407.71 186.65,407.43 186.88,407.72 187.12,407.89 187.35,407.68 187.59,407.89 187.82,407.31 188.06,407.99 188.3,407.58 188.53,407.89 188.77,407.79 189,407.1 189.24,407.56 189.47,407.81 189.71,408.15 189.94,407.84 190.18,407.84 190.42,407.43 190.65,408.14 190.89,408.24 191.12,407.8 191.36,407.74 191.59,407.39 191.83,408.02 192.07,408.48 192.3,407.99 192.54,408.13 192.77,407.95 193.01,407.57 193.24,408.15 193.48,407.51 193.72,407.77 193.95,407.89 194.19,408.05 194.42,407.93 194.66,407.93 194.89,407.64 195.13,407.51 195.37,407.85 195.6,407.66 195.84,407.51 196.07,407.52 196.31,407.72 196.54,407.38 196.78,407.51 197.01,407.44 197.25,407.89 197.49,407.95 197.72,408.35 197.96,407.48 198.19,407.68 198.43,408.08 198.66,407.8 198.9,407.77 199.14,408.28" fill="none" stroke="#0a0a0a" stroke-width="1.1" stroke-linejoin="round" />
<polyline points="34.4,467.15 34.64,466.9 34.87,466.85 35.11,467.35 35.34,467.34 35.58,466.84 35.81,466.95 36.05,467.41 36.29,467.42 36.52,467.05 36.76,467.43 36.99,467.41 37.23,466.71 37.46,467.15 37.7,467.36 37.94,467.07 38.17,466.6 38.41,467.15 38.64,467.46 38.88,467.71 39.11,466.58 39.35,468.02 39.58,466.89 39.82,467.52 40.06,467.6 40.29,467.52 40.53,467.27 40.76,466.88 41,467.41 41.23,467.01 41.47,466.46 41.71,468.07 41.94,467.43 42.18,467.76 42.41,466.94 42.65,467.65 42.88,467.69 43.12,467.67 43.36,467.2 43.59,466.84 43.83,467.15 44.06,466.54 44.3,466.69 44.53,467.22 44.77,466.9 45.01,467.14 45.24,467.16 45.48,467.76 45.71,467.57 45.95,467.17 46.18,467.54 46.42,466.94 46.66,467.07 46.89,467.44 47.13,466.79 47.36,467.08 47.6,466.76 47.83,467.19 48.07,467.64 48.3,466.92 48.54,467.21 48.78,466.87 49.01,466.79 49.25,466.76 49.48,467.56 49.72,467.82 49.95,467.25 50.19,466.89 50.43,467.31 50.66,466.99 50.9,467.32 51.13,467.16 51.37,467.15 51.6,467.24 51.84,466.88 52.08,466.92 52.31,466.51 52.55,466.89 52.78,466.58 53.02,466.95 53.25,466.7 53.49,467 53.73,467.09 53.96,466.52 54.2,466.68 54.43,466.62 54.67,467.11 54.9,467.38 55.14,467.1 55.37,466.72 55.61,467.23 55.85,466.31 56.08,467.19 56.32,466.51 56.55,465.83 56.79,467.42 57.02,467.05 57.26,466.22 57.5,466.53 57.73,466.35 57.97,466.38 58.2,465.83 58.44,465.98 58.67,466.23 58.91,466.04 59.15,466.21 59.38,465.73 59.62,466.25 59.85,465.14 60.09,465.21 60.32,464.3 60.56,464.2 60.8,464.62 61.03,463.51 61.27,463.46 61.5,462.7 61.74,461.72 61.97,461.14 62.21,460.2 62.45,459.25 62.68,458.65 62.92,457.75 63.15,456.74 63.39,456.35 63.62,456.82 63.86,457.22 64.09,458.34 64.33,459.77 64.57,460.19 64.8,460.85 65.04,461.63 65.27,462.15 65.51,462.76 65.74,463.26 65.98,463.88 66.22,464.25 66.45,464.92 66.69,464.85 66.92,465.14 67.16,465.03 67.39,466.06 67.63,465.86 67.87,466.37 68.1,466.18 68.34,466.49 68.57,466.05 68.81,466.41 69.04,467.07 69.28,465.95 69.52,466.72 69.75,466.92 69.99,466.57 70.22,466.71 70.46,466.89 70.69,466.33 70.93,466.68 71.17,466.31 71.4,466.38 71.64,466.41 71.87,466.57 72.11,466.67 72.34,466.77 72.58,466.19 72.81,467.24 73.05,466.98 73.29,466.85 73.52,466.51 73.76,466.58 73.99,466.77 74.23,466.71 74.46,466.05 74.7,466.77 74.94,467.42 75.17,465.93 75.41,466.77 75.64,466.54 75.88,466.36 76.11,466.77 76.35,465.93 76.59,466.29 76.82,466.62 77.06,466.03 77.29,465.88 77.53,465.94 77.76,465.66 78,466.14 78.24,465.23 78.47,465.59 78.71,464.73 78.94,465.07 79.18,464.52 79.41,463.39 79.65,463.74 79.89,462.85 80.12,462.35 80.36,462.06 80.59,460.09 80.83,458.57 81.06,457.27 81.3,454.02 81.53,450.51 81.77,444.64 82.01,436.91 82.24,428.45 82.48,421.38 82.71,419.39 82.95,424.19 83.18,432.76 83.42,440.91 83.66,447.2 83.89,452.65 84.13,455.4 84.36,457.45 84.6,459.4 84.83,461.05 85.07,461.98 85.31,462.45 85.54,462.82 85.78,463.47 86.01,463.33 86.25,463.82 86.48,464.83 86.72,464.77 86.96,465.31 87.19,465.81 87.43,465.83 87.66,465.8 87.9,466.59 88.13,466.26 88.37,466.05 88.6,466.48 88.84,466.46 89.08,466.14 89.31,466.49 89.55,466.47 89.78,465.96 90.02,466.56 90.25,466.57 90.49,466.56 90.73,466.22 90.96,466.65 91.2,466.77 91.43,466.84 91.67,466.49 91.9,467.05 92.14,466.51 92.38,466.83 92.61,467.32 92.85,466.72 93.08,466.79 93.32,467.3 93.55,466.86 93.79,466.9 94.03,467.07 94.26,467.34 94.5,466.34 94.73,466.78 94.97,466.73 95.2,466.72 95.44,466.8 95.68,466.81 95.91,467.17 96.15,466.81 96.38,467.13 96.62,467.22 96.85,466.88 97.09,467.15 97.32,467.62 97.56,467.22 97.8,466.93 98.03,467.11 98.27,466.85 98.5,467.22 98.74,467.41 98.97,466.9 99.21,467.09 99.45,467.5 99.68,467.01 99.92,467.22 100.15,466.85 100.39,466.92 100.62,467.02 100.86,467.83 101.1,467.06 101.33,467.02 101.57,467.02 101.8,467.14 102.04,467.39 102.27,467.25 102.51,467.81 102.75,467.26 102.98,467.63 103.22,467.28 103.45,467.38 103.69,466.77 103.92,467.17 104.16,467.19 104.4,467.14 104.63,466.57 104.87,467.48 105.1,467.1 105.34,467.09 105.57,467.14 105.81,467.15 106.04,467.34 106.28,466.84 106.52,466.94 106.75,467.31 106.99,467.27 107.22,467.12 107.46,467.06 107.69,466.98 107.93,467.21 108.17,467.59 108.4,466.92 108.64,467.69 108.87,467.49 109.11,467.1 109.34,467.47 109.58,466.8 109.82,466.72 110.05,466.85 110.29,467.12 110.52,467.15 110.76,467.09 110.99,467.27 111.23,466.6 111.47,467.39 111.7,466.82 111.94,467.05 112.17,467.12 112.41,466.9 112.64,466.84 112.88,466.95 113.12,467.25 113.35,467.43 113.59,467.42 113.82,466.95 114.06,467.02 114.29,466.98 114.53,467.39 114.76,466.64 115,467.63 115.24,467.11 115.47,467.02 115.71,467.36 115.94,467.57 116.18,467.36 116.41,467.58 116.65,467.3 116.89,467.63 117.12,467.63 117.36,467.23 117.59,467.69 117.83,467.31 118.06,467.29 118.3,466.99 118.54,467.18 118.77,467.5 119.01,466.87 119.24,467.46 119.48,467.37 119.71,467.35 119.95,466.6 120.19,467.24 120.42,467.46 120.66,467.04 120.89,467.29 121.13,466.55 121.36,467.47 121.6,467.07 121.83,467.53 122.07,466.72 122.31,467.48 122.54,467.2 122.78,467.51 123.01,466.99 123.25,467.09 123.48,467.94 123.72,467.02 123.96,467.06 124.19,467.19 124.43,466.97 124.66,467.63 124.9,467.79 125.13,467.06 125.37,466.76 125.61,467.63 125.84,467.61 126.08,467.52 126.31,467.62 126.55,467.01 126.78,467.22 127.02,466.86 127.26,466.85 127.49,467.57 127.73,467.07 127.96,467.96 128.2,467.3 128.43,467.08 128.67,467.52 128.91,467.82 129.14,467.42 129.38,466.91 129.61,467.39 129.85,467.69 130.08,467.13 130.32,467.05 130.55,467.58 130.79,467.32 131.03,466.95 131.26,467.17 131.5,467.05 131.73,467.37 131.97,467.31 132.2,467.63 132.44,467.49 132.68,466.81 132.91,467.4 133.15,467.55 133.38,467.42 133.62,467.59 133.85,467.12 134.09,467 134.33,467.56 134.56,466.96 134.8,466.63 135.03,467.59 135.27,467.06 135.5,467.19 135.74,466.86 135.98,466.88 136.21,466.94 136.45,467.17 136.68,467.39 136.92,466.59 137.15,467.51 137.39,466.93 137.63,466.96 137.86,467.49 138.1,467.26 138.33,466.82 138.57,467.84 138.8,467.03 139.04,467.36 139.27,467.34 139.51,467.71 139.75,467.15 139.98,467.59 140.22,467.06 140.45,467.62 140.69,467.06 140.92,467.18 141.16,467.85 141.4,467.38 141.63,467.32 141.87,467.96 142.1,467.39 142.34,467.04 142.57,467.51 142.81,466.93 143.05,467.62 143.28,467.65 143.52,467.11 143.75,467.1 143.99,467.34 144.22,467.29 144.46,466.99 144.7,467.46 144.93,466.67 145.17,467.16 145.4,467.17 145.64,467.21 145.87,467.38 146.11,466.92 146.35,467.46 146.58,467.23 146.82,467.09 147.05,466.88 147.29,466.93 147.52,467.4 147.76,467 147.99,467.31 148.23,467.61 148.47,467.6 148.7,467.76 148.94,467.2 149.17,466.96 149.41,467.59 149.64,467.38 149.88,467.63 150.12,467.29 150.35,467.65 150.59,467.54 150.82,467.5 151.06,467.44 151.29,467.41 151.53,467.36 151.77,467.36 152,467.59 152.24,467.14 152.47,467.81 152.71,467.26 152.94,467.59 153.18,467.26 153.42,467.22 153.65,467.9 153.89,467.2 154.12,466.91 154.36,467.08 154.59,467.19 154.83,467.94 155.06,467.35 155.3,467.57 155.54,466.99 155.77,467.4 156.01,467.49 156.24,467.83 156.48,467.08 156.71,467.47 156.95,467.38 157.19,466.98 157.42,467.28 157.66,467.21 157.89,466.59 158.13,467.47 158.36,467.45 158.6,467.16 158.84,466.89 159.07,467.73 159.31,467.37 159.54,467.6 159.78,467.71 160.01,467.13 160.25,467.53 160.49,467.22 160.72,467.27 160.96,467.27 161.19,467.29 161.43,467.63 161.66,467.33 161.9,467.25 162.14,467.21 162.37,467.39 162.61,467.02 162.84,467.14 163.08,467.28 163.31,467.12 163.55,467.26 163.78,467.11 164.02,467.89 164.26,467.69 164.49,467.43 164.73,467.28 164.96,467.95 165.2,467.39 165.43,467.27 165.67,467.38 165.91,467.38 166.14,467.71 166.38,467.28 166.61,467.91 166.85,467.02 167.08,467.48 167.32,466.97 167.56,467.8 167.79,467.14 168.03,467.2 168.26,467.46 168.5,467.52 168.73,466.76 168.97,466.92 169.21,466.52 169.44,466.87 169.68,466.66 169.91,466.41 170.15,466.09 170.38,465.92 170.62,465.49 170.86,465.5 171.09,465.35 171.33,463.8 171.56,463.76 171.8,463.01 172.03,462.54 172.27,461.3 172.5,460.67 172.74,459.47 172.98,459.01 173.21,457.83 173.45,456.73 173.68,455.88 173.92,454.72 174.15,453.41 174.39,453.21 174.63,452.38 174.86,451.63 175.1,451.49 175.33,451.24 175.57,450.38 175.8,450.49 176.04,451.36 176.28,451.66 176.51,451.51 176.75,452.01 176.98,452.93 177.22,453.82 177.45,454.42 177.69,455.89 177.93,456.51 178.16,457.54 178.4,459.19 178.63,459.68 178.87,460.79 179.1,461.87 179.34,462.73 179.58,463.11 179.81,463.88 180.05,464.2 180.28,465.47 180.52,465.58 180.75,465.42 180.99,466.07 181.22,466.54 181.46,466.68 181.7,467.26 181.93,467.26 182.17,466.79 182.4,467.01 182.64,466.72 182.87,467.23 183.11,467.24 183.35,468.03 183.58,467.27 183.82,466.63 184.05,467.07 184.29,467.31 184.52,466.91 184.76,467.03 185,467.18 185.23,467.39 185.47,467.24 185.7,467.03 185.94,467.53 186.17,467.13 186.41,467.14 186.65,466.88 186.88,467.06 187.12,467.49 187.35,466.81 187.59,467.27 187.82,467.51 188.06,467.18 188.3,467.37 188.53,466.96 188.77,467.69 189,467.63 189.24,467.37 189.47,466.77 189.71,466.98 189.94,467.59 190.18,467.81 190.42,467.38 190.65,467.67 190.89,467.11 191.12,467.24 191.36,467.3 191.59,467.42 191.83,466.84 192.07,467.58 192.3,467.69 192.54,466.95 192.77,466.89 193.01,467.4 193.24,467.1 193.48,466.58 193.72,467.54 193.95,467.34 194.19,467.15 194.42,467.93 194.66,467.34 194.89,467.07 195.13,467.33 195.37,466.98 195.6,467.07 195.84,467.41 196.07,467.13 196.31,467.16 196.54,467.8 196.78,467.55 197.01,467.54 197.25,467.45 197.49,467.44 197.72,467.73 197.96,467.29 198.19,467.85 198.43,467.01 198.66,467.22 198.9,466.88 199.14,467.19" fill="none" stroke="#d0161c" stroke-width="1.3" stroke-linejoin="round" />
<text x="112.4" y="401.7" font-size="9.9" text-anchor="start" fill="#1a1a1a" stroke="#1a1a1a" stroke-width="0.18" letter-spacing="-0.1">graphite</text>
<text x="109.6" y="460.2" font-size="9.7" text-anchor="start" fill="#1a1a1a" stroke="#1a1a1a" stroke-width="0.18" letter-spacing="-0.1">graphene</text>
<line x1="34.4" y1="480.2" x2="34.4" y2="477.7" stroke="#1a1a1a" stroke-width="0.9"/>
<text x="33.8" y="489.5" font-size="6.8" text-anchor="middle" fill="#333" letter-spacing="0.9" stroke="#333" stroke-width="0.22">1000</text>
<line x1="55.2" y1="480.2" x2="55.2" y2="478.7" stroke="#1a1a1a" stroke-width="0.9"/>
<line x1="76" y1="480.2" x2="76" y2="477.7" stroke="#1a1a1a" stroke-width="0.9"/>
<text x="75.4" y="489.5" font-size="6.8" text-anchor="middle" fill="#333" letter-spacing="0.9" stroke="#333" stroke-width="0.22">1500</text>
<line x1="96.8" y1="480.2" x2="96.8" y2="478.7" stroke="#1a1a1a" stroke-width="0.9"/>
<line x1="117.6" y1="480.2" x2="117.6" y2="477.7" stroke="#1a1a1a" stroke-width="0.9"/>
<text x="117" y="489.5" font-size="6.8" text-anchor="middle" fill="#333" letter-spacing="0.9" stroke="#333" stroke-width="0.22">2000</text>
<line x1="138.4" y1="480.2" x2="138.4" y2="478.7" stroke="#1a1a1a" stroke-width="0.9"/>
<line x1="159.2" y1="480.2" x2="159.2" y2="477.7" stroke="#1a1a1a" stroke-width="0.9"/>
<text x="158.6" y="489.5" font-size="6.8" text-anchor="middle" fill="#333" letter-spacing="0.9" stroke="#333" stroke-width="0.22">2500</text>
<line x1="180" y1="480.2" x2="180" y2="478.7" stroke="#1a1a1a" stroke-width="0.9"/>
<line x1="200.8" y1="480.2" x2="200.8" y2="477.7" stroke="#1a1a1a" stroke-width="0.9"/>
<text x="200.2" y="489.5" font-size="6.8" text-anchor="middle" fill="#333" letter-spacing="0.9" stroke="#333" stroke-width="0.22">3000</text>
<text x="118" y="504.8" font-size="9.2" text-anchor="middle" fill="#222" stroke="#222" stroke-width="0.18" letter-spacing="0.35">Raman shift (cm<tspan font-size="5.5" dy="-4">-1</tspan><tspan dy="4">)</tspan></text>
<text transform="translate(21.3,421.5) rotate(-90)" x="0" y="0" font-size="9.4" text-anchor="middle" fill="#222" letter-spacing="1.0" font-weight="normal" stroke="#222" stroke-width="0.2">Intensity</text>
<rect x="251.3" y="354.3" width="167.2" height="125.5" fill="none" stroke="#1a1a1a" stroke-width="1.2"/>
<polyline points="251.3,461.38 251.58,461.8 251.86,460.84 252.14,461.14 252.42,460.98 252.7,460.81 252.97,460.6 253.25,461.16 253.53,460.35 253.81,461.18 254.09,461.14 254.37,460.83 254.65,460.67 254.93,460.5 255.21,461.96 255.49,460.51 255.77,461.82 256.05,461.38 256.32,460.95 256.6,460.59 256.88,461.58 257.16,461.88 257.44,460.68 257.72,460.96 258,461.57 258.28,461.24 258.56,461.99 258.84,460.83 259.12,461.33 259.39,460.52 259.67,462.02 259.95,460.75 260.23,460.08 260.51,461.01 260.79,461 261.07,461.92 261.35,460.91 261.63,461.05 261.91,461.32 262.19,461.76 262.47,461.02 262.74,461.51 263.02,461.27 263.3,460.9 263.58,461.06 263.86,461.04 264.14,460.61 264.42,461.56 264.7,460.39 264.98,461.53 265.26,461.43 265.54,460.95 265.81,460.64 266.09,460.88 266.37,461.19 266.65,461.31 266.93,461.09 267.21,461.41 267.49,460.7 267.77,461.05 268.05,460.23 268.33,461.28 268.61,460.99 268.89,460.73 269.16,461.43 269.44,461.21 269.72,459.63 270,460.9 270.28,460.22 270.56,461.35 270.84,461.98 271.12,460.61 271.4,460.87 271.68,460.71 271.96,460.97 272.23,461.1 272.51,461.37 272.79,460.34 273.07,461.48 273.35,460.34 273.63,460.87 273.91,461.25 274.19,461.03 274.47,460.27 274.75,460.36 275.03,460.45 275.31,460.62 275.58,461.14 275.86,460.03 276.14,460.8 276.42,460.84 276.7,460.79 276.98,460.73 277.26,461.17 277.54,460.68 277.82,460.82 278.1,460.66 278.38,461.18 278.65,459.48 278.93,460.87 279.21,460.13 279.49,460.08 279.77,459.71 280.05,459.25 280.33,459.86 280.61,459.65 280.89,460.11 281.17,459.14 281.45,460.35 281.73,459.72 282,459.37 282.28,459.03 282.56,458.85 282.84,458.53 283.12,458.61 283.4,458.66 283.68,458.35 283.96,457.54 284.24,457.78 284.52,457.2 284.8,457.34 285.07,457.74 285.35,456.79 285.63,455.93 285.91,454.88 286.19,454.47 286.47,453.82 286.75,454.34 287.03,453.06 287.31,452.8 287.59,451.83 287.87,451.47 288.15,451.35 288.42,449.68 288.7,449.09 288.98,448.14 289.26,448.15 289.54,446.55 289.82,445.79 290.1,444.99 290.38,444.34 290.66,444.59 290.94,445.02 291.22,442.97 291.49,443.5 291.77,442.93 292.05,442.18 292.33,442.52 292.61,442.62 292.89,442.61 293.17,444.09 293.45,442.76 293.73,444.27 294.01,444.8 294.29,445 294.57,445.99 294.84,447.02 295.12,447.42 295.4,448.28 295.68,449.15 295.96,448.66 296.24,450.98 296.52,452.06 296.8,452.17 297.08,452.86 297.36,452.41 297.64,453.61 297.92,453.88 298.19,454.53 298.47,455.74 298.75,455.43 299.03,456.17 299.31,455.78 299.59,456.95 299.87,457.41 300.15,457.37 300.43,457.65 300.71,459.08 300.99,457.92 301.26,458.21 301.54,458.51 301.82,459.58 302.1,460.14 302.38,459.48 302.66,459.13 302.94,459.37 303.22,460.14 303.5,459.34 303.78,460.48 304.06,460.53 304.34,459.99 304.61,460.31 304.89,460.4 305.17,460.81 305.45,459.68 305.73,460.72 306.01,460.06 306.29,459.91 306.57,460.33 306.85,460.22 307.13,459.9 307.41,459.65 307.68,459.96 307.96,461.06 308.24,461.31 308.52,460.74 308.8,461 309.08,460.24 309.36,460.46 309.64,460.63 309.92,460.03 310.2,460.09 310.48,460.59 310.76,460.41 311.03,460.09 311.31,460.75 311.59,460.47 311.87,461.05 312.15,460.6 312.43,460.47 312.71,460.67 312.99,460.54 313.27,460.33 313.55,460.45 313.83,460.98 314.1,460.94 314.38,461.23 314.66,459.89 314.94,460.48 315.22,460.47 315.5,460.74 315.78,460.46 316.06,460.44 316.34,461.02 316.62,460.75 316.9,460.15 317.18,461.28 317.45,461.13 317.73,460.42 318.01,461.05 318.29,460.35 318.57,461.18 318.85,460.58 319.13,460.31 319.41,460.51 319.69,460.33 319.97,460.76 320.25,460.75 320.52,460.68 320.8,460.42 321.08,459.02 321.36,460.7 321.64,459.8 321.92,460.76 322.2,461.16 322.48,460.77 322.76,460.47 323.04,460.56 323.32,460.57 323.6,460.38 323.87,460.36 324.15,460.2 324.43,461.15 324.71,460.6 324.99,461.03 325.27,460.48 325.55,460.62 325.83,460.5 326.11,460.78 326.39,460.93 326.67,460.66 326.94,460.24 327.22,460.18 327.5,461.27 327.78,460.39 328.06,460.37 328.34,461.15 328.62,460.97 328.9,460.71 329.18,460.28 329.46,461.5 329.74,460.61 330.02,460.66 330.29,460.33 330.57,459.75 330.85,459.77 331.13,460.54 331.41,460.52 331.69,460.22 331.97,459.78 332.25,459.64 332.53,460.12 332.81,459.6 333.09,460.63 333.36,460.73 333.64,461.46 333.92,460.56 334.2,459.87 334.48,459.72 334.76,458.54 335.04,459.79 335.32,459.95 335.6,460.44 335.88,460.25 336.16,460.21 336.44,460.01 336.71,460.17 336.99,460.49 337.27,459.32 337.55,459.56 337.83,459.1 338.11,460.41 338.39,460.22 338.67,459.93 338.95,459 339.23,459.56 339.51,459.33 339.78,459.41 340.06,459.23 340.34,459.49 340.62,459.01 340.9,459.51 341.18,459.16 341.46,458.84 341.74,458.84 342.02,458.61 342.3,459.08 342.58,458.5 342.86,458.66 343.13,458.24 343.41,457.64 343.69,458.59 343.97,457.58 344.25,458.23 344.53,457.97 344.81,456.88 345.09,457.04 345.37,457.06 345.65,456.73 345.93,456.36 346.2,457.01 346.48,456.32 346.76,456.34 347.04,455.68 347.32,455.69 347.6,454.86 347.88,454.78 348.16,454.6 348.44,453.85 348.72,453.03 349,452.07 349.28,451.86 349.55,451.04 349.83,449.73 350.11,448.3 350.39,447.5 350.67,446.77 350.95,443.68 351.23,441.87 351.51,439.5 351.79,435.47 352.07,433.65 352.35,429.91 352.62,427.13 352.9,422.32 353.18,417.67 353.46,413.2 353.74,408.37 354.02,402.82 354.3,397.68 354.58,391.67 354.86,386.84 355.14,382.19 355.42,378.04 355.7,373.41 355.97,369.97 356.25,368.16 356.53,367.01 356.81,367.44 357.09,368.54 357.37,370.48 357.65,374.09 357.93,378.27 358.21,383.11 358.49,388.2 358.77,393.09 359.04,397.86 359.32,403.78 359.6,408.27 359.88,414.06 360.16,418.56 360.44,421.99 360.72,426.87 361,430.38 361.28,433.08 361.56,436.45 361.84,438.83 362.12,439.38 362.39,442 362.67,443.03 362.95,444.05 363.23,445.06 363.51,444.87 363.79,445.31 364.07,445.44 364.35,445.6 364.63,445.95 364.91,445.36 365.19,445.57 365.46,446.37 365.74,446.21 366.02,446.64 366.3,445.96 366.58,446.91 366.86,447.57 367.14,448.48 367.42,448.92 367.7,450.37 367.98,450.72 368.26,451.55 368.54,452.34 368.81,453.41 369.09,453.6 369.37,455 369.65,455.32 369.93,455.76 370.21,456.22 370.49,456.89 370.77,457.52 371.05,457.84 371.33,457.89 371.61,458.38 371.88,458.27 372.16,458.98 372.44,458.58 372.72,457.8 373,459.47 373.28,459.03 373.56,458.56 373.84,459.09 374.12,458.86 374.4,460.28 374.68,459.63 374.96,458.77 375.23,459.78 375.51,459.41 375.79,460.51 376.07,459.22 376.35,458.73 376.63,459.82 376.91,459.68 377.19,459.69 377.47,458.95 377.75,460.15 378.03,460.74 378.31,459.17 378.58,460.59 378.86,459.83 379.14,461.18 379.42,460.35 379.7,460.1 379.98,460.7 380.26,460.47 380.54,459.99 380.82,460.6 381.1,460.08 381.38,459.53 381.65,461.27 381.93,460.22 382.21,460.12 382.49,460.57 382.77,459.73 383.05,459.84 383.33,460.24 383.61,460.25 383.89,460.54 384.17,461.02 384.45,460.32 384.73,460.77 385,460.84 385.28,460.09 385.56,460.7 385.84,460.18 386.12,461.1 386.4,460.84 386.68,460.65 386.96,460.05 387.24,460.72 387.52,460.33 387.8,461.01 388.07,460.65 388.35,460.35 388.63,461.14 388.91,461.06 389.19,460.48 389.47,461.27 389.75,460.63 390.03,460.63 390.31,460.83 390.59,460.45 390.87,460.6 391.15,460.73 391.42,461.5 391.7,461.49 391.98,460.71 392.26,461.56 392.54,460.82 392.82,461.02 393.1,461.25 393.38,460.99 393.66,461.95 393.94,460.98 394.22,460.34 394.49,461.47 394.77,460.71 395.05,460.76 395.33,459.56 395.61,461.36 395.89,461.28 396.17,461.28 396.45,461.37 396.73,461.69 397.01,460.92 397.29,461.36 397.57,460.61 397.84,460.79 398.12,461.43 398.4,461.14 398.68,460.36 398.96,461.13 399.24,460.89 399.52,460.61 399.8,461.18 400.08,460.8 400.36,460.28 400.64,460.49 400.91,461.79 401.19,460.32 401.47,461.1 401.75,461.28 402.03,461.3 402.31,460.46 402.59,460.87 402.87,461.08 403.15,461.38 403.43,460.74 403.71,460.51 403.99,461.48 404.26,461.53 404.54,461.21 404.82,460.77 405.1,461.23 405.38,461.1 405.66,461.43 405.94,460.49 406.22,461.11 406.5,460.99 406.78,460.56 407.06,461.16 407.33,461.08 407.61,460.88 407.89,461.25 408.17,460.44 408.45,461.05 408.73,461.27 409.01,461.21 409.29,461.57 409.57,460.55 409.85,460.41 410.13,461.2 410.41,461.3 410.68,462.05 410.96,461.37 411.24,460.71 411.52,461.46 411.8,460.72 412.08,460.44 412.36,462.28 412.64,461.25 412.92,461.43 413.2,461.37 413.48,461.93 413.75,461.24 414.03,461.67 414.31,460.66 414.59,460.49 414.87,461.76 415.15,461.79 415.43,461.36 415.71,461.23 415.99,461.2 416.27,460.82 416.55,461.82 416.83,461.43 417.1,461.36 417.38,461.31 417.66,461.61 417.94,461.37 418.22,461.48 418.5,460.62" fill="none" stroke="#b050b8" stroke-width="0.9" stroke-linejoin="round" />
<polyline points="251.3,461.36 251.58,462.12 251.86,460.9 252.14,461.07 252.42,461.53 252.7,461.56 252.97,461.4 253.25,460.39 253.53,461.35 253.81,460.59 254.09,460.74 254.37,461.36 254.65,460.98 254.93,461.47 255.21,462.52 255.49,461.45 255.77,461.43 256.05,460.7 256.32,460.81 256.6,460.62 256.88,460.85 257.16,460.6 257.44,460.79 257.72,460.99 258,460.63 258.28,460.44 258.56,460.46 258.84,461.28 259.12,461.09 259.39,461.53 259.67,461.53 259.95,460.9 260.23,461.36 260.51,460.4 260.79,462.07 261.07,461.58 261.35,460.94 261.63,460.51 261.91,461.2 262.19,460.19 262.47,460.67 262.74,461.36 263.02,461.05 263.3,460.79 263.58,461.43 263.86,460.53 264.14,461.12 264.42,460.77 264.7,460.6 264.98,461.19 265.26,460.53 265.54,461.82 265.81,460.7 266.09,461.85 266.37,460.46 266.65,461.22 266.93,460.4 267.21,460.33 267.49,461 267.77,461.22 268.05,460.34 268.33,461.43 268.61,460.53 268.89,460.94 269.16,461.05 269.44,461.14 269.72,460.05 270,461.58 270.28,461.09 270.56,460.64 270.84,460.36 271.12,460.05 271.4,460.18 271.68,461.03 271.96,460.62 272.23,460.25 272.51,460.51 272.79,461.44 273.07,460.57 273.35,460.44 273.63,461.3 273.91,460.88 274.19,460.68 274.47,460.37 274.75,459.92 275.03,460.08 275.31,460.37 275.58,460.47 275.86,460.7 276.14,460.77 276.42,460.6 276.7,460.57 276.98,459.99 277.26,459.44 277.54,460.15 277.82,459.92 278.1,460.02 278.38,460.16 278.65,459.68 278.93,459.7 279.21,460.1 279.49,460.15 279.77,459.74 280.05,460.2 280.33,459.81 280.61,459.37 280.89,459.77 281.17,460.5 281.45,459.25 281.73,459.96 282,459.92 282.28,459.83 282.56,458.62 282.84,459.72 283.12,458.66 283.4,458.27 283.68,458.03 283.96,458.13 284.24,457.58 284.52,457.14 284.8,457.43 285.07,456.12 285.35,455.54 285.63,455.89 285.91,455.34 286.19,454.96 286.47,453.4 286.75,453.74 287.03,452.81 287.31,452.68 287.59,450.6 287.87,450.5 288.15,449.49 288.42,448.09 288.7,447.67 288.98,447.67 289.26,446.13 289.54,445.2 289.82,445.12 290.1,444.42 290.38,443.71 290.66,442.26 290.94,442.01 291.22,442.01 291.49,440.87 291.77,440.55 292.05,441.1 292.33,441.4 292.61,440.27 292.89,439.83 293.17,440.68 293.45,441.31 293.73,442.24 294.01,443.19 294.29,443.52 294.57,444.01 294.84,445.17 295.12,445.47 295.4,446.69 295.68,447.25 295.96,449.57 296.24,449.54 296.52,449.59 296.8,450.29 297.08,451.28 297.36,451.45 297.64,452.55 297.92,453.19 298.19,454.52 298.47,454.5 298.75,454.87 299.03,455.11 299.31,455.64 299.59,456.56 299.87,456.88 300.15,457.83 300.43,457.36 300.71,458.4 300.99,458.3 301.26,458.42 301.54,457.73 301.82,458.24 302.1,459.33 302.38,459.77 302.66,459.37 302.94,459.74 303.22,459.32 303.5,459.44 303.78,459.39 304.06,460.21 304.34,459.99 304.61,459.79 304.89,459.81 305.17,460.26 305.45,460.2 305.73,459.72 306.01,460.91 306.29,460.29 306.57,460.21 306.85,460.9 307.13,460.72 307.41,460.25 307.68,460.56 307.96,459.86 308.24,460.07 308.52,459.36 308.8,460.95 309.08,459.56 309.36,460.74 309.64,460.07 309.92,460.02 310.2,460.39 310.48,460.61 310.76,460.78 311.03,461.31 311.31,460.69 311.59,460.93 311.87,460.28 312.15,460.88 312.43,460.63 312.71,460.36 312.99,460.54 313.27,460.56 313.55,460.68 313.83,460.78 314.1,460.38 314.38,460.28 314.66,460.95 314.94,459.86 315.22,460.35 315.5,461.33 315.78,459.42 316.06,460.32 316.34,460.95 316.62,459.9 316.9,461.81 317.18,459.48 317.45,461.29 317.73,461.35 318.01,461.06 318.29,460.55 318.57,460.81 318.85,460.25 319.13,461.01 319.41,460.15 319.69,460.53 319.97,461.1 320.25,460.14 320.52,460.48 320.8,460.72 321.08,460.04 321.36,461.16 321.64,460.79 321.92,459.95 322.2,460.61 322.48,460.28 322.76,460.33 323.04,460.65 323.32,460.29 323.6,461.04 323.87,460.29 324.15,461.04 324.43,460.57 324.71,460.97 324.99,460.34 325.27,460.35 325.55,460.05 325.83,460.82 326.11,460.97 326.39,461.5 326.67,461.12 326.94,460.64 327.22,460.42 327.5,460.68 327.78,460.49 328.06,461.15 328.34,460.9 328.62,460.09 328.9,460.15 329.18,461.06 329.46,460.57 329.74,460.31 330.02,460.94 330.29,460.22 330.57,460.25 330.85,460.15 331.13,459.46 331.41,460.72 331.69,459.77 331.97,460.04 332.25,459.94 332.53,460.58 332.81,460.21 333.09,460.22 333.36,459.44 333.64,460.13 333.92,459.49 334.2,460.27 334.48,460.27 334.76,460.07 335.04,460.97 335.32,460.26 335.6,460.26 335.88,460.03 336.16,459.84 336.44,460.33 336.71,460.36 336.99,459.24 337.27,460.26 337.55,459.98 337.83,460.14 338.11,459.88 338.39,459.06 338.67,459.05 338.95,460.35 339.23,459.59 339.51,458.78 339.78,459.52 340.06,459.14 340.34,458.41 340.62,458.15 340.9,458.39 341.18,459.16 341.46,458.94 341.74,458.77 342.02,458.92 342.3,458.98 342.58,457.67 342.86,458.38 343.13,458.03 343.41,457.74 343.69,457.93 343.97,457.99 344.25,457.79 344.53,457.12 344.81,457.4 345.09,458.36 345.37,456.8 345.65,456.33 345.93,457.01 346.2,456.93 346.48,456.63 346.76,455.65 347.04,456.31 347.32,455.19 347.6,454.67 347.88,454.51 348.16,454.28 348.44,454.14 348.72,453.51 349,452.54 349.28,452.19 349.55,450.91 349.83,450.24 350.11,448 350.39,446.53 350.67,445.99 350.95,443.18 351.23,441.57 351.51,439.27 351.79,436.39 352.07,433.38 352.35,430.84 352.62,425.35 352.9,422.81 353.18,419.04 353.46,413.29 353.74,408.27 354.02,403.38 354.3,398.5 354.58,391.73 354.86,386.96 355.14,381.73 355.42,377.38 355.7,373.14 355.97,370.12 356.25,367.41 356.53,366.54 356.81,366.37 357.09,367.73 357.37,370.44 357.65,373.88 357.93,377.63 358.21,383.64 358.49,388.01 358.77,392.78 359.04,399.25 359.32,403.7 359.6,409.35 359.88,413.95 360.16,418.59 360.44,422.73 360.72,426.19 361,429.88 361.28,433.8 361.56,434.51 361.84,437.8 362.12,439.87 362.39,440.77 362.67,441.88 362.95,444.44 363.23,444.02 363.51,445.62 363.79,445.25 364.07,445.22 364.35,445.46 364.63,445.53 364.91,445.74 365.19,445.38 365.46,445.28 365.74,445.4 366.02,446.15 366.3,446.25 366.58,445.9 366.86,446.66 367.14,447.78 367.42,448.12 367.7,449.05 367.98,449.65 368.26,450.82 368.54,451.98 368.81,453.06 369.09,453.39 369.37,455.06 369.65,454.76 369.93,456.85 370.21,456.42 370.49,456.68 370.77,456.67 371.05,456 371.33,457.53 371.61,457.96 371.88,458.99 372.16,457.72 372.44,459.38 372.72,458.57 373,459.14 373.28,457.79 373.56,459.11 373.84,458.99 374.12,459.53 374.4,459.35 374.68,458.86 374.96,459.87 375.23,459.82 375.51,459.83 375.79,460.07 376.07,460.17 376.35,459.71 376.63,459.16 376.91,459.19 377.19,460.46 377.47,460.22 377.75,459.98 378.03,459.78 378.31,460.02 378.58,460.05 378.86,459.92 379.14,459.79 379.42,461.11 379.7,460.27 379.98,459.92 380.26,459.63 380.54,459.92 380.82,460.6 381.1,460.64 381.38,460.22 381.65,460.36 381.93,460.23 382.21,459.88 382.49,460.99 382.77,460.59 383.05,461.56 383.33,460.12 383.61,460.42 383.89,460.89 384.17,460.4 384.45,459.9 384.73,460.11 385,460.6 385.28,460.73 385.56,460.54 385.84,461.05 386.12,461.06 386.4,460.77 386.68,460.65 386.96,460.54 387.24,460.91 387.52,461.09 387.8,460.71 388.07,460.9 388.35,460.56 388.63,460.08 388.91,460.28 389.19,461.08 389.47,460.95 389.75,461.47 390.03,460.79 390.31,461.16 390.59,461.38 390.87,461.24 391.15,460.52 391.42,460.72 391.7,460.87 391.98,460.38 392.26,461.04 392.54,461.3 392.82,460.63 393.1,461.74 393.38,460.73 393.66,460.77 393.94,460.76 394.22,460.56 394.49,461.07 394.77,460.9 395.05,461.64 395.33,461.17 395.61,461.15 395.89,460.81 396.17,460.28 396.45,460.88 396.73,460.54 397.01,461.36 397.29,460.92 397.57,461.69 397.84,461.28 398.12,461.33 398.4,461.06 398.68,461.05 398.96,461.26 399.24,461.38 399.52,460.65 399.8,461.2 400.08,462.16 400.36,460.94 400.64,460.87 400.91,460.68 401.19,460.34 401.47,461.54 401.75,461.03 402.03,461.14 402.31,461.84 402.59,462.14 402.87,460.62 403.15,461.5 403.43,461.31 403.71,461.21 403.99,461.25 404.26,461.02 404.54,461.75 404.82,461.32 405.1,461.2 405.38,461.61 405.66,461.45 405.94,461.26 406.22,461.2 406.5,461.85 406.78,461.29 407.06,461.02 407.33,460.68 407.61,460.91 407.89,460.6 408.17,461.12 408.45,461.19 408.73,460.15 409.01,461.09 409.29,461.37 409.57,461.16 409.85,460.66 410.13,461.66 410.41,460.78 410.68,460.54 410.96,460.61 411.24,461.09 411.52,461.54 411.8,461.63 412.08,461.2 412.36,460.57 412.64,460.81 412.92,460.7 413.2,461.03 413.48,460.31 413.75,461.16 414.03,461.41 414.31,461.05 414.59,461.33 414.87,460.7 415.15,460.47 415.43,460.84 415.71,461.65 415.99,461.59 416.27,460.92 416.55,461.67 416.83,460.99 417.1,461.81 417.38,461.35 417.66,460.93 417.94,461.5 418.22,460.79 418.5,460.72" fill="none" stroke="#a05a5a" stroke-width="0.9" stroke-linejoin="round" />
<polyline points="251.3,460.47 251.58,461.24 251.86,461.1 252.14,461.08 252.42,460.93 252.7,461.76 252.97,460.92 253.25,460.78 253.53,461.67 253.81,461.74 254.09,461.26 254.37,460.32 254.65,460.83 254.93,461.37 255.21,461.1 255.49,461.79 255.77,460.47 256.05,461.39 256.32,460.8 256.6,461.67 256.88,461.04 257.16,461.54 257.44,460.78 257.72,460.43 258,460.56 258.28,460.79 258.56,460.6 258.84,461.59 259.12,461.65 259.39,461.17 259.67,460.58 259.95,460.99 260.23,460.73 260.51,461.69 260.79,461.17 261.07,461.24 261.35,460.84 261.63,460.11 261.91,460.66 262.19,460.5 262.47,461.17 262.74,461.04 263.02,460.63 263.3,460.81 263.58,461.69 263.86,460.55 264.14,460.56 264.42,460.86 264.7,460.65 264.98,460.76 265.26,461.19 265.54,461.72 265.81,460.14 266.09,460.92 266.37,460.94 266.65,460.88 266.93,460.83 267.21,460.75 267.49,461.35 267.77,460.68 268.05,460.82 268.33,460.87 268.61,460.91 268.89,460.78 269.16,461.29 269.44,460.83 269.72,460.9 270,460.79 270.28,460.35 270.56,460.42 270.84,460.31 271.12,460.86 271.4,460.44 271.68,460.27 271.96,460.84 272.23,460.95 272.51,459.91 272.79,461.45 273.07,460.69 273.35,460.61 273.63,461.12 273.91,460.65 274.19,460.33 274.47,461.57 274.75,460.08 275.03,460.5 275.31,460.91 275.58,460.02 275.86,460.43 276.14,460.63 276.42,461.51 276.7,460 276.98,460.35 277.26,460.63 277.54,460.34 277.82,459.73 278.1,460.42 278.38,460.24 278.65,460.35 278.93,460.61 279.21,460.5 279.49,460.17 279.77,460.07 280.05,459.37 280.33,459.72 280.61,459.8 280.89,459.43 281.17,459.55 281.45,459.02 281.73,459.95 282,460.09 282.28,458.79 282.56,458.96 282.84,458.48 283.12,458.93 283.4,458.31 283.68,457.88 283.96,457.44 284.24,457.27 284.52,456.39 284.8,456.74 285.07,455.68 285.35,455.76 285.63,455.05 285.91,454.93 286.19,453.82 286.47,453.64 286.75,452.08 287.03,452.04 287.31,450.9 287.59,450.29 287.87,449.4 288.15,448.93 288.42,446.72 288.7,446.88 288.98,445.15 289.26,445.47 289.54,443.15 289.82,442.72 290.1,441.58 290.38,442.3 290.66,440.27 290.94,440.27 291.22,439.44 291.49,438.45 291.77,438.8 292.05,439.08 292.33,438.66 292.61,439.27 292.89,438.92 293.17,439.45 293.45,439.75 293.73,440.66 294.01,442.03 294.29,442.08 294.57,442.81 294.84,443.29 295.12,444.1 295.4,446 295.68,445.74 295.96,446.73 296.24,447.99 296.52,448.71 296.8,450.63 297.08,449.5 297.36,451.5 297.64,452.41 297.92,452.29 298.19,453.17 298.47,454.27 298.75,455.39 299.03,454.78 299.31,454.99 299.59,456.59 299.87,457.26 300.15,456.81 300.43,456.31 300.71,458.28 300.99,457.82 301.26,458.67 301.54,458.38 301.82,458.43 302.1,458.59 302.38,459.62 302.66,459.75 302.94,458.27 303.22,458.93 303.5,460.26 303.78,459.39 304.06,459.03 304.34,459.72 304.61,459.74 304.89,459.8 305.17,459.69 305.45,459.82 305.73,459.8 306.01,460.19 306.29,459.72 306.57,459.99 306.85,460.09 307.13,460.77 307.41,460.38 307.68,460.19 307.96,460.51 308.24,460.47 308.52,460.8 308.8,460.56 309.08,461.16 309.36,460.98 309.64,460.37 309.92,460.22 310.2,460.82 310.48,460.67 310.76,460.41 311.03,459.8 311.31,459.65 311.59,460.65 311.87,460.85 312.15,460.87 312.43,459.94 312.71,461 312.99,460.3 313.27,460.72 313.55,460.74 313.83,460.2 314.1,460.3 314.38,459.64 314.66,460.17 314.94,459.78 315.22,460.79 315.5,460.62 315.78,461.01 316.06,460.76 316.34,460.32 316.62,460.77 316.9,460.44 317.18,460.89 317.45,460.76 317.73,460.18 318.01,460.62 318.29,460.65 318.57,460.48 318.85,461.03 319.13,461.4 319.41,460.46 319.69,460.47 319.97,459.61 320.25,460.56 320.52,460.42 320.8,459.65 321.08,460.75 321.36,460.88 321.64,460.28 321.92,460.44 322.2,460.17 322.48,460.95 322.76,459.92 323.04,460.46 323.32,461.47 323.6,460.61 323.87,460.79 324.15,460.51 324.43,460.04 324.71,460.55 324.99,460.74 325.27,460.09 325.55,460.7 325.83,461.1 326.11,461.02 326.39,459.81 326.67,460.08 326.94,459.78 327.22,460.98 327.5,460.77 327.78,460.8 328.06,460.08 328.34,459.94 328.62,460.49 328.9,460.49 329.18,460.04 329.46,460.48 329.74,460.69 330.02,460.49 330.29,459.91 330.57,459.41 330.85,460.23 331.13,460.41 331.41,460.2 331.69,460.11 331.97,459.97 332.25,460.58 332.53,460.22 332.81,460.28 333.09,459.77 333.36,459.9 333.64,460.23 333.92,459.69 334.2,459.55 334.48,459.94 334.76,460.6 335.04,460.12 335.32,460.67 335.6,459.92 335.88,459.81 336.16,459.29 336.44,459.63 336.71,460.5 336.99,459.96 337.27,460.11 337.55,460.06 337.83,459.69 338.11,459.56 338.39,459.66 338.67,459.87 338.95,459.72 339.23,459.69 339.51,459.48 339.78,459.01 340.06,459.18 340.34,458.81 340.62,459.62 340.9,458.15 341.18,458.93 341.46,460.02 341.74,458.72 342.02,458.27 342.3,458.69 342.58,459.18 342.86,458.43 343.13,458.67 343.41,458.33 343.69,458 343.97,459.46 344.25,457.93 344.53,457.52 344.81,457.39 345.09,457.61 345.37,457.45 345.65,457.42 345.93,456.93 346.2,456.01 346.48,456.65 346.76,456 347.04,455.72 347.32,454.86 347.6,454.91 347.88,454.44 348.16,454.3 348.44,453.15 348.72,453.24 349,452.59 349.28,451.25 349.55,450.58 349.83,449.43 350.11,449.03 350.39,446.09 350.67,445.47 350.95,443.04 351.23,441.49 351.51,439.68 351.79,436.31 352.07,433.63 352.35,429.81 352.62,427.34 352.9,422.81 353.18,418.5 353.46,412.67 353.74,407.77 354.02,403.52 354.3,397.57 354.58,392.12 354.86,387.05 355.14,381.23 355.42,377.46 355.7,373.05 355.97,370.02 356.25,367.27 356.53,366.73 356.81,366.32 357.09,368.43 357.37,370.98 357.65,374.32 357.93,378.36 358.21,383.18 358.49,386.81 358.77,393.73 359.04,398.59 359.32,404.02 359.6,408.93 359.88,413.26 360.16,418.15 360.44,422.85 360.72,426.97 361,429.45 361.28,432.32 361.56,435.99 361.84,437.16 362.12,440.36 362.39,440.97 362.67,441.76 362.95,443.52 363.23,444.5 363.51,443.54 363.79,445.14 364.07,444.42 364.35,445.22 364.63,444.32 364.91,443.69 365.19,444.56 365.46,444.74 365.74,445.35 366.02,445.39 366.3,445.27 366.58,445.34 366.86,445.83 367.14,446.66 367.42,447.24 367.7,448.37 367.98,448.26 368.26,450.41 368.54,451.23 368.81,453.28 369.09,453.31 369.37,453.53 369.65,454.73 369.93,454.58 370.21,455.46 370.49,455.42 370.77,457.37 371.05,457.39 371.33,456.95 371.61,457.75 371.88,458.47 372.16,458.49 372.44,458.63 372.72,458.24 373,458.48 373.28,458.93 373.56,459.42 373.84,458.73 374.12,458.69 374.4,459.79 374.68,458.93 374.96,459.9 375.23,459.59 375.51,459.94 375.79,460.38 376.07,459.96 376.35,460.05 376.63,459.34 376.91,459.48 377.19,460.13 377.47,460.57 377.75,460.54 378.03,461 378.31,460.13 378.58,460.12 378.86,460.51 379.14,460.1 379.42,460.09 379.7,459.68 379.98,460.63 380.26,459.73 380.54,460.46 380.82,459.62 381.1,460.78 381.38,459.84 381.65,460.71 381.93,459.64 382.21,460.17 382.49,460.92 382.77,460.05 383.05,460.46 383.33,460.23 383.61,459.43 383.89,460.62 384.17,460.7 384.45,460.02 384.73,460.79 385,460.19 385.28,460.11 385.56,460.58 385.84,460.29 386.12,461.64 386.4,459.92 386.68,460.96 386.96,461.09 387.24,459.76 387.52,459.89 387.8,460.93 388.07,460.47 388.35,460.87 388.63,461.22 388.91,460.55 389.19,460.25 389.47,459.51 389.75,460.84 390.03,460.34 390.31,460.91 390.59,460.88 390.87,460.16 391.15,461.57 391.42,461.29 391.7,461.19 391.98,460.28 392.26,460.64 392.54,460.58 392.82,460.65 393.1,460.34 393.38,461.05 393.66,460.96 393.94,461.03 394.22,460.64 394.49,461.46 394.77,460.97 395.05,459.66 395.33,460.61 395.61,460.88 395.89,461.34 396.17,460.78 396.45,460.81 396.73,460.62 397.01,461.23 397.29,460.73 397.57,460.67 397.84,460.61 398.12,461.2 398.4,460.71 398.68,460.2 398.96,461.24 399.24,460.65 399.52,461.13 399.8,461.14 400.08,461.52 400.36,461.45 400.64,460.73 400.91,460.91 401.19,460.41 401.47,461.75 401.75,461.2 402.03,461.63 402.31,460.86 402.59,460.09 402.87,461.7 403.15,461.06 403.43,461.08 403.71,461.05 403.99,461.32 404.26,461.27 404.54,460.32 404.82,461.53 405.1,460.8 405.38,460.83 405.66,461.82 405.94,461.46 406.22,460.9 406.5,460.22 406.78,461.13 407.06,461.3 407.33,461.03 407.61,460.5 407.89,460.71 408.17,460.5 408.45,461.17 408.73,461.44 409.01,461.54 409.29,460.75 409.57,461.19 409.85,461.33 410.13,460.86 410.41,461.02 410.68,462.05 410.96,461.18 411.24,461.49 411.52,460.9 411.8,461.12 412.08,460.33 412.36,461.09 412.64,461.64 412.92,462.05 413.2,461.65 413.48,461.42 413.75,461.13 414.03,460.84 414.31,461.04 414.59,461.39 414.87,460.76 415.15,461.54 415.43,460.68 415.71,460.32 415.99,460.67 416.27,460.38 416.55,460.51 416.83,461.64 417.1,461.04 417.38,461.23 417.66,461.65 417.94,461.7 418.22,460.91 418.5,461.74" fill="none" stroke="#7a3aa0" stroke-width="0.9" stroke-linejoin="round" />
<polyline points="251.3,461.28 251.58,461.11 251.86,461.3 252.14,460.46 252.42,460.75 252.7,461.05 252.97,461.37 253.25,460.92 253.53,461.03 253.81,461.52 254.09,461.72 254.37,461.43 254.65,461.65 254.93,460.89 255.21,460.94 255.49,461.21 255.77,460.93 256.05,460.84 256.32,461.8 256.6,460.97 256.88,460.62 257.16,461.27 257.44,461.87 257.72,461.08 258,461.6 258.28,460.84 258.56,460.81 258.84,460.72 259.12,460.96 259.39,461.85 259.67,460.5 259.95,461.75 260.23,460.56 260.51,460.9 260.79,461.38 261.07,461.28 261.35,461.12 261.63,460.25 261.91,461.15 262.19,460.52 262.47,462.13 262.74,460.87 263.02,461.05 263.3,460.44 263.58,460.73 263.86,460.36 264.14,461.38 264.42,460.81 264.7,461.18 264.98,460.61 265.26,460.69 265.54,461.48 265.81,460.46 266.09,460.08 266.37,461.07 266.65,460.36 266.93,460.67 267.21,461.27 267.49,460.48 267.77,461.24 268.05,460.53 268.33,461.49 268.61,461.41 268.89,460.59 269.16,460.7 269.44,460.41 269.72,460.86 270,461.28 270.28,460.1 270.56,461.15 270.84,460.13 271.12,460.32 271.4,459.89 271.68,461.63 271.96,460.69 272.23,460.76 272.51,460.33 272.79,461.1 273.07,459.65 273.35,460.6 273.63,461.56 273.91,460.37 274.19,460.53 274.47,460.81 274.75,460.12 275.03,460.47 275.31,460.87 275.58,460.5 275.86,460.55 276.14,460.2 276.42,460.47 276.7,460.32 276.98,460.91 277.26,460.55 277.54,460.08 277.82,459.05 278.1,460.43 278.38,460.4 278.65,459.6 278.93,459.05 279.21,459.38 279.49,460.25 279.77,459.28 280.05,459.48 280.33,459.7 280.61,460.06 280.89,459.39 281.17,459.24 281.45,458.91 281.73,459.75 282,459.33 282.28,458.63 282.56,457.84 282.84,457.89 283.12,458.26 283.4,457.39 283.68,457.81 283.96,457.23 284.24,456.82 284.52,456.57 284.8,456.04 285.07,454.93 285.35,454.63 285.63,455.24 285.91,453.01 286.19,452.66 286.47,452.62 286.75,451.29 287.03,450.18 287.31,449.08 287.59,449.01 287.87,448.29 288.15,447.49 288.42,445.89 288.7,445.32 288.98,443.36 289.26,442.88 289.54,441.49 289.82,440.9 290.1,440.22 290.38,439.48 290.66,437.75 290.94,438.05 291.22,436.66 291.49,435.94 291.77,435.98 292.05,435.2 292.33,435.82 292.61,436.07 292.89,436.11 293.17,436.85 293.45,437.01 293.73,437.81 294.01,437.92 294.29,439.43 294.57,439.93 294.84,441.07 295.12,442.22 295.4,443.36 295.68,443.56 295.96,444.61 296.24,446.18 296.52,447.52 296.8,448.42 297.08,449.58 297.36,450.65 297.64,451.13 297.92,451.69 298.19,451.99 298.47,452.73 298.75,453.6 299.03,454.55 299.31,455.09 299.59,455.51 299.87,455.91 300.15,456.7 300.43,456.9 300.71,457.3 300.99,457.63 301.26,457.53 301.54,457.58 301.82,458.5 302.1,458.67 302.38,458.57 302.66,458.65 302.94,460.02 303.22,458.78 303.5,459.15 303.78,459.47 304.06,458.93 304.34,459.59 304.61,460.42 304.89,460.1 305.17,460.03 305.45,460.07 305.73,459.91 306.01,460.34 306.29,459.88 306.57,459.8 306.85,460.08 307.13,460.48 307.41,460.25 307.68,460.44 307.96,459.25 308.24,460.73 308.52,461.27 308.8,460.84 309.08,460.12 309.36,459.9 309.64,460.43 309.92,459.88 310.2,460.67 310.48,460.12 310.76,460.81 311.03,461 311.31,459.49 311.59,460.55 311.87,460.12 312.15,459.81 312.43,460.18 312.71,460.37 312.99,460.94 313.27,459.8 313.55,460.97 313.83,461.41 314.1,460.78 314.38,460.77 314.66,460.52 314.94,460.01 315.22,460.78 315.5,460.72 315.78,460.88 316.06,461.71 316.34,460.89 316.62,460.76 316.9,461.27 317.18,459.97 317.45,460.06 317.73,460.41 318.01,460.29 318.29,460.89 318.57,460.44 318.85,461.37 319.13,461.27 319.41,460.93 319.69,460.41 319.97,460.87 320.25,460.95 320.52,460.11 320.8,460.74 321.08,460.9 321.36,460.68 321.64,461.29 321.92,461.13 322.2,460.21 322.48,460.63 322.76,460.2 323.04,460.83 323.32,460.17 323.6,460.98 323.87,460.73 324.15,460.99 324.43,460.48 324.71,459.89 324.99,461.33 325.27,460.45 325.55,461.14 325.83,460.71 326.11,460.81 326.39,461.33 326.67,460.65 326.94,461.12 327.22,459.81 327.5,460.86 327.78,460.35 328.06,460.39 328.34,460.44 328.62,460.59 328.9,461.17 329.18,459.57 329.46,460.42 329.74,460.06 330.02,460.9 330.29,460.17 330.57,460.55 330.85,460.15 331.13,460.61 331.41,460.75 331.69,460.1 331.97,460.29 332.25,459.61 332.53,460.36 332.81,460.59 333.09,459.94 333.36,460.67 333.64,459.21 333.92,459.29 334.2,459.47 334.48,459.86 334.76,460.06 335.04,459.99 335.32,459.96 335.6,460.29 335.88,459.72 336.16,459.34 336.44,459.31 336.71,460.79 336.99,458.74 337.27,459.69 337.55,460.38 337.83,459.9 338.11,459.27 338.39,459.6 338.67,459.94 338.95,460.05 339.23,459.05 339.51,459.74 339.78,459.46 340.06,459.78 340.34,459.85 340.62,459 340.9,458.43 341.18,459.19 341.46,459.74 341.74,459.17 342.02,458.88 342.3,459.77 342.58,458.12 342.86,458.9 343.13,458.13 343.41,458.3 343.69,458.19 343.97,458.71 344.25,457.47 344.53,457.51 344.81,456.88 345.09,457.65 345.37,457.05 345.65,457.26 345.93,456.38 346.2,456.48 346.48,456.87 346.76,456.06 347.04,456.13 347.32,455.76 347.6,455 347.88,454.06 348.16,454.75 348.44,453.87 348.72,453.65 349,451.62 349.28,451.01 349.55,449.89 349.83,449.42 350.11,449.08 350.39,447.47 350.67,445.6 350.95,443.84 351.23,442.02 351.51,439.15 351.79,436.77 352.07,433.62 352.35,429.2 352.62,426.29 352.9,423 353.18,417.8 353.46,413.19 353.74,407.98 354.02,402.81 354.3,398.16 354.58,392.11 354.86,386.43 355.14,380.39 355.42,376.84 355.7,372.15 355.97,368.97 356.25,367.92 356.53,366.81 356.81,365.77 357.09,368.37 357.37,370.67 357.65,373.55 357.93,378.45 358.21,382.16 358.49,387.48 358.77,392.7 359.04,398.2 359.32,404.37 359.6,408.45 359.88,413.36 360.16,417.96 360.44,422.64 360.72,426.18 361,430.11 361.28,432.4 361.56,434.75 361.84,437.33 362.12,439.44 362.39,440.52 362.67,442.27 362.95,443.88 363.23,443.47 363.51,444.19 363.79,445.04 364.07,444.25 364.35,444.16 364.63,443.99 364.91,444.57 365.19,444.55 365.46,444.24 365.74,444.41 366.02,445.17 366.3,445.34 366.58,444.8 366.86,446.05 367.14,446.83 367.42,447.92 367.7,448.38 367.98,449.1 368.26,450.11 368.54,450.43 368.81,452.1 369.09,452.68 369.37,453.94 369.65,454 369.93,454.92 370.21,455.27 370.49,455.76 370.77,457.02 371.05,456.9 371.33,457.66 371.61,457.26 371.88,458.06 372.16,457.48 372.44,458.22 372.72,458.37 373,459.01 373.28,458.95 373.56,458.9 373.84,459.46 374.12,459.25 374.4,459.49 374.68,459.67 374.96,459.36 375.23,459.32 375.51,459.66 375.79,459.39 376.07,459.8 376.35,460.17 376.63,460.11 376.91,459.6 377.19,459.24 377.47,459.83 377.75,459.84 378.03,460.43 378.31,459.8 378.58,459.91 378.86,460.37 379.14,459.85 379.42,460.03 379.7,460.9 379.98,460.83 380.26,460.47 380.54,460.33 380.82,459.8 381.1,460.51 381.38,460.31 381.65,460.4 381.93,460.09 382.21,460.34 382.49,460.29 382.77,460.53 383.05,461.05 383.33,460.59 383.61,459.7 383.89,460.02 384.17,459.77 384.45,460.14 384.73,460.76 385,460.7 385.28,460.27 385.56,460.67 385.84,460.23 386.12,459.94 386.4,459.96 386.68,460.22 386.96,461.26 387.24,460.03 387.52,461.2 387.8,461.25 388.07,460.58 388.35,460.65 388.63,460.41 388.91,460.68 389.19,461 389.47,460.72 389.75,461.17 390.03,461.27 390.31,460.9 390.59,460.9 390.87,460.73 391.15,460.92 391.42,460.27 391.7,460.96 391.98,460.88 392.26,460.41 392.54,461.77 392.82,460.38 393.1,460.43 393.38,460.95 393.66,459.96 393.94,460.48 394.22,460.16 394.49,460.42 394.77,460.8 395.05,461.01 395.33,461.36 395.61,461.24 395.89,461.41 396.17,461.15 396.45,460.68 396.73,461.4 397.01,460.68 397.29,460.63 397.57,461.6 397.84,461.27 398.12,461.02 398.4,461.26 398.68,461.32 398.96,460.32 399.24,460.9 399.52,460.41 399.8,461 400.08,460.65 400.36,461.57 400.64,461.19 400.91,460.6 401.19,460.96 401.47,460.43 401.75,460.99 402.03,461.22 402.31,461.1 402.59,460.12 402.87,460.84 403.15,461.22 403.43,461.13 403.71,461.52 403.99,460.42 404.26,461.24 404.54,460.71 404.82,461.1 405.1,461.19 405.38,461.32 405.66,460.76 405.94,461.1 406.22,460.5 406.5,460.39 406.78,461.28 407.06,461.01 407.33,460.31 407.61,460.65 407.89,461.05 408.17,461.74 408.45,461.51 408.73,461.4 409.01,460.25 409.29,461.01 409.57,461.27 409.85,461.23 410.13,461.24 410.41,460.95 410.68,461.85 410.96,461.73 411.24,461.02 411.52,460.63 411.8,461.99 412.08,460.82 412.36,461.61 412.64,461.93 412.92,460.65 413.2,461.21 413.48,460.92 413.75,461.31 414.03,461.23 414.31,461.96 414.59,461.35 414.87,461.09 415.15,461.6 415.43,460.97 415.71,460.93 415.99,462.1 416.27,460.73 416.55,460.88 416.83,461.12 417.1,460.63 417.38,460.16 417.66,461.58 417.94,460.75 418.22,460.86 418.5,460.94" fill="none" stroke="#c060c8" stroke-width="0.9" stroke-linejoin="round" />
<polyline points="251.3,460.62 251.58,460.57 251.86,461.13 252.14,462.13 252.42,461.38 252.7,461.38 252.97,460.37 253.25,461.03 253.53,460.51 253.81,461.38 254.09,460.93 254.37,461.05 254.65,460.99 254.93,460.76 255.21,460.34 255.49,461.28 255.77,460.39 256.05,460.48 256.32,460.87 256.6,460.68 256.88,461.12 257.16,461.45 257.44,461.1 257.72,461.08 258,460.99 258.28,461.37 258.56,460.14 258.84,461.14 259.12,460.55 259.39,460.41 259.67,460.96 259.95,460.78 260.23,461.21 260.51,461.44 260.79,459.89 261.07,460.9 261.35,461.81 261.63,461.31 261.91,461.57 262.19,460.96 262.47,460.26 262.74,460.39 263.02,461.21 263.3,461.32 263.58,460.55 263.86,460.75 264.14,460.98 264.42,460.07 264.7,460.69 264.98,461.57 265.26,461.82 265.54,460.78 265.81,461.64 266.09,460.58 266.37,460.44 266.65,459.79 266.93,461.22 267.21,460.61 267.49,461.82 267.77,460.9 268.05,460.83 268.33,459.92 268.61,461.4 268.89,460.55 269.16,460.63 269.44,459.69 269.72,461.09 270,461.11 270.28,460.38 270.56,460.68 270.84,460.8 271.12,461.04 271.4,460.64 271.68,461.35 271.96,460.45 272.23,460.26 272.51,460.31 272.79,459.36 273.07,460.12 273.35,460.91 273.63,460.56 273.91,460.05 274.19,460.55 274.47,459.46 274.75,460.21 275.03,460.55 275.31,460.6 275.58,459.91 275.86,460.64 276.14,461.04 276.42,459.97 276.7,460.46 276.98,459.39 277.26,459.16 277.54,460.28 277.82,459.98 278.1,460 278.38,459.59 278.65,459.67 278.93,460.1 279.21,460.44 279.49,459.5 279.77,458.77 280.05,460 280.33,459.6 280.61,459.53 280.89,459.18 281.17,460.01 281.45,458.85 281.73,458.88 282,457.63 282.28,458 282.56,457.72 282.84,457.75 283.12,457.64 283.4,456.82 283.68,457.58 283.96,455.93 284.24,455.77 284.52,455.6 284.8,454.4 285.07,454.65 285.35,454.05 285.63,452.96 285.91,453.21 286.19,451.6 286.47,450.85 286.75,449.4 287.03,448.13 287.31,447.6 287.59,446.69 287.87,445.55 288.15,444.98 288.42,442.41 288.7,441.8 288.98,440.31 289.26,440.56 289.54,438.54 289.82,437.43 290.1,436.08 290.38,435.97 290.66,434.45 290.94,433.91 291.22,432.2 291.49,433.09 291.77,432.35 292.05,432.19 292.33,432.46 292.61,431.94 292.89,432.26 293.17,433.13 293.45,433.62 293.73,434.08 294.01,435.09 294.29,435.81 294.57,437.41 294.84,438.61 295.12,439.34 295.4,441.35 295.68,440.99 295.96,442.75 296.24,444.79 296.52,444.96 296.8,445.53 297.08,447.95 297.36,448.58 297.64,448.77 297.92,450.58 298.19,450.63 298.47,451.3 298.75,452.6 299.03,453.15 299.31,453.53 299.59,454.45 299.87,454.71 300.15,455.7 300.43,456.11 300.71,456.87 300.99,456.7 301.26,456.64 301.54,456.95 301.82,457.71 302.1,458.75 302.38,458.66 302.66,458.18 302.94,459.07 303.22,458.28 303.5,459.39 303.78,458.89 304.06,459.52 304.34,459.55 304.61,459.24 304.89,459.59 305.17,459.04 305.45,459.55 305.73,460.14 306.01,461.56 306.29,460.08 306.57,459.85 306.85,459.39 307.13,460.37 307.41,459.18 307.68,459.61 307.96,460.16 308.24,459.49 308.52,460.76 308.8,460.58 309.08,459.86 309.36,459.89 309.64,459.57 309.92,459.56 310.2,460.41 310.48,460.51 310.76,460.41 311.03,460.39 311.31,460.03 311.59,460.47 311.87,459.65 312.15,460.34 312.43,461.01 312.71,460.96 312.99,460.16 313.27,460.23 313.55,461.02 313.83,461.21 314.1,459.74 314.38,460.23 314.66,460.54 314.94,460.99 315.22,460.07 315.5,460.75 315.78,460.33 316.06,461.55 316.34,460.67 316.62,460.42 316.9,460.34 317.18,460.97 317.45,460.8 317.73,460.01 318.01,460.6 318.29,459.9 318.57,460.17 318.85,459.93 319.13,459.92 319.41,460.21 319.69,460.08 319.97,460.76 320.25,460.88 320.52,460.41 320.8,460.01 321.08,460.88 321.36,459.6 321.64,459.65 321.92,460.85 322.2,460.81 322.48,460.95 322.76,460.41 323.04,459.94 323.32,460.28 323.6,460.76 323.87,460.15 324.15,460.18 324.43,459.86 324.71,459.96 324.99,460.86 325.27,460.68 325.55,459.94 325.83,459.98 326.11,460.2 326.39,460.7 326.67,459.91 326.94,460.36 327.22,459.46 327.5,459.85 327.78,460.6 328.06,460.81 328.34,459.87 328.62,460.03 328.9,460.73 329.18,460.18 329.46,460.1 329.74,460.57 330.02,460.41 330.29,460.81 330.57,460.66 330.85,460.02 331.13,460.21 331.41,460.22 331.69,459.62 331.97,459.78 332.25,460.64 332.53,459.47 332.81,460.61 333.09,460.27 333.36,460.06 333.64,460.35 333.92,460.3 334.2,460.6 334.48,459.85 334.76,459.9 335.04,459.87 335.32,460.8 335.6,460.35 335.88,459.48 336.16,459.71 336.44,459.51 336.71,459.8 336.99,459.86 337.27,460.76 337.55,458.86 337.83,460.11 338.11,459.8 338.39,459.24 338.67,459.45 338.95,459.24 339.23,459.44 339.51,459.82 339.78,458.62 340.06,459.84 340.34,459.02 340.62,459.8 340.9,459.24 341.18,459.54 341.46,459.16 341.74,459.31 342.02,458.76 342.3,458.27 342.58,458.86 342.86,458.78 343.13,459.3 343.41,457.33 343.69,458.03 343.97,458.47 344.25,457.29 344.53,457.61 344.81,458.52 345.09,458.04 345.37,456.83 345.65,457.68 345.93,457.36 346.2,456.96 346.48,456.54 346.76,456.21 347.04,455.42 347.32,455.26 347.6,455.46 347.88,454.79 348.16,455.11 348.44,453.61 348.72,452.09 349,452.35 349.28,451.84 349.55,450.99 349.83,449.81 350.11,448.21 350.39,447.86 350.67,445.29 350.95,444.07 351.23,441.52 351.51,438.72 351.79,437.19 352.07,432.39 352.35,429.77 352.62,426.63 352.9,422.2 353.18,418.29 353.46,413.18 353.74,408.01 354.02,403.97 354.3,397.52 354.58,392.13 354.86,386.37 355.14,381.41 355.42,377.36 355.7,373.25 355.97,369.76 356.25,367.21 356.53,366.76 356.81,365.83 357.09,367.79 357.37,370.31 357.65,373.48 357.93,378.14 358.21,382.54 358.49,387.61 358.77,394.1 359.04,398.98 359.32,404.44 359.6,409 359.88,414.23 360.16,418.65 360.44,422.99 360.72,427.28 361,429.48 361.28,432.67 361.56,435.11 361.84,435.75 362.12,438.53 362.39,440.65 362.67,442.09 362.95,442.41 363.23,443.79 363.51,444.24 363.79,443.67 364.07,444.55 364.35,444.64 364.63,443.94 364.91,443.14 365.19,444.13 365.46,443.35 365.74,443.31 366.02,443.73 366.3,443.78 366.58,445.01 366.86,445.53 367.14,446.5 367.42,447.08 367.7,447.4 367.98,448.66 368.26,450.11 368.54,450.51 368.81,452.95 369.09,452.42 369.37,453.11 369.65,454.66 369.93,455.19 370.21,455.47 370.49,455.95 370.77,456.74 371.05,457.35 371.33,457.69 371.61,457.53 371.88,458.14 372.16,458.56 372.44,458.73 372.72,457.17 373,458.31 373.28,458.49 373.56,458.85 373.84,459.14 374.12,459.56 374.4,459.51 374.68,459.25 374.96,459.39 375.23,460.24 375.51,459.23 375.79,459.7 376.07,460.32 376.35,459.83 376.63,458.8 376.91,459.94 377.19,459.64 377.47,459.8 377.75,460.37 378.03,460.14 378.31,459.85 378.58,460.41 378.86,460.23 379.14,460.12 379.42,460.24 379.7,460.25 379.98,460.01 380.26,459.98 380.54,460.23 380.82,459.81 381.1,459.7 381.38,460.88 381.65,460.21 381.93,460.32 382.21,460.3 382.49,460.39 382.77,460.41 383.05,460.45 383.33,460.07 383.61,460.87 383.89,460.16 384.17,460.95 384.45,459.64 384.73,460.04 385,460.98 385.28,460.48 385.56,460.26 385.84,460.75 386.12,460.12 386.4,460.64 386.68,459.62 386.96,460.43 387.24,460.35 387.52,460.9 387.8,461.06 388.07,460.29 388.35,461.41 388.63,460.43 388.91,459.78 389.19,459.65 389.47,461.42 389.75,460.7 390.03,460.46 390.31,460.42 390.59,460.27 390.87,461.38 391.15,460.74 391.42,461.6 391.7,460.71 391.98,459.75 392.26,461.19 392.54,460.66 392.82,460.72 393.1,461.54 393.38,460.72 393.66,461.37 393.94,460.85 394.22,460.52 394.49,461.1 394.77,460.6 395.05,461.43 395.33,461.32 395.61,460.92 395.89,461.17 396.17,461.16 396.45,460.79 396.73,461.32 397.01,460.82 397.29,461.2 397.57,460.5 397.84,460.98 398.12,461.13 398.4,460.59 398.68,460.76 398.96,460.71 399.24,461.29 399.52,460.64 399.8,461.17 400.08,461.66 400.36,461.14 400.64,460.26 400.91,461.04 401.19,461.46 401.47,460.86 401.75,461.5 402.03,461.28 402.31,461.19 402.59,460.89 402.87,460.78 403.15,460.9 403.43,461.05 403.71,461.26 403.99,461.21 404.26,460.89 404.54,461.06 404.82,461.21 405.1,460.31 405.38,460.7 405.66,460.68 405.94,460.96 406.22,460.93 406.5,460.94 406.78,460.66 407.06,461.36 407.33,461.19 407.61,460.33 407.89,461.07 408.17,460.56 408.45,461.84 408.73,460.87 409.01,460.9 409.29,461.12 409.57,460.99 409.85,461.06 410.13,461.78 410.41,461.19 410.68,461.47 410.96,461.6 411.24,460.66 411.52,461.86 411.8,461.41 412.08,461.53 412.36,460.72 412.64,461.47 412.92,461.29 413.2,460.87 413.48,462.14 413.75,461.37 414.03,461.01 414.31,461.2 414.59,461.53 414.87,461.63 415.15,461.38 415.43,461.67 415.71,461.79 415.99,460.57 416.27,460.91 416.55,460.71 416.83,461.18 417.1,461.78 417.38,461.43 417.66,460.67 417.94,461.01 418.22,461.6 418.5,460.9" fill="none" stroke="#2e6e2e" stroke-width="0.9" stroke-linejoin="round" />
<polyline points="251.3,461.08 251.58,461.26 251.86,460.3 252.14,461.47 252.42,461.27 252.7,461.37 252.97,460.67 253.25,460.77 253.53,460.84 253.81,461.22 254.09,461.14 254.37,461.16 254.65,461.91 254.93,461.69 255.21,460.77 255.49,460.8 255.77,461.86 256.05,460.94 256.32,461.7 256.6,461.8 256.88,460.83 257.16,460.95 257.44,461.11 257.72,460.68 258,460.63 258.28,460.88 258.56,461.44 258.84,460.85 259.12,460.96 259.39,460.84 259.67,460.43 259.95,461.71 260.23,459.98 260.51,460.74 260.79,461.28 261.07,460.4 261.35,461.29 261.63,461.58 261.91,460.62 262.19,461.1 262.47,460.5 262.74,461.22 263.02,461.03 263.3,461.08 263.58,461.6 263.86,461.19 264.14,461.58 264.42,461.25 264.7,460.42 264.98,461.07 265.26,461.17 265.54,460.29 265.81,461.53 266.09,460.96 266.37,461.08 266.65,460.51 266.93,460.94 267.21,461.03 267.49,460.74 267.77,460.92 268.05,459.92 268.33,461.48 268.61,460.35 268.89,459.86 269.16,460.4 269.44,460.45 269.72,461.06 270,460.39 270.28,460.92 270.56,460.35 270.84,461.76 271.12,461 271.4,461.62 271.68,460.27 271.96,461.02 272.23,460.27 272.51,460.95 272.79,460.98 273.07,459.94 273.35,460.13 273.63,460.1 273.91,459.93 274.19,460.26 274.47,460.13 274.75,459.89 275.03,460.57 275.31,460.75 275.58,459.89 275.86,460.2 276.14,460.43 276.42,460.29 276.7,460.05 276.98,460.7 277.26,460.69 277.54,460.58 277.82,460.14 278.1,461.09 278.38,460.94 278.65,459.92 278.93,460 279.21,460.54 279.49,459.58 279.77,460.06 280.05,459.83 280.33,459.41 280.61,459.54 280.89,458.84 281.17,459.19 281.45,458.42 281.73,460.21 282,459.71 282.28,459.42 282.56,458.82 282.84,458.93 283.12,458.82 283.4,458.45 283.68,458.12 283.96,456.98 284.24,457.23 284.52,456.41 284.8,455.7 285.07,455.26 285.35,455.46 285.63,455.2 285.91,453.53 286.19,454.3 286.47,453.5 286.75,451.95 287.03,451.15 287.31,450.53 287.59,450.17 287.87,448.69 288.15,447.46 288.42,447.2 288.7,445.18 288.98,445.22 289.26,444.74 289.54,443.43 289.82,442.74 290.1,441.74 290.38,441.03 290.66,440.03 290.94,438.93 291.22,438.65 291.49,438.27 291.77,438.55 292.05,438.54 292.33,437.96 292.61,437.54 292.89,437.79 293.17,438.41 293.45,439.62 293.73,439.75 294.01,440.28 294.29,440.74 294.57,442.31 294.84,442.93 295.12,443.7 295.4,444.7 295.68,446.35 295.96,446.46 296.24,448.22 296.52,448.93 296.8,449.27 297.08,450.5 297.36,450.86 297.64,451.32 297.92,452.31 298.19,452.71 298.47,454 298.75,454.38 299.03,455.2 299.31,455.83 299.59,454.54 299.87,456.52 300.15,455.97 300.43,457.22 300.71,457.08 300.99,457.82 301.26,458.65 301.54,457.51 301.82,458.58 302.1,458.65 302.38,458.01 302.66,459.31 302.94,459.17 303.22,459.05 303.5,459.06 303.78,460.93 304.06,459.4 304.34,458.85 304.61,459.31 304.89,459.63 305.17,459.68 305.45,459.87 305.73,459.48 306.01,460.24 306.29,459.82 306.57,459.47 306.85,459.75 307.13,459.97 307.41,460.56 307.68,460.42 307.96,460.08 308.24,460.27 308.52,460.38 308.8,461.22 309.08,460.05 309.36,460.55 309.64,460.69 309.92,459.95 310.2,460.48 310.48,460.48 310.76,460.21 311.03,460.7 311.31,460.92 311.59,460.97 311.87,460.39 312.15,460.57 312.43,461.56 312.71,460.01 312.99,460.62 313.27,460.93 313.55,460.6 313.83,460.84 314.1,460.63 314.38,460.9 314.66,461.14 314.94,460.47 315.22,460.66 315.5,460.55 315.78,460.4 316.06,460.58 316.34,460.08 316.62,460.93 316.9,461.36 317.18,461.37 317.45,461.18 317.73,460.17 318.01,461.29 318.29,460.29 318.57,460.59 318.85,461.44 319.13,460.13 319.41,460.99 319.69,460.74 319.97,460.54 320.25,460.22 320.52,460.8 320.8,460.4 321.08,461.08 321.36,461.16 321.64,459.98 321.92,460.37 322.2,460.45 322.48,460.06 322.76,460.09 323.04,460.63 323.32,460.49 323.6,459.84 323.87,460.33 324.15,460.8 324.43,460.02 324.71,460.14 324.99,461.27 325.27,461.14 325.55,459.81 325.83,459.93 326.11,460.7 326.39,459.98 326.67,460.4 326.94,460.3 327.22,460.75 327.5,459.35 327.78,459.48 328.06,459.91 328.34,460.91 328.62,460.37 328.9,459.66 329.18,460.64 329.46,460.73 329.74,460.29 330.02,460.23 330.29,460.57 330.57,460.9 330.85,460.41 331.13,460.57 331.41,460.29 331.69,460.12 331.97,459.86 332.25,460.37 332.53,460.1 332.81,460.11 333.09,460.62 333.36,460.4 333.64,460.55 333.92,459.42 334.2,460.36 334.48,459.82 334.76,459.7 335.04,459.65 335.32,460.55 335.6,460.35 335.88,459.62 336.16,459.4 336.44,459.89 336.71,459.64 336.99,460.56 337.27,459.12 337.55,458.91 337.83,459.58 338.11,459.66 338.39,459.67 338.67,459.9 338.95,460.44 339.23,459.31 339.51,459.16 339.78,458.56 340.06,459.4 340.34,459.61 340.62,459.05 340.9,459.63 341.18,459.04 341.46,459.63 341.74,459.02 342.02,458.31 342.3,458.41 342.58,457.91 342.86,457.72 343.13,458.51 343.41,458.67 343.69,459.04 343.97,458.01 344.25,457.79 344.53,457.26 344.81,458.05 345.09,457.61 345.37,456.99 345.65,457.38 345.93,457.12 346.2,455.8 346.48,456.74 346.76,456.2 347.04,455.67 347.32,455.34 347.6,455.96 347.88,455.46 348.16,455.14 348.44,453.28 348.72,452.92 349,452.94 349.28,451.21 349.55,450.53 349.83,449.01 350.11,449.45 350.39,447.7 350.67,445.83 350.95,443.88 351.23,441.5 351.51,439.11 351.79,436.87 352.07,433.24 352.35,430.74 352.62,426.25 352.9,422 353.18,418.57 353.46,413.2 353.74,408.51 354.02,402.85 354.3,396.65 354.58,392.48 354.86,386.29 355.14,382.28 355.42,376.41 355.7,372.2 355.97,369.94 356.25,367.76 356.53,366.54 356.81,366.09 357.09,368.39 357.37,369.81 357.65,373.7 357.93,377.77 358.21,382.72 358.49,388.41 358.77,393.07 359.04,398.96 359.32,404.29 359.6,408.29 359.88,413.36 360.16,418.22 360.44,422.29 360.72,426.47 361,428.86 361.28,433.05 361.56,435.67 361.84,437.48 362.12,438.8 362.39,440.95 362.67,441.91 362.95,443.33 363.23,443.7 363.51,444.51 363.79,444.24 364.07,445.2 364.35,443.51 364.63,444.03 364.91,444.62 365.19,443.65 365.46,444.65 365.74,443.86 366.02,444.65 366.3,444.55 366.58,445.24 366.86,446.14 367.14,446.75 367.42,447.44 367.7,449.46 367.98,449.41 368.26,449.89 368.54,451.66 368.81,452.49 369.09,453.51 369.37,454.55 369.65,454.05 369.93,455.61 370.21,456.24 370.49,456.26 370.77,456.83 371.05,455.77 371.33,457.22 371.61,458.58 371.88,457.23 372.16,458.02 372.44,458.58 372.72,458.88 373,459.5 373.28,458.1 373.56,459.02 373.84,459.49 374.12,458.6 374.4,459.25 374.68,460.19 374.96,460.01 375.23,459.72 375.51,458.36 375.79,459.54 376.07,459.82 376.35,459.56 376.63,459.72 376.91,461.18 377.19,459.74 377.47,459.44 377.75,460.03 378.03,459.81 378.31,459.85 378.58,459.99 378.86,460.41 379.14,460.2 379.42,459.58 379.7,460.09 379.98,460.39 380.26,460 380.54,460.75 380.82,460.61 381.1,459.84 381.38,460.45 381.65,461.22 381.93,461.05 382.21,460.35 382.49,460.8 382.77,460.11 383.05,459.78 383.33,460.7 383.61,460.58 383.89,460.72 384.17,460.49 384.45,460.66 384.73,460.3 385,460.76 385.28,460.94 385.56,460.55 385.84,460.96 386.12,459.81 386.4,460.26 386.68,461.28 386.96,461.43 387.24,460.77 387.52,460.62 387.8,460.11 388.07,460.85 388.35,461.05 388.63,460.04 388.91,460.97 389.19,460.95 389.47,460.94 389.75,460.24 390.03,461 390.31,460.09 390.59,461.44 390.87,460.84 391.15,460.27 391.42,461.41 391.7,461.33 391.98,460.52 392.26,461.81 392.54,460.38 392.82,460.98 393.1,461.38 393.38,459.83 393.66,461.31 393.94,460.84 394.22,460.86 394.49,460.39 394.77,461.03 395.05,460.39 395.33,460.46 395.61,460.7 395.89,460.35 396.17,461.62 396.45,460.32 396.73,460.58 397.01,460.78 397.29,460.93 397.57,461.29 397.84,461.31 398.12,460.81 398.4,460.78 398.68,460.97 398.96,461.33 399.24,461.28 399.52,460.74 399.8,460.05 400.08,461.94 400.36,461.41 400.64,461.1 400.91,461.14 401.19,460.76 401.47,460.55 401.75,460.85 402.03,460.9 402.31,460.73 402.59,460.35 402.87,460.87 403.15,461.28 403.43,460.8 403.71,461.03 403.99,460.1 404.26,460.94 404.54,460.98 404.82,460.48 405.1,460.26 405.38,461.23 405.66,460.68 405.94,461.27 406.22,460.86 406.5,461.33 406.78,460.9 407.06,460.38 407.33,461.02 407.61,460.92 407.89,461.36 408.17,460.87 408.45,460.89 408.73,461.46 409.01,461.6 409.29,461.42 409.57,461.55 409.85,461.29 410.13,461.43 410.41,461.48 410.68,461.27 410.96,461.12 411.24,461.16 411.52,462.18 411.8,461.1 412.08,460.99 412.36,460.94 412.64,461.09 412.92,461.21 413.2,460.6 413.48,460.22 413.75,461.24 414.03,460.39 414.31,461.23 414.59,461.18 414.87,461.64 415.15,461.87 415.43,461.29 415.71,460.87 415.99,460.6 416.27,460.77 416.55,461.15 416.83,460.2 417.1,461.16 417.38,461.13 417.66,461.42 417.94,460.98 418.22,461.18 418.5,460.81" fill="none" stroke="#3a3a90" stroke-width="0.8" stroke-linejoin="round" />
<polyline points="251.3,460.81 251.58,460.22 251.86,461.07 252.14,461.71 252.42,461.08 252.7,461.17 252.97,460.56 253.25,461.64 253.53,460.65 253.81,461.35 254.09,461.03 254.37,460.55 254.65,461.44 254.93,460.98 255.21,461.05 255.49,461.16 255.77,460.95 256.05,460.78 256.32,461.16 256.6,460.76 256.88,460.97 257.16,460.63 257.44,460.26 257.72,460.62 258,460.69 258.28,460.92 258.56,461.44 258.84,460.14 259.12,460.95 259.39,459.89 259.67,460.41 259.95,460.65 260.23,459.85 260.51,460.02 260.79,460.92 261.07,460.88 261.35,460.79 261.63,460.47 261.91,461.79 262.19,460.74 262.47,460.42 262.74,461.56 263.02,461.07 263.3,460.62 263.58,461.31 263.86,460.83 264.14,461.04 264.42,460.85 264.7,460.27 264.98,461.16 265.26,460.79 265.54,460.25 265.81,460.35 266.09,461.11 266.37,460.5 266.65,460.68 266.93,460.94 267.21,460.69 267.49,459.93 267.77,460.89 268.05,461.01 268.33,460.96 268.61,461.28 268.89,460.7 269.16,460.87 269.44,461.22 269.72,460.36 270,461.25 270.28,461.23 270.56,460.79 270.84,461.24 271.12,460.77 271.4,459.97 271.68,460.86 271.96,460.47 272.23,460.48 272.51,460.34 272.79,460.86 273.07,460.47 273.35,459.88 273.63,460.38 273.91,460.46 274.19,459.77 274.47,459.87 274.75,459.86 275.03,459.72 275.31,460.11 275.58,460.37 275.86,460.72 276.14,460.36 276.42,460.24 276.7,460.24 276.98,460.27 277.26,459.45 277.54,459.87 277.82,459.64 278.1,459.36 278.38,459.14 278.65,459.04 278.93,459.06 279.21,458.53 279.49,459.22 279.77,458.86 280.05,458.8 280.33,458.76 280.61,458.79 280.89,458.02 281.17,458.06 281.45,457.17 281.73,456.66 282,456.53 282.28,457.8 282.56,455.97 282.84,456.64 283.12,456.69 283.4,455.37 283.68,455.81 283.96,455.36 284.24,454.34 284.52,454.31 284.8,452.79 285.07,451.38 285.35,451.06 285.63,449.68 285.91,448.27 286.19,447.18 286.47,447.61 286.75,445.08 287.03,443.98 287.31,442.3 287.59,441.2 287.87,439.51 288.15,437.86 288.42,435.89 288.7,434.16 288.98,432.81 289.26,431.63 289.54,430.81 289.82,428.77 290.1,427.6 290.38,425.58 290.66,424.02 290.94,422.31 291.22,421.93 291.49,420.19 291.77,420.47 292.05,421.03 292.33,420.38 292.61,420.92 292.89,420.67 293.17,420.89 293.45,422.16 293.73,423.26 294.01,425.21 294.29,426.92 294.57,427.16 294.84,428.88 295.12,430.58 295.4,432.13 295.68,433.38 295.96,435.62 296.24,437.37 296.52,438.97 296.8,439.79 297.08,441.77 297.36,442.47 297.64,445.03 297.92,445.45 298.19,447 298.47,448.06 298.75,449.06 299.03,449.83 299.31,450.42 299.59,452.84 299.87,452.94 300.15,453.65 300.43,455.11 300.71,454.7 300.99,455.51 301.26,455.75 301.54,456.69 301.82,456.77 302.1,457.02 302.38,457.07 302.66,457.58 302.94,458.22 303.22,456.98 303.5,458.06 303.78,458.1 304.06,458.31 304.34,457.7 304.61,459.04 304.89,458.45 305.17,458.83 305.45,458.8 305.73,458.37 306.01,459 306.29,458.44 306.57,458.92 306.85,459.26 307.13,459.46 307.41,459.54 307.68,459.51 307.96,460.58 308.24,459.86 308.52,459.16 308.8,459.47 309.08,459.49 309.36,459.74 309.64,459.58 309.92,459.5 310.2,460.66 310.48,459.97 310.76,459.83 311.03,459.89 311.31,459.93 311.59,460.68 311.87,460.29 312.15,460.61 312.43,458.72 312.71,460.29 312.99,460.64 313.27,461.07 313.55,460.21 313.83,459.44 314.1,460.49 314.38,459.97 314.66,459.45 314.94,459.99 315.22,460.76 315.5,460.84 315.78,460.63 316.06,459.84 316.34,461.46 316.62,459.81 316.9,460.31 317.18,459.7 317.45,460.95 317.73,460.57 318.01,460.78 318.29,460.42 318.57,460.36 318.85,460.47 319.13,459.55 319.41,460.85 319.69,460.82 319.97,460.24 320.25,460.41 320.52,460.55 320.8,461.13 321.08,460.62 321.36,460.45 321.64,460.2 321.92,459.75 322.2,460.16 322.48,460.46 322.76,460.32 323.04,460.46 323.32,460.76 323.6,460.62 323.87,460.55 324.15,460.72 324.43,460.51 324.71,460.4 324.99,460.63 325.27,459.63 325.55,460.97 325.83,459.82 326.11,460.78 326.39,460.4 326.67,460.89 326.94,460.4 327.22,459.95 327.5,460.85 327.78,460.44 328.06,460.41 328.34,460.38 328.62,460.79 328.9,460.69 329.18,460.42 329.46,459.61 329.74,460.11 330.02,460.33 330.29,461.08 330.57,460.43 330.85,460.21 331.13,460.77 331.41,460.17 331.69,460.19 331.97,460.26 332.25,459.5 332.53,460.58 332.81,460.33 333.09,459.99 333.36,459.58 333.64,460.17 333.92,460.68 334.2,459.74 334.48,459.53 334.76,460.17 335.04,459.24 335.32,458.93 335.6,459.7 335.88,459.56 336.16,459.72 336.44,459.56 336.71,459.93 336.99,459.64 337.27,459.44 337.55,459.46 337.83,459.91 338.11,460.02 338.39,459.95 338.67,459.81 338.95,457.97 339.23,458.95 339.51,459.2 339.78,459.38 340.06,458.5 340.34,459.81 340.62,459.24 340.9,458.76 341.18,459.04 341.46,458.73 341.74,458.47 342.02,458.95 342.3,458.43 342.58,457.91 342.86,458.16 343.13,458.29 343.41,457.74 343.69,458.68 343.97,457.49 344.25,458.64 344.53,458.11 344.81,457.13 345.09,457.45 345.37,457.74 345.65,456.94 345.93,456.28 346.2,456.65 346.48,457.25 346.76,455.42 347.04,456.05 347.32,455.48 347.6,455.07 347.88,454.54 348.16,454.12 348.44,454.22 348.72,453.43 349,452.04 349.28,452.41 349.55,450.22 349.83,450.06 350.11,448.65 350.39,447.71 350.67,445.73 350.95,444.21 351.23,441.62 351.51,439.68 351.79,436.69 352.07,434.47 352.35,429.82 352.62,426.95 352.9,422.55 353.18,418 353.46,412.94 353.74,408.39 354.02,402.3 354.3,396.97 354.58,392.49 354.86,386.12 355.14,382.36 355.42,376.9 355.7,373.07 355.97,369.75 356.25,367.67 356.53,366.27 356.81,366.37 357.09,367.83 357.37,370.83 357.65,374.3 357.93,378.57 358.21,382.92 358.49,387.79 358.77,392.43 359.04,398.81 359.32,404.15 359.6,408.64 359.88,413.98 360.16,418.66 360.44,422.23 360.72,426.38 361,429.36 361.28,431.34 361.56,434.41 361.84,436.54 362.12,438.67 362.39,439.4 362.67,440.61 362.95,441.09 363.23,441.95 363.51,442.2 363.79,442.62 364.07,442.4 364.35,441.87 364.63,441.6 364.91,441.24 365.19,440.98 365.46,441.47 365.74,439.64 366.02,440.84 366.3,441.41 366.58,442.33 366.86,442.07 367.14,443.62 367.42,444.87 367.7,445.39 367.98,445.88 368.26,447.75 368.54,448.54 368.81,450.5 369.09,450.9 369.37,453.08 369.65,453.27 369.93,453.69 370.21,454.58 370.49,454.98 370.77,456.24 371.05,457.24 371.33,456.91 371.61,457.8 371.88,457.28 372.16,458.12 372.44,459.25 372.72,457.78 373,459.13 373.28,459.26 373.56,458.01 373.84,458.32 374.12,458.63 374.4,459.6 374.68,459.05 374.96,459.25 375.23,459.71 375.51,459.51 375.79,459.62 376.07,459.43 376.35,460.14 376.63,459.33 376.91,460.49 377.19,459.63 377.47,459.47 377.75,460.16 378.03,460.11 378.31,459.06 378.58,460.08 378.86,459.41 379.14,459.68 379.42,460.44 379.7,459.73 379.98,460.31 380.26,460.01 380.54,461.07 380.82,460.19 381.1,459.73 381.38,459.78 381.65,459.9 381.93,460.39 382.21,460.35 382.49,460.81 382.77,460.47 383.05,460.47 383.33,460.58 383.61,460.39 383.89,460.6 384.17,460.84 384.45,460.85 384.73,460.27 385,459.74 385.28,460.19 385.56,460.69 385.84,459.46 386.12,460.38 386.4,460.81 386.68,460.37 386.96,460.13 387.24,461.43 387.52,461.28 387.8,460.55 388.07,461.28 388.35,461.28 388.63,460.19 388.91,461.92 389.19,460.3 389.47,460.61 389.75,460.25 390.03,460.79 390.31,460.17 390.59,460.77 390.87,461.27 391.15,460.88 391.42,460.68 391.7,461.5 391.98,460.41 392.26,461.25 392.54,460.69 392.82,460.93 393.1,460.85 393.38,460.9 393.66,460.83 393.94,460.51 394.22,460.61 394.49,461.07 394.77,460.83 395.05,460.36 395.33,460.57 395.61,460.58 395.89,460.88 396.17,460.99 396.45,460.95 396.73,460.62 397.01,460.93 397.29,460.31 397.57,459.63 397.84,460.91 398.12,460.2 398.4,460.52 398.68,460.41 398.96,461.24 399.24,460.41 399.52,461.09 399.8,460.75 400.08,460.41 400.36,460.27 400.64,461.19 400.91,461.15 401.19,461.33 401.47,461.81 401.75,461.11 402.03,461.12 402.31,460.94 402.59,461.05 402.87,460.85 403.15,460.6 403.43,461.91 403.71,460.18 403.99,461.13 404.26,461.22 404.54,461.09 404.82,460.59 405.1,460.94 405.38,460.82 405.66,460.55 405.94,461.01 406.22,460.85 406.5,460.79 406.78,461.35 407.06,460.57 407.33,461.24 407.61,460.77 407.89,461.24 408.17,461.08 408.45,461.16 408.73,460.62 409.01,460.71 409.29,460.68 409.57,461.14 409.85,461.4 410.13,461.55 410.41,460.84 410.68,461.11 410.96,460.35 411.24,460.08 411.52,460.69 411.8,460.78 412.08,460.38 412.36,460.28 412.64,461.32 412.92,460.72 413.2,460.33 413.48,462.13 413.75,461.17 414.03,460.95 414.31,461.4 414.59,460.75 414.87,461.81 415.15,460.41 415.43,460.51 415.71,461.04 415.99,460.76 416.27,461.73 416.55,460.38 416.83,460.78 417.1,461.21 417.38,461.36 417.66,461.56 417.94,461.26 418.22,462.1 418.5,460.9" fill="none" stroke="#15155a" stroke-width="1.4" stroke-linejoin="round" />
<line x1="260" y1="363.5" x2="273.6" y2="363.5" stroke="#222" stroke-width="1.4"/>
<text x="276.2" y="365.6" font-size="6.0" text-anchor="start" fill="#222" letter-spacing="0.35" stroke="#222" stroke-width="0.22">100g</text>
<line x1="260" y1="372.5" x2="273.6" y2="372.5" stroke="#b07878" stroke-width="1.4"/>
<text x="276.2" y="374.6" font-size="6.0" text-anchor="start" fill="#222" letter-spacing="0.35" stroke="#222" stroke-width="0.22">230g</text>
<line x1="260" y1="381.5" x2="273.6" y2="381.5" stroke="#4a5096" stroke-width="1.4"/>
<text x="276.2" y="383.6" font-size="6.0" text-anchor="start" fill="#222" letter-spacing="0.35" stroke="#222" stroke-width="0.22">410g</text>
<line x1="260" y1="390.5" x2="273.6" y2="390.5" stroke="#c47ac8" stroke-width="1.4"/>
<text x="276.2" y="392.6" font-size="6.0" text-anchor="start" fill="#222" letter-spacing="0.35" stroke="#222" stroke-width="0.22">640g</text>
<line x1="260" y1="399.5" x2="273.6" y2="399.5" stroke="#3a7a3a" stroke-width="1.4"/>
<text x="276.2" y="401.6" font-size="6.0" text-anchor="start" fill="#222" letter-spacing="0.35" stroke="#222" stroke-width="0.22">920g</text>
<line x1="260" y1="408.5" x2="273.6" y2="408.5" stroke="#151515" stroke-width="1.4"/>
<text x="276.2" y="410.6" font-size="6.0" text-anchor="start" fill="#222" letter-spacing="0.35" stroke="#222" stroke-width="0.22">2510g</text>
<line x1="251.3" y1="461.3" x2="253.8" y2="461.3" stroke="#1a1a1a" stroke-width="0.9"/>
<line x1="251.3" y1="451.55" x2="252.8" y2="451.55" stroke="#1a1a1a" stroke-width="0.9"/>
<text x="246.8" y="463.6" font-size="6.8" text-anchor="end" fill="#333" letter-spacing="0.5" stroke="#333" stroke-width="0.22">0.0</text>
<line x1="251.3" y1="441.8" x2="253.8" y2="441.8" stroke="#1a1a1a" stroke-width="0.9"/>
<line x1="251.3" y1="432.05" x2="252.8" y2="432.05" stroke="#1a1a1a" stroke-width="0.9"/>
<text x="246.8" y="444.1" font-size="6.8" text-anchor="end" fill="#333" letter-spacing="0.5" stroke="#333" stroke-width="0.22">0.2</text>
<line x1="251.3" y1="422.3" x2="253.8" y2="422.3" stroke="#1a1a1a" stroke-width="0.9"/>
<line x1="251.3" y1="412.55" x2="252.8" y2="412.55" stroke="#1a1a1a" stroke-width="0.9"/>
<text x="246.8" y="424.6" font-size="6.8" text-anchor="end" fill="#333" letter-spacing="0.5" stroke="#333" stroke-width="0.22">0.4</text>
<line x1="251.3" y1="402.8" x2="253.8" y2="402.8" stroke="#1a1a1a" stroke-width="0.9"/>
<line x1="251.3" y1="393.05" x2="252.8" y2="393.05" stroke="#1a1a1a" stroke-width="0.9"/>
<text x="246.8" y="405.1" font-size="6.8" text-anchor="end" fill="#333" letter-spacing="0.5" stroke="#333" stroke-width="0.22">0.6</text>
<line x1="251.3" y1="383.3" x2="253.8" y2="383.3" stroke="#1a1a1a" stroke-width="0.9"/>
<line x1="251.3" y1="373.55" x2="252.8" y2="373.55" stroke="#1a1a1a" stroke-width="0.9"/>
<text x="246.8" y="385.6" font-size="6.8" text-anchor="end" fill="#333" letter-spacing="0.5" stroke="#333" stroke-width="0.22">0.8</text>
<line x1="251.3" y1="363.8" x2="253.8" y2="363.8" stroke="#1a1a1a" stroke-width="0.9"/>
<text x="246.8" y="366.1" font-size="6.8" text-anchor="end" fill="#333" letter-spacing="0.5" stroke="#333" stroke-width="0.22">1.0</text>
<line x1="251.3" y1="479.8" x2="251.3" y2="477.3" stroke="#1a1a1a" stroke-width="0.9"/>
<text x="251.1" y="489.5" font-size="6.8" text-anchor="middle" fill="#333" letter-spacing="0.9" stroke="#333" stroke-width="0.22">1200</text>
<line x1="279.17" y1="479.8" x2="279.17" y2="477.3" stroke="#1a1a1a" stroke-width="0.9"/>
<text x="278.97" y="489.5" font-size="6.8" text-anchor="middle" fill="#333" letter-spacing="0.9" stroke="#333" stroke-width="0.22">1300</text>
<line x1="307.03" y1="479.8" x2="307.03" y2="477.3" stroke="#1a1a1a" stroke-width="0.9"/>
<text x="306.83" y="489.5" font-size="6.8" text-anchor="middle" fill="#333" letter-spacing="0.9" stroke="#333" stroke-width="0.22">1400</text>
<line x1="334.9" y1="479.8" x2="334.9" y2="477.3" stroke="#1a1a1a" stroke-width="0.9"/>
<text x="334.7" y="489.5" font-size="6.8" text-anchor="middle" fill="#333" letter-spacing="0.9" stroke="#333" stroke-width="0.22">1500</text>
<line x1="362.77" y1="479.8" x2="362.77" y2="477.3" stroke="#1a1a1a" stroke-width="0.9"/>
<text x="362.57" y="489.5" font-size="6.8" text-anchor="middle" fill="#333" letter-spacing="0.9" stroke="#333" stroke-width="0.22">1600</text>
<line x1="390.63" y1="479.8" x2="390.63" y2="477.3" stroke="#1a1a1a" stroke-width="0.9"/>
<text x="390.43" y="489.5" font-size="6.8" text-anchor="middle" fill="#333" letter-spacing="0.9" stroke="#333" stroke-width="0.22">1700</text>
<line x1="418.5" y1="479.8" x2="418.5" y2="477.3" stroke="#1a1a1a" stroke-width="0.9"/>
<text x="418.3" y="489.5" font-size="6.8" text-anchor="middle" fill="#333" letter-spacing="0.9" stroke="#333" stroke-width="0.22">1800</text>
<text x="338" y="504.2" font-size="9.4" text-anchor="middle" fill="#222" stroke="#222" stroke-width="0.18" letter-spacing="0.45">Wavelength (nm)</text>
<text transform="translate(229.2,419.7) rotate(-90)" x="0" y="0" font-size="9.4" text-anchor="middle" fill="#222" letter-spacing="0.85" font-weight="normal" stroke="#222" stroke-width="0.2">Intensity</text>
<rect x="469.2" y="354.3" width="164.6" height="125.9" fill="none" stroke="#1a1a1a" stroke-width="1.2"/>
<line x1="481" y1="464.45" x2="622.8" y2="372.3" stroke="#111" stroke-width="1"/>
<rect x="521.2" y="431.3" width="3.8" height="3.8" fill="#111"/>
<rect x="530.5" y="425.4" width="3.8" height="3.8" fill="#111"/>
<rect x="541.9" y="422.7" width="3.8" height="3.8" fill="#111"/>
<rect x="548" y="414.8" width="3.8" height="3.8" fill="#111"/>
<rect x="559.7" y="409.6" width="3.8" height="3.8" fill="#111"/>
<rect x="611.3" y="377.6" width="3.8" height="3.8" fill="#111"/>
<rect x="476.2" y="464.2" width="4" height="4" fill="#d02030"/>
<line x1="469.2" y1="470.4" x2="471.7" y2="470.4" stroke="#1a1a1a" stroke-width="0.9"/>
<text x="464.7" y="472.7" font-size="6.8" text-anchor="end" fill="#333" letter-spacing="0.5" stroke="#333" stroke-width="0.22">0.0</text>
<line x1="469.2" y1="431.7" x2="471.7" y2="431.7" stroke="#1a1a1a" stroke-width="0.9"/>
<text x="464.7" y="434" font-size="6.8" text-anchor="end" fill="#333" letter-spacing="0.5" stroke="#333" stroke-width="0.22">0.2</text>
<line x1="469.2" y1="393" x2="471.7" y2="393" stroke="#1a1a1a" stroke-width="0.9"/>
<text x="464.7" y="395.3" font-size="6.8" text-anchor="end" fill="#333" letter-spacing="0.5" stroke="#333" stroke-width="0.22">0.4</text>
<line x1="469.2" y1="354.3" x2="471.7" y2="354.3" stroke="#1a1a1a" stroke-width="0.9"/>
<text x="464.7" y="356.6" font-size="6.8" text-anchor="end" fill="#333" letter-spacing="0.5" stroke="#333" stroke-width="0.22">0.6</text>
<line x1="478.1" y1="480.2" x2="478.1" y2="477.7" stroke="#1a1a1a" stroke-width="0.9"/>
<text x="478.1" y="489.3" font-size="6.8" text-anchor="middle" fill="#333" letter-spacing="0.5" stroke="#333" stroke-width="0.22">0</text>
<line x1="516.8" y1="480.2" x2="516.8" y2="477.7" stroke="#1a1a1a" stroke-width="0.9"/>
<text x="516.8" y="489.3" font-size="6.8" text-anchor="middle" fill="#333" letter-spacing="0.5" stroke="#333" stroke-width="0.22">1</text>
<line x1="555.5" y1="480.2" x2="555.5" y2="477.7" stroke="#1a1a1a" stroke-width="0.9"/>
<text x="555.5" y="489.3" font-size="6.8" text-anchor="middle" fill="#333" letter-spacing="0.5" stroke="#333" stroke-width="0.22">2</text>
<line x1="594.2" y1="480.2" x2="594.2" y2="477.7" stroke="#1a1a1a" stroke-width="0.9"/>
<text x="594.2" y="489.3" font-size="6.8" text-anchor="middle" fill="#333" letter-spacing="0.5" stroke="#333" stroke-width="0.22">3</text>
<line x1="632.9" y1="480.2" x2="632.9" y2="477.7" stroke="#1a1a1a" stroke-width="0.9"/>
<text x="632.9" y="489.3" font-size="6.8" text-anchor="middle" fill="#333" letter-spacing="0.5" stroke="#333" stroke-width="0.22">4</text>
<text x="538.7" y="501.8" font-size="7.4" text-anchor="middle" fill="#222" stroke="#222" stroke-width="0.18" letter-spacing="0.8">1/L</text>
<text transform="translate(442.2,419.5) rotate(-90)" font-size="10.5" text-anchor="middle" fill="#222">I<tspan font-size="5.5" dy="2.5">D</tspan><tspan dy="-2.5">/I</tspan><tspan font-size="5.5" dy="2.5">G</tspan></text>
<text transform="translate(590.4,486.2) scale(1,0.87)" x="0" y="0" font-family="'Liberation Sans', 'Noto Sans CJK SC', 'WenQuanYi Zen Hei', sans-serif" font-size="28" font-weight="bold" text-anchor="middle" fill="#e8174a" stroke="#fff" stroke-width="3" paint-order="stroke" letter-spacing="-0.5">话题库</text>
<text x="590.5" y="501.6" font-family="'DejaVu Sans', sans-serif" font-size="13.4" text-anchor="middle" fill="#d43558" stroke="#fff" stroke-width="2" paint-order="stroke" letter-spacing="0.2">huatiku.com</text>
</svg></body></html>
